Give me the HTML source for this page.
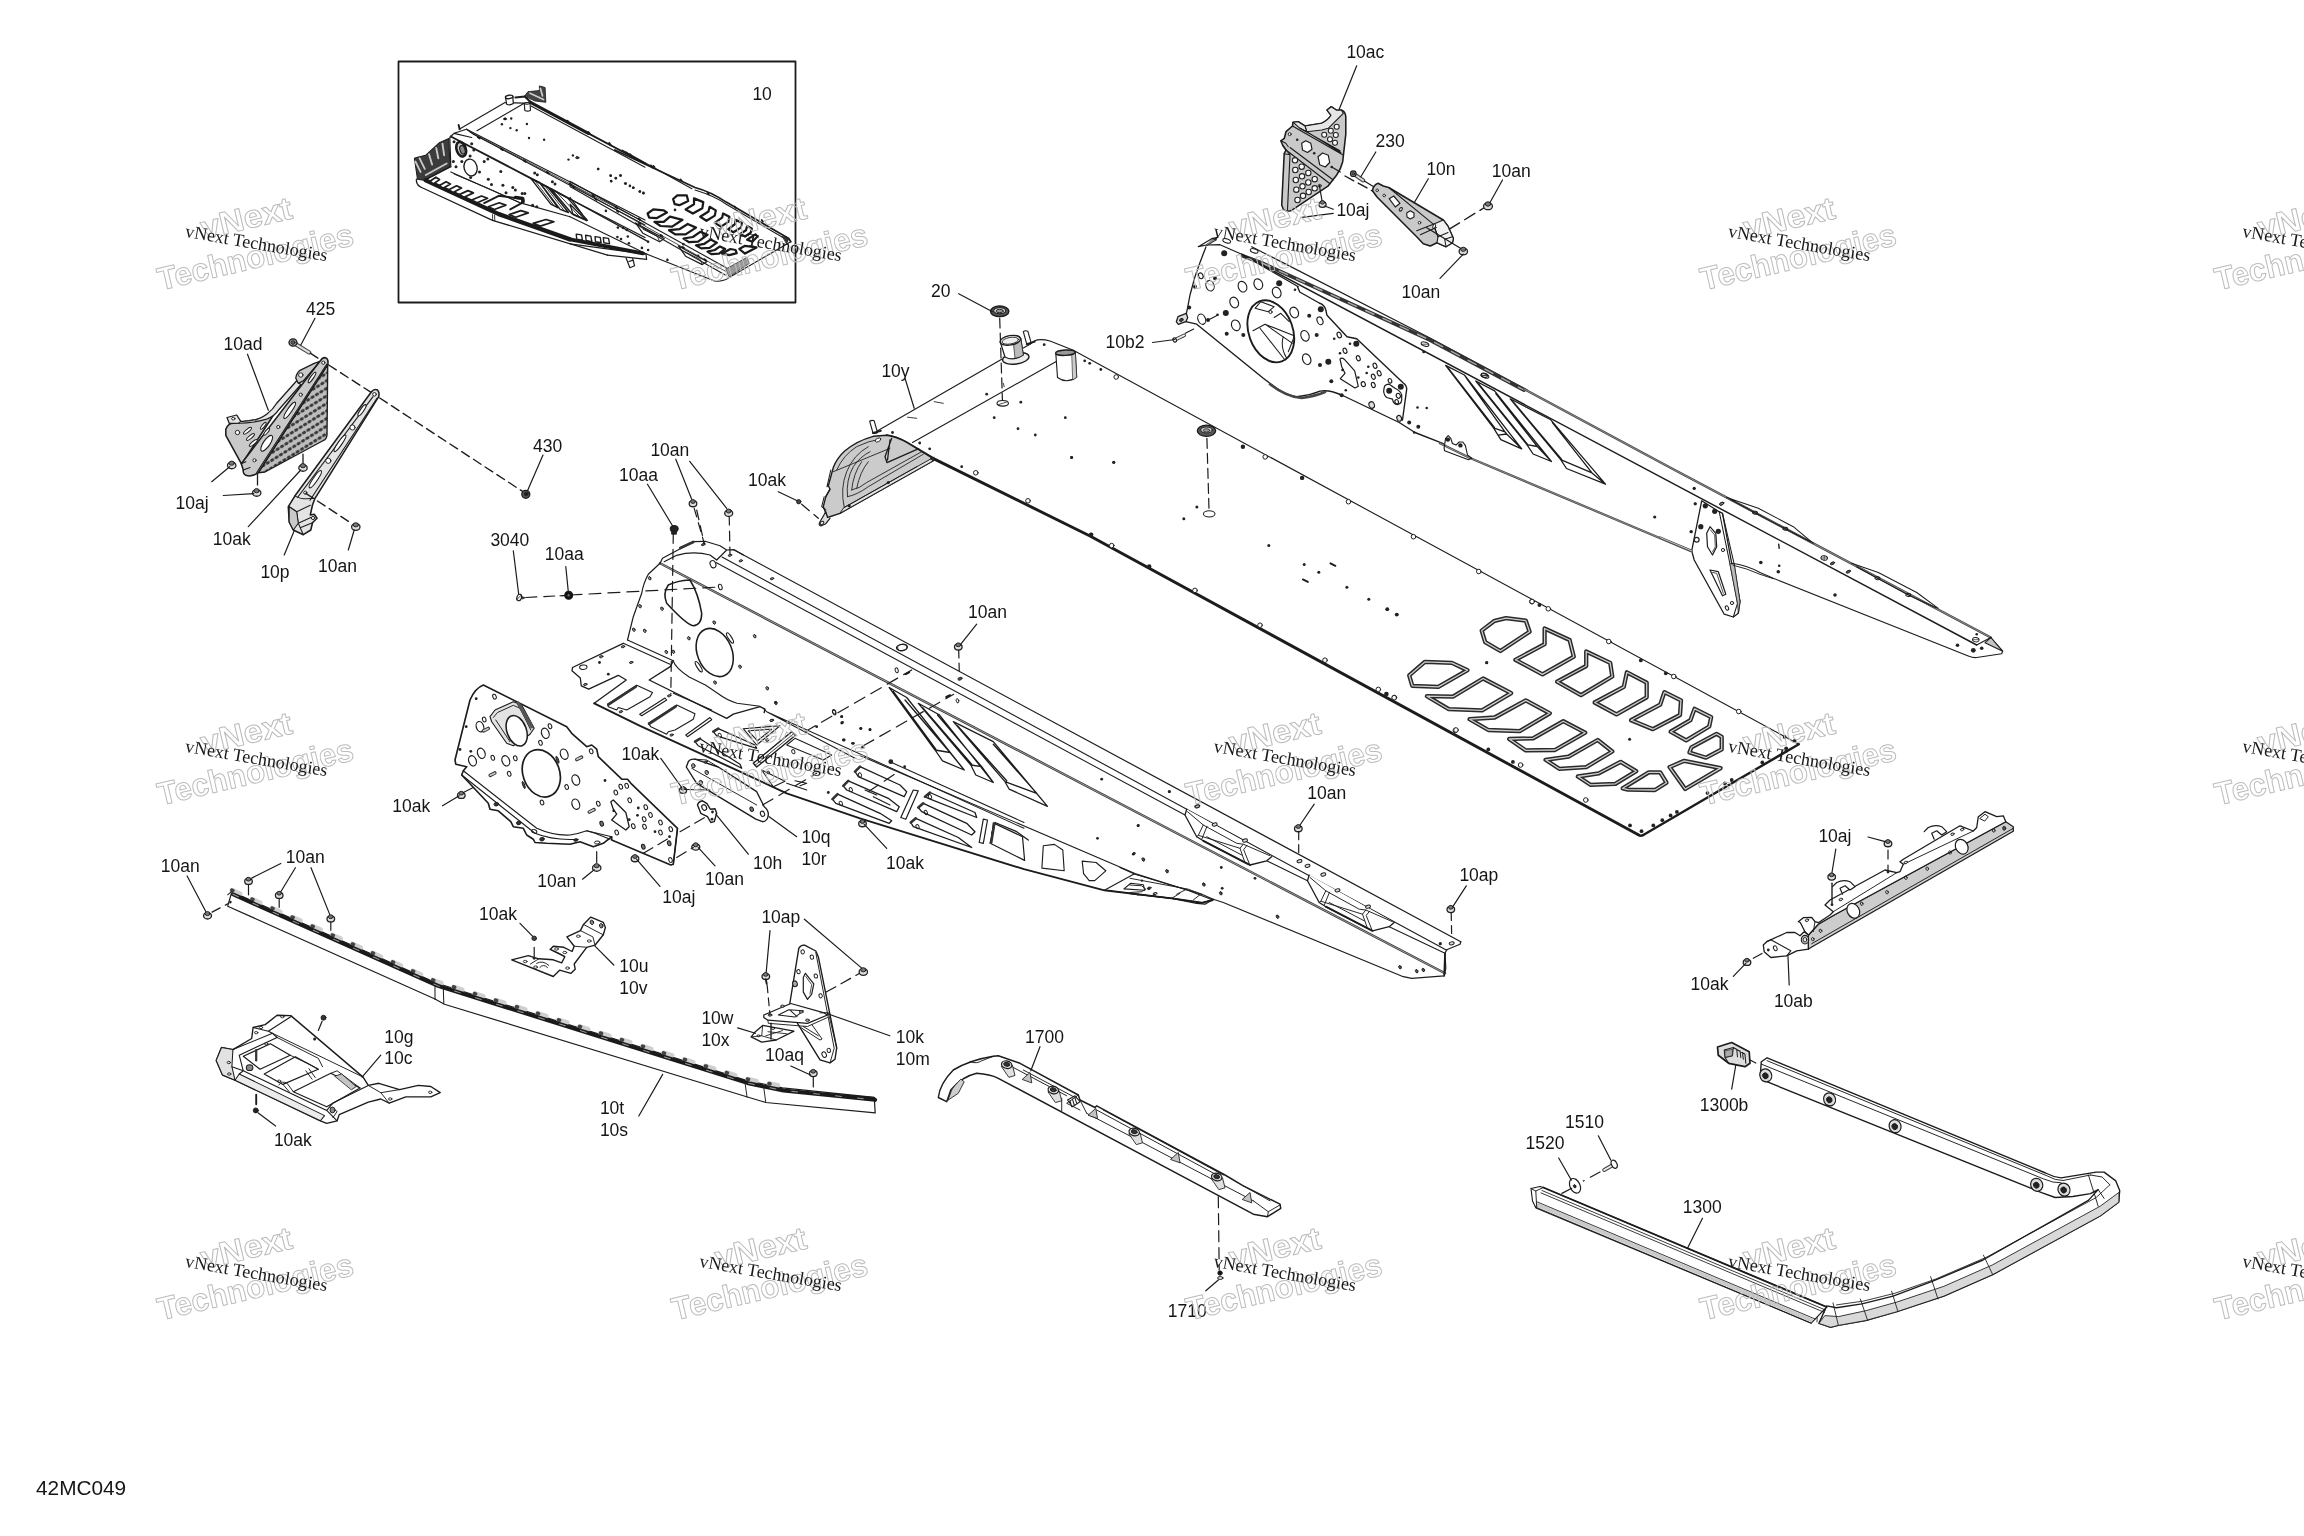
<!DOCTYPE html>
<html lang="en"><head><meta charset="utf-8"><title>42MC049</title>
<style>
html,body{margin:0;padding:0;background:#fff}
body{width:2304px;height:1536px;overflow:hidden}
svg{display:block;filter:blur(0.45px)}
svg text{font-family:"Liberation Sans",sans-serif;fill:#151515}
.wm1{font-family:"Liberation Sans",sans-serif;font-weight:bold;font-size:32px;fill:none;stroke:#bcbcbc;stroke-width:1px;text-anchor:middle}
.wm2{font-family:"Liberation Serif",serif;font-size:18px;fill:#1a1a1a}
</style></head><body>
<svg width="2304" height="1536" viewBox="0 0 2304 1536" stroke-linecap="round" stroke-linejoin="round">
<rect width="2304" height="1536" fill="#fff"/>
<g id="00_box">
<rect x="398.5" y="61.5" width="397" height="241" fill="none" stroke="#1c1c1c" stroke-width="1.8"/>
</g>
<g id="05_inset">
<path d="M 505.0 102.6 L 459.2 129.2 M 523.8 103.6 L 476.9 130.7 M 505.0 102.6 L 523.8 103.1" fill="none" stroke="#1c1c1c" stroke-width="1.12" />
<path d="M 530.0 102.1 L 588.3 133.3" fill="none" stroke="#1a1a1a" stroke-width="3.10" />
<path d="M 588.3 133.3 L 645.0 163.5" fill="none" stroke="#1a1a1a" stroke-width="1.89" />
<path d="M 531.0 106.0 L 645.0 167.2" fill="none" stroke="#1c1c1c" stroke-width="1.03" />
<path d="M 524.8 95.8 L 527.9 91.7 L 539.4 90.6 L 539.4 85.9 L 545.1 87.5 L 545.8 102.3 L 535.2 101.0 Z" fill="#444" stroke="#1c1c1c" stroke-width="0.86" />
<path d="M 530.0 93.2 L 543.5 99.5 M 540.4 88.5 L 542.5 95.8" fill="none" stroke="#ccc" stroke-width="1.72" />
<path d="M 515.4 97.4 L 524.8 96.4 L 530.0 101.6" fill="none" stroke="#1c1c1c" stroke-width="2.06" />
<path d="M 505.5 97.4 L 506.6 104.2 Q 510.2 105.7 513.3 103.6 L 512.8 96.4 Z" fill="#fff" stroke="#1c1c1c" stroke-width="1.20" />
<ellipse cx="509.2" cy="96.9" rx="3.8" ry="1.7" fill="#fff" stroke="#1c1c1c" stroke-width="1.38" transform="rotate(-8 509.2 96.9)"/>
<path d="M 524.3 103.6 L 524.8 110.4 Q 527.9 112.0 530.5 110.2 L 530.0 103.1 Z" fill="#fff" stroke="#1c1c1c" stroke-width="1.12" />
<ellipse cx="527.1" cy="103.3" rx="2.9" ry="0.9" fill="#ddd" stroke="#1c1c1c" stroke-width="1.03"/>
<path d="M 458.6 125.0 L 459.7 129.2" fill="none" stroke="#1c1c1c" stroke-width="1.89" />
<path d="M 466.5 129.2 L 645.0 220.0 M 473.8 134.4 L 645.0 225.0" fill="none" stroke="#1c1c1c" stroke-width="1.12" />
<path d="M 470.1 132.1 L 645.0 222.5" fill="none" stroke="#1c1c1c" stroke-width="0.77" />
<path d="M 450.8 136.5 L 454.0 133.3 L 466.5 129.2 L 473.8 134.4 M 454.0 133.3 L 471.7 137.5" fill="none" stroke="#1c1c1c" stroke-width="1.20" />
<path d="M 450.8 136.5 L 531.0 178.3 L 570.0 199.0" fill="none" stroke="#1c1c1c" stroke-width="1.89" />
<path d="M 570.0 199.0 L 645.0 237.5" fill="none" stroke="#1c1c1c" stroke-width="1.38" />
<path d="M 450.8 136.5 L 449.8 137.5 L 450.8 166.7" fill="none" stroke="#1c1c1c" stroke-width="1.20" />
<ellipse cx="461.2" cy="149.2" rx="4.6" ry="7.5" fill="#ccc" stroke="#1c1c1c" stroke-width="2.58" transform="rotate(-18 461.2 149.2)"/>
<ellipse cx="462.5" cy="149.8" rx="2.5" ry="4.4" fill="#888" stroke="#1c1c1c" stroke-width="1.20" transform="rotate(-18 462.5 149.8)"/>
<ellipse cx="470.6" cy="167.5" rx="6.5" ry="8.5" fill="none" stroke="#1c1c1c" stroke-width="1.38" transform="rotate(-15 470.6 167.5)"/>
<path d="M 531.0 178.6 L 539.4 182.3 L 558.1 207.8 L 550.8 204.2 Z M 540.4 183.3 L 547.7 187.0 L 568.5 212.5 L 560.2 209.4 Z M 550.8 188.5 L 567.5 197.9 L 587.3 220.3 L 571.7 213.5 Z" fill="none" stroke="#1c1c1c" stroke-width="1.38" />
<path d="M 535.2 181.2 L 554.0 205.7 M 544.6 185.6 L 564.4 210.9 M 557.1 192.7 L 580.0 217.2" fill="none" stroke="#1c1c1c" stroke-width="0.86" />
<path d="M 414.4 158.3 L 417.5 157.3 L 425.8 155.2 L 439.4 142.7 L 448.8 138.5 L 450.0 166.7 L 423.8 180.2 L 417.5 179.2 Z" fill="#3c3c3c" stroke="#1c1c1c" stroke-width="1.03" />
<path d="M 415.4 161.5 L 420.6 171.9 M 419.6 158.3 L 424.8 168.8 M 429.0 154.2 L 432.1 164.6 M 436.2 147.9 L 438.3 158.3 M 442.5 143.8 L 444.1 155.2 M 425.8 175.0 L 446.7 163.5" fill="none" stroke="#c8c8c8" stroke-width="1.89" />
<path d="M 416.5 179.2 Q 415.4 185.4 423.8 188.5 L 492.5 220.3 L 607.5 255.2 M 450.8 166.7 L 425.8 179.7" fill="none" stroke="#1c1c1c" stroke-width="1.29" />
<path d="M 425.8 180.4 L 498.8 214.1 L 570.0 239.4" fill="none" stroke="#1a1a1a" stroke-width="4.30" />
<path d="M 450.8 171.9 L 519.6 202.6 L 570.0 216.7" fill="none" stroke="#1c1c1c" stroke-width="1.12" />
<path d="M 454.0 174.0 L 488.3 188.5 L 519.6 202.6" fill="none" stroke="#1c1c1c" stroke-width="0.95" />
<path d="M 492.5 214.6 L 492.7 220.3 M 494.6 215.1 L 494.8 220.8" fill="none" stroke="#1c1c1c" stroke-width="0.86" />
<path d="M 430.0 181.2 L 435.8 177.3 L 439.5 179.6 L 433.2 184.0 Z" fill="#fff" stroke="#1c1c1c" stroke-width="1.72" />
<path d="M 439.4 185.6 L 446.1 181.7 L 450.4 184.0 L 443.1 188.3 Z" fill="#fff" stroke="#1c1c1c" stroke-width="1.72" />
<path d="M 448.8 189.8 L 456.6 185.8 L 461.5 188.1 L 453.1 192.5 Z" fill="#fff" stroke="#1c1c1c" stroke-width="1.72" />
<path d="M 459.2 194.6 L 467.9 190.6 L 473.4 192.9 L 464.1 197.3 Z" fill="#fff" stroke="#1c1c1c" stroke-width="1.72" />
<path d="M 471.7 200.0 L 481.5 196.0 L 487.6 198.3 L 477.2 202.7 Z" fill="#fff" stroke="#1c1c1c" stroke-width="1.72" />
<path d="M 488.3 206.8 L 499.2 202.8 L 505.9 205.1 L 494.4 209.5 Z" fill="#fff" stroke="#1c1c1c" stroke-width="1.72" />
<path d="M 509.2 214.6 L 520.9 210.6 L 528.3 212.9 L 515.7 217.3 Z" fill="#fff" stroke="#1c1c1c" stroke-width="1.72" />
<path d="M 533.1 223.4 L 545.9 219.5 L 554.0 221.8 L 540.3 226.1 Z" fill="#fff" stroke="#1c1c1c" stroke-width="1.72" />
<path d="M 484.2 203.1 L 498.8 195.8 L 522.7 199.0 L 521.7 203.1 L 510.2 209.4" fill="none" stroke="#1c1c1c" stroke-width="1.89" />
<path d="M 515.4 197.4 L 522.7 198.4 L 523.2 201.6" fill="none" stroke="#1a1a1a" stroke-width="3.44" />
<circle cx="505.0" cy="118.8" r="1.2" fill="#222"/>
<circle cx="501.9" cy="124.2" r="1.2" fill="#222"/>
<circle cx="511.2" cy="118.5" r="1.2" fill="#222"/>
<circle cx="526.9" cy="124.0" r="1.2" fill="#222"/>
<circle cx="510.4" cy="128.1" r="1.2" fill="#222"/>
<circle cx="516.7" cy="130.2" r="1.2" fill="#222"/>
<circle cx="529.0" cy="138.0" r="1.2" fill="#222"/>
<circle cx="544.1" cy="139.8" r="1.2" fill="#222"/>
<circle cx="576.9" cy="157.8" r="1.2" fill="#222"/>
<circle cx="568.5" cy="159.6" r="1.2" fill="#222"/>
<circle cx="572.9" cy="155.4" r="1.2" fill="#222"/>
<circle cx="598.2" cy="169.0" r="1.2" fill="#222"/>
<circle cx="610.7" cy="175.8" r="1.2" fill="#222"/>
<circle cx="620.6" cy="175.5" r="1.2" fill="#222"/>
<circle cx="615.9" cy="178.3" r="1.2" fill="#222"/>
<circle cx="611.2" cy="181.2" r="1.2" fill="#222"/>
<circle cx="625.8" cy="183.5" r="1.2" fill="#222"/>
<circle cx="633.1" cy="187.7" r="1.2" fill="#222"/>
<circle cx="639.9" cy="191.5" r="1.2" fill="#222"/>
<circle cx="643.5" cy="193.2" r="1.2" fill="#222"/>
<ellipse cx="505.0" cy="119.0" rx="1.7" ry="1.0" fill="#111" stroke="#1c1c1c" stroke-width="0.43"/>
<ellipse cx="577.4" cy="157.8" rx="1.5" ry="0.9" fill="#444" stroke="#1c1c1c" stroke-width="0.43"/>
<circle cx="454.0" cy="141.7" r="1.5" fill="#222"/>
<circle cx="471.7" cy="143.8" r="1.5" fill="#222"/>
<circle cx="473.8" cy="150.0" r="1.5" fill="#222"/>
<circle cx="470.1" cy="156.0" r="1.5" fill="#222"/>
<circle cx="453.4" cy="161.5" r="1.5" fill="#222"/>
<circle cx="461.8" cy="161.5" r="1.5" fill="#222"/>
<circle cx="456.0" cy="166.7" r="1.5" fill="#222"/>
<circle cx="479.5" cy="171.9" r="1.5" fill="#222"/>
<circle cx="470.6" cy="177.6" r="1.5" fill="#222"/>
<circle cx="484.2" cy="161.5" r="1.5" fill="#222"/>
<circle cx="487.8" cy="158.9" r="1.5" fill="#222"/>
<circle cx="488.3" cy="179.2" r="1.5" fill="#222"/>
<circle cx="491.5" cy="184.4" r="1.5" fill="#222"/>
<circle cx="500.8" cy="171.4" r="1.5" fill="#222"/>
<circle cx="502.9" cy="185.2" r="1.5" fill="#222"/>
<circle cx="506.0" cy="192.7" r="1.5" fill="#222"/>
<circle cx="512.8" cy="187.5" r="1.5" fill="#222"/>
<circle cx="515.4" cy="190.1" r="1.5" fill="#222"/>
<circle cx="522.2" cy="193.5" r="1.5" fill="#222"/>
<circle cx="524.8" cy="193.5" r="1.5" fill="#222"/>
<circle cx="534.7" cy="172.9" r="1.5" fill="#222"/>
<circle cx="537.3" cy="174.8" r="1.5" fill="#222"/>
<circle cx="552.4" cy="181.8" r="1.5" fill="#222"/>
<circle cx="555.0" cy="183.9" r="1.5" fill="#222"/>
<circle cx="532.6" cy="205.2" r="1.5" fill="#222"/>
<circle cx="536.8" cy="206.8" r="1.5" fill="#222"/>
<path d="M 477.9 137.1 L 479.8 138.3" fill="none" stroke="#1a1a1a" stroke-width="2.06" />
<path d="M 500.8 148.6 L 502.7 149.9" fill="none" stroke="#1a1a1a" stroke-width="2.06" />
<path d="M 523.8 160.3 L 525.6 161.6" fill="none" stroke="#1a1a1a" stroke-width="2.06" />
<path d="M 546.7 172.0 L 548.5 173.2" fill="none" stroke="#1a1a1a" stroke-width="2.06" />
<path d="M 569.6 183.6 L 571.5 184.9" fill="none" stroke="#1a1a1a" stroke-width="2.06" />
<path d="M 592.5 195.2 L 594.4 196.5" fill="none" stroke="#1a1a1a" stroke-width="2.06" />
<path d="M 615.4 206.9 L 617.3 208.1" fill="none" stroke="#1a1a1a" stroke-width="2.06" />
<path d="M 638.3 218.5 L 640.2 219.8" fill="none" stroke="#1a1a1a" stroke-width="2.06" />
<path d="M 567.5 120.9 L 569.0 122.8" fill="none" stroke="#1a1a1a" stroke-width="2.06" />
<path d="M 588.3 132.1 L 589.8 134.0" fill="none" stroke="#1a1a1a" stroke-width="2.06" />
<path d="M 609.2 143.2 L 610.6 145.1" fill="none" stroke="#1a1a1a" stroke-width="2.06" />
<path d="M 630.0 154.4 L 631.5 156.2" fill="none" stroke="#1a1a1a" stroke-width="2.06" />
<path d="M 650.8 165.5 L 652.3 167.4" fill="none" stroke="#1a1a1a" stroke-width="2.06" />
<path d="M 614.8 150.0 L 695.0 187.5 Q 710.6 191.7 726.2 202.1 L 788.8 238.5 L 790.8 241.7" fill="none" stroke="#1a1a1a" stroke-width="1.72" />
<path d="M 622.1 150.0 L 691.9 188.8 M 695.0 190.1 Q 713.8 195.8 726.2 204.2 L 784.6 238.5" fill="none" stroke="#1c1c1c" stroke-width="1.03" />
<path d="M 790.8 241.7 L 728.3 278.1 Q 725.2 280.7 715.8 281.5 L 647.1 254.2" fill="none" stroke="#1c1c1c" stroke-width="1.20" />
<path d="M 726.2 268.8 L 747.1 257.3 L 749.2 263.5 L 729.4 276.6 Z" fill="#999" stroke="#1c1c1c" stroke-width="0.69" />
<path d="M 782.5 236.5 L 788.8 238.5 L 786.7 243.8 Z" fill="#333" stroke="#1c1c1c" stroke-width="0.69" />
<path d="M 570.0 181.2 L 726.2 267.7 M 570.0 186.5 L 725.2 275.0" fill="none" stroke="#1c1c1c" stroke-width="1.12" />
<path d="M 570.0 183.9 L 725.7 271.4" fill="none" stroke="#1c1c1c" stroke-width="0.77" />
<path d="M 570.0 199.0 L 648.1 241.7" fill="none" stroke="#1c1c1c" stroke-width="1.38" />
<path d="M 570.0 216.7 L 647.1 254.2" fill="none" stroke="#1c1c1c" stroke-width="1.12" />
<path d="M 635.6 222.9 L 642.9 233.3 L 659.6 241.7 L 664.3 238.5 L 642.9 227.1 Z" fill="none" stroke="#1c1c1c" stroke-width="1.20" />
<path d="M 642.9 229.2 L 657.5 236.5 L 659.6 241.7" fill="none" stroke="#1c1c1c" stroke-width="0.86" />
<path d="M 678.3 245.8 L 685.6 256.2 L 702.3 264.6 L 707.0 261.5 L 685.6 250.0 Z" fill="none" stroke="#1c1c1c" stroke-width="1.20" />
<path d="M 685.6 252.1 L 700.2 259.4 L 702.3 264.6" fill="none" stroke="#1c1c1c" stroke-width="0.86" />
<path d="M 570.0 204.2 L 586.7 220.8 L 573.1 214.6 Z M 570.0 197.4 L 582.5 214.6" fill="none" stroke="#1c1c1c" stroke-width="1.20" />
<path d="M 673.1 199.0 L 677.3 195.3 L 686.7 195.3 L 688.2 201.0 L 679.4 205.2 L 674.7 204.2 Z" fill="none" stroke="#1a1a1a" stroke-width="2.24" />
<path d="M 694.0 198.4 L 703.3 202.1 L 702.3 208.3 L 692.9 213.5 L 685.6 209.4 L 694.0 204.2 Z" fill="none" stroke="#1a1a1a" stroke-width="2.24" />
<path d="M 709.6 206.8 L 715.8 210.4 L 714.8 215.6 L 706.5 220.8 L 700.2 216.7 L 708.5 211.5 Z" fill="none" stroke="#1a1a1a" stroke-width="2.24" />
<path d="M 723.1 213.5 L 729.4 216.7 L 728.3 221.9 L 721.0 226.6 L 714.8 222.9 L 722.1 217.7 Z" fill="none" stroke="#1a1a1a" stroke-width="2.24" />
<path d="M 735.6 219.8 L 741.9 222.9 L 740.8 227.6 L 733.5 232.3 L 728.3 229.2 L 735.1 224.0 Z" fill="none" stroke="#1a1a1a" stroke-width="2.24" />
<path d="M 747.1 226.0 L 751.8 228.6 L 750.7 232.8 L 745.0 236.5 L 740.3 233.9 L 746.0 230.2 Z" fill="none" stroke="#1a1a1a" stroke-width="2.24" />
<path d="M 755.4 234.4 L 757.5 236.5 L 752.3 241.7 L 747.1 239.6 Z" fill="none" stroke="#1a1a1a" stroke-width="2.24" />
<path d="M 647.6 213.5 L 653.3 209.4 L 663.8 210.4 L 666.9 212.5 L 656.5 218.2 L 649.2 217.7 Z" fill="none" stroke="#1a1a1a" stroke-width="2.24" />
<path d="M 654.4 221.9 L 663.8 221.9 L 670.0 216.7 L 682.5 219.8 L 672.1 226.6 L 660.6 226.0 Z" fill="none" stroke="#1a1a1a" stroke-width="2.24" />
<path d="M 669.0 230.2 L 679.4 229.2 L 687.7 224.0 L 696.0 227.6 L 685.6 234.4 L 675.2 234.4 Z" fill="none" stroke="#1a1a1a" stroke-width="2.24" />
<path d="M 683.5 238.5 L 692.9 237.0 L 700.2 231.8 L 707.5 234.9 L 698.1 241.7 L 688.8 242.2 Z" fill="none" stroke="#1a1a1a" stroke-width="2.24" />
<path d="M 696.0 245.3 L 704.4 243.8 L 710.6 239.6 L 716.9 242.7 L 709.6 247.9 L 701.2 248.4 Z" fill="none" stroke="#1a1a1a" stroke-width="2.24" />
<path d="M 707.5 251.6 L 714.8 250.0 L 720.0 246.4 L 725.2 249.0 L 719.0 253.6 L 711.7 254.2 Z" fill="none" stroke="#1a1a1a" stroke-width="2.24" />
<path d="M 722.1 253.6 L 730.4 249.0 L 735.6 250.0 L 736.7 253.1 L 729.4 255.2 Z" fill="none" stroke="#1a1a1a" stroke-width="2.24" />
<path d="M 739.3 249.0 L 745.0 245.8 L 756.5 247.4 L 745.0 253.6 Z" fill="none" stroke="#1a1a1a" stroke-width="2.24" />
<path d="M 570.0 243.8 L 646.0 254.2 L 646.6 259.4 L 607.5 255.2" fill="none" stroke="#1c1c1c" stroke-width="1.20" />
<path d="M 570.0 239.4 L 642.9 253.3" fill="none" stroke="#1a1a1a" stroke-width="3.87" />
<path d="M 576.2 234.1 L 581.5 234.9 L 582.5 240.3 L 576.8 239.3 Z" fill="#fff" stroke="#1c1c1c" stroke-width="1.38" />
<path d="M 585.6 235.3 L 590.8 236.1 L 591.9 241.6 L 586.1 240.5 Z" fill="#fff" stroke="#1c1c1c" stroke-width="1.38" />
<path d="M 595.0 236.6 L 600.2 237.4 L 601.2 242.8 L 595.5 241.8 Z" fill="#fff" stroke="#1c1c1c" stroke-width="1.38" />
<path d="M 603.3 237.6 L 608.5 238.4 L 609.6 243.9 L 603.9 242.8 Z" fill="#fff" stroke="#1c1c1c" stroke-width="1.38" />
<path d="M 626.2 258.3 L 629.9 267.7 L 634.6 265.8 L 632.7 258.5 M 628.9 261.5 L 632.5 260.4" fill="none" stroke="#1c1c1c" stroke-width="1.20" />
<circle cx="598.1" cy="169.0" r="1.3" fill="#222"/>
<circle cx="610.6" cy="175.5" r="1.3" fill="#222"/>
<circle cx="615.8" cy="178.1" r="1.3" fill="#222"/>
<circle cx="620.5" cy="175.5" r="1.3" fill="#222"/>
<circle cx="611.1" cy="181.0" r="1.3" fill="#222"/>
<circle cx="625.2" cy="183.5" r="1.3" fill="#222"/>
<circle cx="629.9" cy="185.9" r="1.3" fill="#222"/>
<circle cx="633.5" cy="187.7" r="1.3" fill="#222"/>
<circle cx="639.8" cy="191.5" r="1.3" fill="#222"/>
<circle cx="643.4" cy="192.9" r="1.3" fill="#222"/>
<circle cx="577.3" cy="157.5" r="1.3" fill="#222"/>
<circle cx="675.0" cy="209.9" r="1.3" fill="#222"/>
<circle cx="605.9" cy="210.9" r="1.3" fill="#222"/>
<circle cx="617.9" cy="227.6" r="1.3" fill="#222"/>
<circle cx="623.1" cy="227.9" r="1.3" fill="#222"/>
<circle cx="626.8" cy="230.0" r="1.3" fill="#222"/>
<circle cx="617.4" cy="237.0" r="1.3" fill="#222"/>
<circle cx="621.0" cy="239.1" r="1.3" fill="#222"/>
<circle cx="627.8" cy="236.5" r="1.3" fill="#222"/>
<circle cx="628.9" cy="243.2" r="1.3" fill="#222"/>
<circle cx="641.9" cy="247.9" r="1.3" fill="#222"/>
<circle cx="648.1" cy="241.7" r="1.3" fill="#222"/>
<circle cx="648.1" cy="250.0" r="1.3" fill="#222"/>
<circle cx="667.4" cy="259.9" r="1.3" fill="#222"/>
<circle cx="683.5" cy="244.3" r="1.3" fill="#222"/>
<circle cx="698.1" cy="255.7" r="1.3" fill="#222"/>
<ellipse cx="577.3" cy="157.7" rx="1.7" ry="1.0" fill="#444" stroke="#1c1c1c" stroke-width="0.43"/>
<path d="M 573.1 186.6 L 574.6 187.6" fill="none" stroke="#1a1a1a" stroke-width="1.89" />
<path d="M 595.0 198.6 L 596.5 199.7" fill="none" stroke="#1a1a1a" stroke-width="1.89" />
<path d="M 616.9 210.7 L 618.3 211.8" fill="none" stroke="#1a1a1a" stroke-width="1.89" />
<path d="M 638.8 222.8 L 640.2 223.9" fill="none" stroke="#1a1a1a" stroke-width="1.89" />
<path d="M 660.6 235.0 L 662.1 236.0" fill="none" stroke="#1a1a1a" stroke-width="1.89" />
<path d="M 682.5 247.1 L 684.0 248.1" fill="none" stroke="#1a1a1a" stroke-width="1.89" />
<path d="M 704.4 259.2 L 705.8 260.2" fill="none" stroke="#1a1a1a" stroke-width="1.89" />
<path d="M 626.2 152.3 L 627.5 153.8" fill="none" stroke="#1a1a1a" stroke-width="1.72" />
<path d="M 653.3 165.8 L 654.6 167.3" fill="none" stroke="#1a1a1a" stroke-width="1.72" />
<path d="M 680.4 179.4 L 681.7 180.8" fill="none" stroke="#1a1a1a" stroke-width="1.72" />
<path d="M 707.5 192.9 L 708.8 194.4" fill="none" stroke="#1a1a1a" stroke-width="1.72" />
<path d="M 734.6 206.5 L 735.8 207.9" fill="none" stroke="#1a1a1a" stroke-width="1.72" />
<path d="M 761.7 220.0 L 762.9 221.5" fill="none" stroke="#1a1a1a" stroke-width="1.72" />
</g>
<g id="10_topleft">
<defs><pattern id="perf" width="5.2" height="6.4" patternUnits="userSpaceOnUse" patternTransform="rotate(-32)"><rect width="5.2" height="6.4" fill="#bdbdbd"/><ellipse cx="2.6" cy="3.2" rx="2.3" ry="1.5" fill="#3a3a3a"/></pattern></defs>
<path d="M 327.7 364.7 L 327.0 434.7 Q 326.7 439.2 323.3 440.5 L 265.0 472.0 L 258.3 472.7 Z" fill="url(#perf)" stroke="#1c1c1c" stroke-width="1.38" />
<path d="M 225.8 429.2 Q 228.3 423.3 233.3 423.3 L 266.7 418.0 L 276.7 410.0 L 243.3 461.7 L 241.3 463.7 L 225.8 435.3 Z" fill="#c9c9c9" stroke="#1c1c1c" stroke-width="1.55" />
<path d="M 227.0 417.5 L 236.7 415.0 L 240.8 421.3 Q 256.7 421.7 266.7 414.2 Q 273.3 409.2 276.7 403.3 L 296.7 380.8 L 300.8 384.7 L 279.2 409.2 Q 274.2 416.7 266.7 419.2 Q 253.3 423.3 233.3 423.3 L 229.2 423.3 Z" fill="#e4e4e4" stroke="#1c1c1c" stroke-width="1.29" />
<path d="M 240.8 421.3 L 238.3 423.3" fill="none" stroke="#1c1c1c" stroke-width="1.03" />
<ellipse cx="233.3" cy="418.7" rx="1.7" ry="1.3" fill="#fff" stroke="#1c1c1c" stroke-width="0.95"/>
<path d="M 314.2 363.3 L 300.0 370.3 Q 296.3 373.3 295.8 378.3 L 298.3 383.3 L 303.3 380.8 L 320.0 361.3 Z" fill="#c9c9c9" stroke="#1c1c1c" stroke-width="1.29" />
<path d="M 320.3 360.7 Q 323.3 356.3 326.7 358.3 Q 328.7 360.8 327.7 364.7 L 258.3 472.7 Q 251.7 477.5 245.8 475.3 Q 242.5 473.3 243.3 470.0 L 241.3 463.7 Z" fill="#c9c9c9" stroke="#1c1c1c" stroke-width="1.55" />
<path d="M 326.7 364.2 L 256.7 472.5 M 241.3 463.7 L 245.8 461.7 M 243.3 470.0 L 250.0 467.5" fill="none" stroke="#1c1c1c" stroke-width="1.12" />
<ellipse cx="312.0" cy="377.5" rx="6.3" ry="1.5" fill="#fff" stroke="#1c1c1c" stroke-width="1.12" transform="rotate(-55.5 312.0 377.5)"/>
<ellipse cx="289.7" cy="410.3" rx="9.7" ry="2.2" fill="#fff" stroke="#1c1c1c" stroke-width="1.12" transform="rotate(-55.5 289.7 410.3)"/>
<ellipse cx="266.7" cy="443.3" rx="9.3" ry="3.3" fill="#fff" stroke="#1c1c1c" stroke-width="1.12" transform="rotate(-55.5 266.7 443.3)"/>
<circle cx="323.3" cy="362.7" r="1.6" fill="#fff" stroke="#222" stroke-width="1"/>
<circle cx="300.8" cy="394.7" r="1.6" fill="#fff" stroke="#222" stroke-width="1"/>
<circle cx="278.3" cy="427.0" r="1.6" fill="#fff" stroke="#222" stroke-width="1"/>
<circle cx="254.5" cy="460.3" r="1.6" fill="#fff" stroke="#222" stroke-width="1"/>
<circle cx="300.8" cy="375.0" r="2.2" fill="#fff" stroke="#222" stroke-width="1"/>
<circle cx="237.5" cy="432.5" r="2.2" fill="#fff" stroke="#222" stroke-width="1"/>
<ellipse cx="247.5" cy="430.8" rx="5.0" ry="1.5" fill="#fff" stroke="#1c1c1c" stroke-width="1.03" transform="rotate(-40 247.5 430.8)"/>
<ellipse cx="250.5" cy="437.0" rx="5.0" ry="1.5" fill="#fff" stroke="#1c1c1c" stroke-width="1.03" transform="rotate(-40 250.5 437.0)"/>
<ellipse cx="253.3" cy="443.0" rx="5.0" ry="1.5" fill="#fff" stroke="#1c1c1c" stroke-width="1.03" transform="rotate(-40 253.3 443.0)"/>
<ellipse cx="263.3" cy="425.8" rx="4.3" ry="1.3" fill="#fff" stroke="#1c1c1c" stroke-width="1.03" transform="rotate(-52 263.3 425.8)"/>
<ellipse cx="266.7" cy="431.7" rx="4.3" ry="1.3" fill="#fff" stroke="#1c1c1c" stroke-width="1.03" transform="rotate(-52 266.7 431.7)"/>
<path d="M 371.3 392.0 Q 374.2 388.3 377.5 390.0 Q 379.7 392.5 378.7 396.7 L 315.0 498.3 L 312.5 505.0 L 310.3 515.0 L 314.2 514.2 L 317.0 518.3 L 312.5 522.7 L 310.8 530.0 L 303.3 534.7 L 293.3 530.0 L 289.2 522.0 L 288.3 506.7 L 295.0 495.8 Z" fill="#e4e4e4" stroke="#1c1c1c" stroke-width="1.55" />
<path d="M 373.0 396.7 L 297.5 497.5 M 377.0 398.3 L 310.0 500.3" fill="none" stroke="#1c1c1c" stroke-width="1.12" />
<path d="M 295.0 495.8 Q 300.8 500.0 314.2 498.3 M 289.2 506.7 L 296.7 511.7 L 298.3 523.3 L 303.3 534.7 M 296.7 511.7 L 310.3 505.3 M 298.3 523.3 L 310.8 517.5 M 293.3 530.0 L 289.2 522.0 M 300.8 527.5 L 312.5 522.7" fill="none" stroke="#1c1c1c" stroke-width="1.03" />
<path d="M 289.2 506.7 L 296.7 511.7 L 298.3 523.3 L 293.3 530.0 L 289.2 522.0 Z" fill="#c9c9c9" stroke="#1c1c1c" stroke-width="1.03" />
<ellipse cx="362.0" cy="410.3" rx="6.7" ry="1.7" fill="#fff" stroke="#1c1c1c" stroke-width="1.12" transform="rotate(-55.5 362.0 410.3)"/>
<ellipse cx="340.0" cy="443.3" rx="10.0" ry="2.0" fill="#fff" stroke="#1c1c1c" stroke-width="1.12" transform="rotate(-55.5 340.0 443.3)"/>
<ellipse cx="315.3" cy="479.2" rx="10.3" ry="2.2" fill="#fff" stroke="#1c1c1c" stroke-width="1.12" transform="rotate(-55.5 315.3 479.2)"/>
<circle cx="374.5" cy="394.3" r="1.8" fill="#fff" stroke="#222" stroke-width="1"/>
<circle cx="352.5" cy="427.5" r="2.6" fill="#fff" stroke="#222" stroke-width="1"/>
<circle cx="328.3" cy="460.8" r="2.6" fill="#fff" stroke="#222" stroke-width="1"/>
<circle cx="305.3" cy="492.7" r="1.6" fill="#fff" stroke="#222" stroke-width="1"/>
<circle cx="313.0" cy="518.0" r="1.6" fill="#fff" stroke="#222" stroke-width="1"/>
<path d="M 294.7 343.7 L 309.2 352.5" fill="none" stroke="#444" stroke-width="4.30" />
<path d="M 294.7 343.7 L 309.2 352.5" fill="none" stroke="#ddd" stroke-width="2.06" />
<ellipse cx="293.0" cy="342.5" rx="4.0" ry="3.7" fill="#999" stroke="#1c1c1c" stroke-width="1.29"/>
<ellipse cx="293.0" cy="342.5" rx="2.0" ry="1.8" fill="#666" stroke="#1c1c1c" stroke-width="0.86"/>
<path d="M 310.3 353.2 L 320.3 359.7" fill="none" stroke="#1c1c1c" stroke-width="1.38" stroke-dasharray="9 5"/>
<path d="M 328.7 365.0 L 370.8 392.2" fill="none" stroke="#1c1c1c" stroke-width="1.38" stroke-dasharray="9 5"/>
<path d="M 379.7 398.0 L 523.0 491.7" fill="none" stroke="#1c1c1c" stroke-width="1.38" stroke-dasharray="9 5"/>
<path d="M 305.8 493.3 L 352.0 523.7" fill="none" stroke="#1c1c1c" stroke-width="1.38" stroke-dasharray="9 5"/>
<ellipse cx="525.8" cy="494.3" rx="4.0" ry="4.0" fill="#555" stroke="#1c1c1c" stroke-width="1.29"/>
<ellipse cx="526.2" cy="494.0" rx="1.8" ry="1.8" fill="#222" stroke="#1c1c1c" stroke-width="0.86"/>
<g><ellipse cx="231.7" cy="465.4" rx="4.2" ry="3.36" fill="#ddd" stroke="#222" stroke-width="1.3"/><ellipse cx="231.7" cy="463.2" rx="2.604" ry="2.1" fill="#777" stroke="#222" stroke-width="1"/></g>
<g><ellipse cx="256.7" cy="492.9" rx="4.2" ry="3.36" fill="#ddd" stroke="#222" stroke-width="1.3"/><ellipse cx="256.7" cy="490.7" rx="2.604" ry="2.1" fill="#777" stroke="#222" stroke-width="1"/></g>
<g><ellipse cx="303.0" cy="467.9" rx="4.2" ry="3.36" fill="#ddd" stroke="#222" stroke-width="1.3"/><ellipse cx="303.0" cy="465.7" rx="2.604" ry="2.1" fill="#777" stroke="#222" stroke-width="1"/></g>
<g><ellipse cx="355.8" cy="527.0" rx="4.2" ry="3.36" fill="#ddd" stroke="#222" stroke-width="1.3"/><ellipse cx="355.8" cy="524.8" rx="2.604" ry="2.1" fill="#777" stroke="#222" stroke-width="1"/></g>
<path d="M 257.5 474.2 L 257.5 485.0 M 303.0 454.2 L 303.0 463.3" fill="none" stroke="#1c1c1c" stroke-width="1.29" />
<path d="M 315.0 318.3 L 300.8 345.0 M 247.5 354.2 L 268.3 410.3 M 211.7 481.7 L 229.7 466.7 M 223.3 495.5 L 253.7 493.7 M 248.3 526.7 L 300.8 470.0 M 294.2 530.8 L 284.2 555.0 M 354.2 530.0 L 348.3 550.0" fill="none" stroke="#1c1c1c" stroke-width="1.20" />
</g>
<g id="11_topright">
<path d="M 1327.0 110.0 L 1331.3 106.7 L 1336.7 110.3 L 1341.3 110.0 Q 1345.3 111.3 1345.8 116.7 L 1345.8 134.2 L 1342.7 161.7 Q 1340.8 169.2 1336.7 175.0 L 1328.3 185.8 L 1290.8 210.8 Q 1285.8 211.7 1283.3 209.2 L 1281.7 205.0 L 1284.2 153.7 L 1286.0 150.0 L 1282.7 145.3 L 1280.8 140.8 L 1284.3 138.3 L 1286.0 131.7 L 1292.5 126.0 L 1293.0 122.2 L 1298.3 121.7 L 1305.0 126.0 L 1321.7 123.3 Q 1328.3 120.0 1331.0 115.3 Z" fill="#c9c9c9" stroke="#1c1c1c" stroke-width="1.55" />
<path d="M 1327.0 110.0 L 1331.3 106.7 L 1336.7 110.3 L 1341.3 110.0 L 1343.3 113.3 L 1328.3 128.3 L 1321.7 130.0 L 1306.7 131.7 L 1305.0 126.0 L 1321.7 123.3 Q 1328.3 120.0 1331.0 115.3 Z" fill="#e6e6e6" stroke="#1c1c1c" stroke-width="1.12" />
<path d="M 1293.0 122.2 L 1298.3 121.7 L 1305.0 126.0 L 1306.7 131.7 L 1300.0 128.3 Z" fill="#e6e6e6" stroke="#1c1c1c" stroke-width="1.12" />
<path d="M 1292.5 126.0 L 1342.7 154.7 M 1300.0 128.3 L 1340.0 150.8 M 1286.0 150.0 L 1330.0 183.7 M 1290.0 147.5 L 1333.3 180.0 M 1306.7 131.7 L 1340.8 152.5" fill="none" stroke="#1c1c1c" stroke-width="1.12" />
<path d="M 1284.2 153.7 L 1290.0 154.7 L 1287.5 209.7 M 1286.0 150.0 L 1290.0 154.7" fill="none" stroke="#1c1c1c" stroke-width="1.12" />
<path d="M 1280.8 140.8 L 1285.8 143.3 L 1288.3 146.7 M 1282.7 145.3 L 1286.0 150.0" fill="none" stroke="#1c1c1c" stroke-width="1.03" />
<path d="M 1301.7 143.3 L 1305.8 140.8 L 1310.8 143.3 L 1312.0 149.2 L 1307.5 152.5 L 1302.5 150.0 Z" fill="#fff" stroke="#1c1c1c" stroke-width="1.20" />
<path d="M 1318.0 156.7 L 1322.5 153.0 L 1328.3 155.3 L 1329.7 162.5 L 1325.3 167.0 L 1319.7 164.7 Z" fill="#fff" stroke="#1c1c1c" stroke-width="1.20" />
<circle cx="1336.7" cy="126.7" r="2.5" fill="#fff" stroke="#222" stroke-width="1.1"/>
<circle cx="1330.8" cy="130.8" r="2.5" fill="#fff" stroke="#222" stroke-width="1.1"/>
<circle cx="1324.2" cy="134.7" r="2.5" fill="#fff" stroke="#222" stroke-width="1.1"/>
<circle cx="1335.8" cy="135.0" r="2.5" fill="#fff" stroke="#222" stroke-width="1.1"/>
<circle cx="1330.0" cy="139.2" r="2.5" fill="#fff" stroke="#222" stroke-width="1.1"/>
<circle cx="1335.0" cy="142.7" r="2.5" fill="#fff" stroke="#222" stroke-width="1.1"/>
<circle cx="1295.0" cy="160.3" r="2.7" fill="#fff" stroke="#222" stroke-width="1.1"/>
<circle cx="1301.7" cy="166.7" r="2.7" fill="#fff" stroke="#222" stroke-width="1.1"/>
<circle cx="1308.3" cy="173.0" r="2.7" fill="#fff" stroke="#222" stroke-width="1.1"/>
<circle cx="1314.7" cy="179.2" r="2.7" fill="#fff" stroke="#222" stroke-width="1.1"/>
<circle cx="1295.3" cy="170.0" r="2.7" fill="#fff" stroke="#222" stroke-width="1.1"/>
<circle cx="1302.0" cy="176.3" r="2.7" fill="#fff" stroke="#222" stroke-width="1.1"/>
<circle cx="1308.3" cy="182.5" r="2.7" fill="#fff" stroke="#222" stroke-width="1.1"/>
<circle cx="1314.7" cy="188.3" r="2.7" fill="#fff" stroke="#222" stroke-width="1.1"/>
<circle cx="1295.8" cy="180.0" r="2.7" fill="#fff" stroke="#222" stroke-width="1.1"/>
<circle cx="1302.5" cy="186.3" r="2.7" fill="#fff" stroke="#222" stroke-width="1.1"/>
<circle cx="1308.7" cy="192.0" r="2.7" fill="#fff" stroke="#222" stroke-width="1.1"/>
<circle cx="1296.3" cy="189.7" r="2.7" fill="#fff" stroke="#222" stroke-width="1.1"/>
<circle cx="1303.0" cy="195.8" r="2.7" fill="#fff" stroke="#222" stroke-width="1.1"/>
<circle cx="1297.5" cy="200.0" r="2.7" fill="#fff" stroke="#222" stroke-width="1.1"/>
<circle cx="1289.7" cy="134.2" r="1.5" fill="#fff" stroke="#222" stroke-width="1"/>
<circle cx="1319.7" cy="185.8" r="1.5" fill="#fff" stroke="#222" stroke-width="1"/>
<circle cx="1297.2" cy="139.7" r="1.3" fill="#222"/>
<circle cx="1314.2" cy="153.3" r="1.3" fill="#222"/>
<circle cx="1331.7" cy="167.0" r="1.3" fill="#222"/>
<path d="M 1372.5 190.8 Q 1373.3 185.0 1378.0 183.3 L 1383.3 186.0 L 1388.7 187.5 L 1443.3 220.0 L 1448.0 226.3 L 1453.3 238.3 L 1452.5 242.7 L 1446.0 246.7 L 1437.0 242.7 L 1430.3 246.0 L 1423.3 243.7 L 1416.7 236.7 L 1377.0 197.0 Z" fill="#c9c9c9" stroke="#1c1c1c" stroke-width="1.55" />
<path d="M 1433.3 224.2 L 1443.3 220.0 L 1448.0 226.3 L 1453.3 238.3 L 1452.5 242.7 L 1446.0 246.7 L 1437.0 242.7 L 1438.0 236.7 Z" fill="#f2f2f2" stroke="#1c1c1c" stroke-width="1.12" />
<path d="M 1416.7 230.8 L 1433.3 224.2 M 1420.3 234.7 L 1436.3 227.5 M 1438.0 236.7 L 1448.0 232.5 M 1433.3 224.2 L 1438.0 236.7 M 1446.0 246.7 L 1444.7 239.2 L 1452.5 236.7 M 1388.7 187.5 L 1433.3 224.2" fill="none" stroke="#1c1c1c" stroke-width="1.03" />
<path d="M 1389.2 198.7 L 1393.7 196.0 L 1400.0 203.3 L 1395.3 207.0 Z" fill="#fff" stroke="#1c1c1c" stroke-width="1.20" />
<path d="M 1406.7 213.0 L 1410.3 210.8 L 1414.0 213.0 L 1414.0 217.0 L 1410.3 219.0 L 1407.0 217.0 Z" fill="#fff" stroke="#1c1c1c" stroke-width="1.12" />
<circle cx="1377.2" cy="190.3" r="1.3" fill="#fff" stroke="#222" stroke-width="1"/>
<circle cx="1384.2" cy="195.5" r="1.3" fill="#fff" stroke="#222" stroke-width="1"/>
<circle cx="1419.5" cy="222.7" r="1.3" fill="#fff" stroke="#222" stroke-width="1"/>
<ellipse cx="1400.8" cy="209.3" rx="2.0" ry="1.3" fill="#ddd" stroke="#1c1c1c" stroke-width="1.03" transform="rotate(-50 1400.8 209.3)"/>
<ellipse cx="1434.2" cy="226.3" rx="1.3" ry="2.3" fill="#fff" stroke="#1c1c1c" stroke-width="1.03" transform="rotate(20 1434.2 226.3)"/>
<path d="M 1355.3 175.0 L 1363.3 180.5" fill="none" stroke="#444" stroke-width="3.96" />
<path d="M 1355.3 175.0 L 1363.3 180.5" fill="none" stroke="#ddd" stroke-width="1.89" />
<ellipse cx="1353.3" cy="173.7" rx="2.8" ry="2.8" fill="#999" stroke="#1c1c1c" stroke-width="1.20"/>
<ellipse cx="1353.3" cy="173.7" rx="1.3" ry="1.3" fill="#666" stroke="#1c1c1c" stroke-width="0.86"/>
<path d="M 1331.7 167.0 L 1340.3 172.0 M 1364.3 181.0 L 1373.7 186.7 M 1426.7 227.7 L 1461.3 248.7" fill="none" stroke="#1c1c1c" stroke-width="1.29" />
<path d="M 1345.0 176.0 L 1372.5 191.0" fill="none" stroke="#1c1c1c" stroke-width="1.38" stroke-dasharray="10 5"/>
<path d="M 1449.3 229.2 L 1483.7 208.0" fill="none" stroke="#1c1c1c" stroke-width="1.38" stroke-dasharray="12 6"/>
<g><ellipse cx="1488.0" cy="206.2" rx="4.4" ry="3.52" fill="#ddd" stroke="#222" stroke-width="1.3"/><ellipse cx="1488.0" cy="204.0" rx="2.728" ry="2.2" fill="#777" stroke="#222" stroke-width="1"/></g>
<g><ellipse cx="1463.3" cy="251.5" rx="4.2" ry="3.36" fill="#ddd" stroke="#222" stroke-width="1.3"/><ellipse cx="1463.3" cy="249.3" rx="2.604" ry="2.1" fill="#777" stroke="#222" stroke-width="1"/></g>
<g><ellipse cx="1322.5" cy="204.5" rx="3.6" ry="2.88" fill="#ddd" stroke="#222" stroke-width="1.3"/><ellipse cx="1322.5" cy="202.3" rx="2.232" ry="1.8" fill="#777" stroke="#222" stroke-width="1"/></g>
<path d="M 1319.3 185.0 L 1322.0 200.7" fill="none" stroke="#1c1c1c" stroke-width="1.20" />
<path d="M 1356.7 65.8 L 1339.2 109.3 M 1375.8 152.0 L 1360.8 176.7 M 1428.3 178.7 L 1414.2 202.7 M 1502.5 180.0 L 1490.0 202.5 M 1333.3 209.2 L 1324.7 206.0 M 1333.3 213.3 L 1302.0 217.3 M 1463.3 254.2 L 1440.0 278.3" fill="none" stroke="#1c1c1c" stroke-width="1.20" />
</g>
<g id="20_rightpanel">
<path d="M 1251.7 246.7 L 1430.0 338.0 L 1526.9 389.9" fill="none" stroke="#1c1c1c" stroke-width="1.20" />
<path d="M 1243.0 256.0 L 1262.0 263.0 L 1430.0 340.0 L 1524.0 390.0" fill="none" stroke="#333" stroke-width="3.78" />
<path d="M 1262.0 263.0 L 1430.0 340.0 L 1524.0 390.0" fill="none" stroke="#aaa" stroke-width="1.38" stroke-dasharray="9 10"/>
<path d="M 1524.0 389.0 L 1670.0 467.5 L 1990.8 637.5" fill="none" stroke="#454545" stroke-width="2.41" />
<path d="M 1524.0 389.0 L 1670.0 467.5 L 1990.8 637.5" fill="none" stroke="#ccc" stroke-width="0.52" />
<path d="M 1241.7 254.2 L 1976.7 645.0" fill="none" stroke="#1c1c1c" stroke-width="1.46" />
<path d="M 1185.8 321.7 L 1196.7 324.2 L 1263.3 378.3 L 1276.7 388.3 Q 1286.7 395.0 1296.7 396.7 Q 1310.0 395.3 1320.0 391.2 Q 1328.3 389.2 1341.7 395.0 L 1399.2 422.5 L 1415.0 432.5 L 1443.3 443.7" fill="none" stroke="#1c1c1c" stroke-width="1.38" />
<path d="M 1270.0 384.2 Q 1286.7 397.0 1301.7 398.0 Q 1315.0 396.3 1325.0 392.0" fill="none" stroke="#454545" stroke-width="2.58" />
<path d="M 1440.0 443.3 L 1470.0 458.0 L 1690.5 551.0" fill="none" stroke="#454545" stroke-width="2.24" />
<path d="M 1440.0 443.3 L 1470.0 458.0 L 1690.5 551.0" fill="none" stroke="#ccc" stroke-width="0.52" />
<path d="M 1205.8 247.5 Q 1200.0 261.7 1195.0 276.7 L 1190.0 295.0 L 1187.5 308.3 L 1185.8 315.8" fill="none" stroke="#1c1c1c" stroke-width="1.29" />
<path d="M 1198.3 246.7 L 1211.7 238.7 L 1218.0 237.3 L 1206.3 245.0 L 1220.0 244.7 L 1241.7 254.2 M 1206.3 245.0 L 1198.3 246.7" fill="none" stroke="#1c1c1c" stroke-width="1.20" />
<path d="M 1211.7 238.7 L 1216.7 239.7 L 1205.8 246.3" fill="#888" stroke="#1c1c1c" stroke-width="0.86" />
<path d="M 1186.3 313.3 L 1178.0 316.7 L 1176.3 321.7 L 1178.3 324.3 L 1185.8 321.7 L 1187.7 317.7 Z" fill="#ddd" stroke="#1c1c1c" stroke-width="1.29" />
<ellipse cx="1181.3" cy="320.0" rx="2.0" ry="1.5" fill="#444" stroke="#1c1c1c" stroke-width="0.86" transform="rotate(-30 1181.3 320.0)"/>
<path d="M 1241.7 254.2 L 1298.3 286.7" fill="none" stroke="#1c1c1c" stroke-width="1.20" />
<path d="M 1297.5 286.7 L 1299.7 292.0 L 1319.2 303.0 Q 1324.7 305.0 1325.8 310.0 L 1327.0 315.3 L 1347.0 336.7 L 1356.7 338.7 L 1403.3 383.0 Q 1406.7 385.3 1406.7 389.2 L 1402.5 420.0" fill="none" stroke="#1c1c1c" stroke-width="1.38" />
<ellipse cx="1270.8" cy="331.3" rx="22.0" ry="32.0" fill="none" stroke="#1c1c1c" stroke-width="1.89" transform="rotate(-20 1270.8 331.3)"/>
<path d="M 1255.0 308.3 L 1260.8 301.7 L 1274.2 306.7 L 1268.3 311.7 Z M 1274.2 317.5 L 1280.8 313.3 L 1289.2 321.7 M 1253.0 330.8 L 1265.0 324.2 L 1294.2 335.8 M 1260.0 328.3 L 1285.0 360.0 M 1265.0 324.2 L 1292.5 343.3 M 1283.3 336.7 Q 1280.0 346.7 1286.7 358.3 M 1294.2 336.7 L 1288.3 351.7" fill="none" stroke="#1c1c1c" stroke-width="1.03" />
<circle cx="1270.5" cy="312.0" r="1.6" fill="#fff" stroke="#222" stroke-width="1"/>
<ellipse cx="1210.0" cy="285.8" rx="4.0" ry="5.3" fill="none" stroke="#1c1c1c" stroke-width="1.12" transform="rotate(-22 1210.0 285.8)"/>
<ellipse cx="1200.8" cy="275.8" rx="2.2" ry="3.0" fill="none" stroke="#1c1c1c" stroke-width="1.12" transform="rotate(-22 1200.8 275.8)"/>
<ellipse cx="1242.5" cy="286.7" rx="4.2" ry="5.5" fill="none" stroke="#1c1c1c" stroke-width="1.12" transform="rotate(-22 1242.5 286.7)"/>
<ellipse cx="1258.3" cy="284.2" rx="4.2" ry="5.5" fill="none" stroke="#1c1c1c" stroke-width="1.12" transform="rotate(-22 1258.3 284.2)"/>
<ellipse cx="1276.7" cy="292.5" rx="4.2" ry="5.5" fill="none" stroke="#1c1c1c" stroke-width="1.12" transform="rotate(-22 1276.7 292.5)"/>
<ellipse cx="1234.2" cy="302.5" rx="4.2" ry="5.5" fill="none" stroke="#1c1c1c" stroke-width="1.12" transform="rotate(-22 1234.2 302.5)"/>
<ellipse cx="1294.2" cy="312.5" rx="4.2" ry="5.5" fill="none" stroke="#1c1c1c" stroke-width="1.12" transform="rotate(-22 1294.2 312.5)"/>
<ellipse cx="1201.7" cy="319.2" rx="3.7" ry="5.3" fill="none" stroke="#1c1c1c" stroke-width="1.12" transform="rotate(-22 1201.7 319.2)"/>
<ellipse cx="1235.8" cy="325.3" rx="4.2" ry="5.5" fill="none" stroke="#1c1c1c" stroke-width="1.12" transform="rotate(-22 1235.8 325.3)"/>
<ellipse cx="1305.0" cy="335.8" rx="4.0" ry="5.5" fill="none" stroke="#1c1c1c" stroke-width="1.12" transform="rotate(-22 1305.0 335.8)"/>
<ellipse cx="1306.7" cy="359.2" rx="4.0" ry="5.5" fill="none" stroke="#1c1c1c" stroke-width="1.12" transform="rotate(-22 1306.7 359.2)"/>
<ellipse cx="1320.0" cy="320.8" rx="2.8" ry="4.0" fill="none" stroke="#1c1c1c" stroke-width="1.12" transform="rotate(-22 1320.0 320.8)"/>
<ellipse cx="1339.2" cy="335.0" rx="2.0" ry="3.0" fill="none" stroke="#1c1c1c" stroke-width="1.12" transform="rotate(-22 1339.2 335.0)"/>
<ellipse cx="1345.0" cy="350.8" rx="1.8" ry="2.7" fill="none" stroke="#1c1c1c" stroke-width="1.12" transform="rotate(-22 1345.0 350.8)"/>
<ellipse cx="1358.3" cy="358.3" rx="1.8" ry="2.7" fill="none" stroke="#1c1c1c" stroke-width="1.12" transform="rotate(-22 1358.3 358.3)"/>
<ellipse cx="1375.0" cy="365.8" rx="1.8" ry="2.7" fill="none" stroke="#1c1c1c" stroke-width="1.12" transform="rotate(-22 1375.0 365.8)"/>
<ellipse cx="1379.2" cy="373.3" rx="1.8" ry="2.7" fill="none" stroke="#1c1c1c" stroke-width="1.12" transform="rotate(-22 1379.2 373.3)"/>
<ellipse cx="1373.3" cy="376.7" rx="1.8" ry="2.7" fill="none" stroke="#1c1c1c" stroke-width="1.12" transform="rotate(-22 1373.3 376.7)"/>
<ellipse cx="1373.3" cy="385.0" rx="1.8" ry="2.7" fill="none" stroke="#1c1c1c" stroke-width="1.12" transform="rotate(-22 1373.3 385.0)"/>
<ellipse cx="1363.3" cy="384.2" rx="2.0" ry="2.5" fill="none" stroke="#1c1c1c" stroke-width="1.12" transform="rotate(-22 1363.3 384.2)"/>
<ellipse cx="1390.0" cy="380.8" rx="1.7" ry="2.3" fill="none" stroke="#1c1c1c" stroke-width="1.12" transform="rotate(-22 1390.0 380.8)"/>
<ellipse cx="1398.3" cy="395.8" rx="2.0" ry="2.5" fill="none" stroke="#1c1c1c" stroke-width="1.12" transform="rotate(-22 1398.3 395.8)"/>
<ellipse cx="1396.7" cy="401.7" rx="1.7" ry="2.2" fill="none" stroke="#1c1c1c" stroke-width="1.12" transform="rotate(-22 1396.7 401.7)"/>
<ellipse cx="1371.7" cy="405.0" rx="2.7" ry="3.3" fill="#ddd" stroke="#1c1c1c" stroke-width="1.12" transform="rotate(-20 1371.7 405.0)"/>
<ellipse cx="1399.2" cy="418.3" rx="2.3" ry="3.0" fill="#ddd" stroke="#1c1c1c" stroke-width="1.12" transform="rotate(-20 1399.2 418.3)"/>
<circle cx="1224.2" cy="253.3" r="3" fill="#222"/>
<circle cx="1279.2" cy="283.3" r="3" fill="#222"/>
<circle cx="1225.8" cy="313.0" r="3" fill="#222"/>
<circle cx="1320.8" cy="309.2" r="3" fill="#222"/>
<circle cx="1356.3" cy="343.7" r="3" fill="#222"/>
<circle cx="1328.3" cy="361.7" r="3" fill="#222"/>
<circle cx="1400.8" cy="386.7" r="3" fill="#222"/>
<circle cx="1389.2" cy="390.8" r="3" fill="#222"/>
<circle cx="1215.0" cy="278.3" r="2" fill="#222"/>
<circle cx="1195.0" cy="286.7" r="2" fill="#222"/>
<circle cx="1309.2" cy="315.8" r="2" fill="#222"/>
<circle cx="1226.7" cy="333.7" r="2" fill="#222"/>
<circle cx="1243.3" cy="335.0" r="2" fill="#222"/>
<circle cx="1316.7" cy="335.0" r="2" fill="#222"/>
<circle cx="1320.0" cy="365.0" r="2" fill="#222"/>
<circle cx="1331.3" cy="381.3" r="2" fill="#222"/>
<circle cx="1341.7" cy="395.3" r="2" fill="#222"/>
<circle cx="1409.2" cy="422.5" r="2" fill="#222"/>
<circle cx="1418.3" cy="426.7" r="2" fill="#222"/>
<circle cx="1189.2" cy="307.5" r="2" fill="#222"/>
<circle cx="1208.0" cy="320.0" r="2" fill="#222"/>
<circle cx="1417.5" cy="407.5" r="1.3" fill="#222"/>
<circle cx="1426.7" cy="408.0" r="1.3" fill="#222"/>
<circle cx="1334.2" cy="338.7" r="1.3" fill="#222"/>
<circle cx="1350.0" cy="343.7" r="1.3" fill="#222"/>
<circle cx="1340.0" cy="353.3" r="1.3" fill="#222"/>
<circle cx="1368.3" cy="366.7" r="1.3" fill="#222"/>
<circle cx="1366.7" cy="373.0" r="1.3" fill="#222"/>
<circle cx="1358.3" cy="377.5" r="1.3" fill="#222"/>
<circle cx="1345.8" cy="390.3" r="1.3" fill="#222"/>
<circle cx="1342.5" cy="370.0" r="1.3" fill="#222"/>
<circle cx="1217.5" cy="314.7" r="1.3" fill="#222"/>
<circle cx="1295.0" cy="289.7" r="1.3" fill="#222"/>
<circle cx="1414.2" cy="432.5" r="1.3" fill="#222"/>
<path d="M 1208.3 320.0 L 1218.0 315.0" fill="none" stroke="#1c1c1c" stroke-width="1.12" />
<path d="M 1340.0 359.2 Q 1341.7 357.0 1344.2 359.2 L 1354.7 370.8 L 1358.3 386.3 L 1355.0 388.0 L 1340.3 378.7 L 1345.0 373.3 L 1341.7 366.7 Z" fill="none" stroke="#1c1c1c" stroke-width="1.20" />
<path d="M 1384.2 387.5 Q 1385.0 384.2 1389.2 384.2 L 1395.0 388.3 Q 1402.5 391.7 1401.7 397.5 Q 1402.5 403.3 1397.5 404.7 Q 1393.3 404.2 1392.5 399.2 L 1386.7 397.5 Q 1382.5 394.2 1384.2 387.5 Z" fill="none" stroke="#1c1c1c" stroke-width="1.20" />
<ellipse cx="1226.7" cy="240.8" rx="4.0" ry="2.0" fill="none" stroke="#1c1c1c" stroke-width="1.03" transform="rotate(18 1226.7 240.8)"/>
<ellipse cx="1254.2" cy="250.8" rx="4.0" ry="2.0" fill="none" stroke="#1c1c1c" stroke-width="1.03" transform="rotate(18 1254.2 250.8)"/>
<ellipse cx="1425.0" cy="344.2" rx="4.0" ry="2.0" fill="none" stroke="#1c1c1c" stroke-width="1.03" transform="rotate(18 1425.0 344.2)"/>
<ellipse cx="1485.0" cy="375.8" rx="4.0" ry="2.0" fill="none" stroke="#1c1c1c" stroke-width="1.03" transform="rotate(18 1485.0 375.8)"/>
<path d="M 1421.7 344.2 L 1428.3 344.2 M 1481.7 375.8 L 1488.3 375.8" fill="none" stroke="#1c1c1c" stroke-width="0.77" />
<circle cx="1423.7" cy="351.7" r="1.5" fill="#222"/>
<path d="M 1176.3 339.2 L 1184.2 335.3" fill="none" stroke="#444" stroke-width="3.61" />
<path d="M 1176.7 339.0 L 1184.2 335.3" fill="none" stroke="#eee" stroke-width="1.72" />
<ellipse cx="1174.7" cy="340.0" rx="1.7" ry="2.2" fill="#fff" stroke="#1c1c1c" stroke-width="1.12" transform="rotate(-25 1174.7 340.0)"/>
<path d="M 1185.3 333.3 L 1193.7 329.0" fill="none" stroke="#1c1c1c" stroke-width="1.12" />
<path d="M 1445.6 365.4 L 1464.4 375.0 L 1521.7 448.8 L 1500.8 439.6 L 1493.5 427.9 Z M 1448.5 368.3 L 1494.4 427.4 M 1493.5 427.9 L 1505.0 431.9 L 1465.9 377.4 M 1505.0 431.9 L 1506.6 434.0 L 1521.7 448.8 M 1498.2 435.2 L 1506.6 434.0" fill="none" stroke="#1c1c1c" stroke-width="1.29" />
<path d="M 1475.8 381.0 L 1494.6 390.9 L 1551.4 461.5 L 1533.1 454.0 L 1526.9 444.6 Z M 1478.8 384.0 L 1527.4 444.1 M 1526.9 444.6 L 1537.3 446.5 L 1495.8 393.5 M 1537.3 446.5 L 1551.4 461.5" fill="none" stroke="#1c1c1c" stroke-width="1.29" />
<path d="M 1510.2 398.8 L 1550.8 419.8 L 1605.5 484.2 L 1566.5 468.5 L 1560.7 459.7 Z M 1513.3 401.9 L 1561.5 459.2 M 1560.7 459.7 L 1592.0 472.9 L 1552.4 422.7 M 1592.0 472.9 L 1605.5 484.2" fill="none" stroke="#1c1c1c" stroke-width="1.29" />
<path d="M 1444.1 448.2 L 1445.6 438.3 L 1448.2 435.7 L 1450.8 438.3 L 1452.4 443.5 L 1456.0 445.1 L 1459.2 442.0 L 1462.8 442.0 L 1465.4 445.6 L 1467.5 455.0 L 1471.7 458.1 M 1444.1 448.2 L 1444.6 450.8 L 1468.5 459.7 L 1471.7 458.1" fill="none" stroke="#1c1c1c" stroke-width="1.12" />
<circle cx="1447.9" cy="439.6" r="2.2" fill="#222"/>
<circle cx="1460.4" cy="445.4" r="2.2" fill="#222"/>
<ellipse cx="1484.2" cy="375.3" rx="3.3" ry="2.0" fill="none" stroke="#1c1c1c" stroke-width="1.03" transform="rotate(15 1484.2 375.3)"/>
<path d="M 1481.2 375.3 L 1487.2 375.3" fill="none" stroke="#1c1c1c" stroke-width="0.77" />
<circle cx="1694.2" cy="488.3" r="1.6" fill="#222"/>
<circle cx="1695.3" cy="503.8" r="1.6" fill="#222"/>
<circle cx="1654.7" cy="517.0" r="1.6" fill="#222"/>
<circle cx="1691.3" cy="531.7" r="1.6" fill="#222"/>
<ellipse cx="1721.7" cy="503.7" rx="2.3" ry="1.2" fill="#888" stroke="#1c1c1c" stroke-width="0.86" transform="rotate(-25 1721.7 503.7)"/>
<path d="M 1701.7 500.8 L 1691.7 550.8 L 1694.2 560.0 L 1724.2 614.2 L 1733.3 617.0 L 1738.3 613.3 L 1740.0 601.7 L 1731.7 563.3 L 1722.5 513.3 L 1719.2 511.7 Z" fill="#fff" stroke="#1c1c1c" stroke-width="1.29" />
<path d="M 1719.2 511.7 L 1730.0 564.2 L 1737.5 603.3 L 1733.3 617.0 M 1722.5 513.3 L 1734.2 564.2 L 1740.0 601.7" fill="none" stroke="#1c1c1c" stroke-width="1.03" />
<path d="M 1730.0 564.2 L 1737.5 603.3 L 1738.3 613.3 L 1740.0 601.7 L 1734.2 564.2 Z" fill="#bbb" stroke="#1c1c1c" stroke-width="0.69" />
<path d="M 1710.0 526.7 L 1715.8 533.3 L 1716.7 546.7 L 1712.5 555.0 L 1707.5 546.7 L 1706.7 533.3 Z" fill="none" stroke="#1c1c1c" stroke-width="1.20" />
<path d="M 1710.5 530.0 L 1714.7 535.0 L 1715.3 546.7 L 1712.5 552.0" fill="none" stroke="#1c1c1c" stroke-width="0.77" />
<path d="M 1710.0 570.0 L 1718.3 571.7 L 1725.8 594.2 L 1722.5 595.8 Z" fill="none" stroke="#1c1c1c" stroke-width="1.20" />
<path d="M 1712.5 572.5 L 1716.7 573.3 L 1723.3 593.3" fill="none" stroke="#1c1c1c" stroke-width="0.77" />
<circle cx="1705.3" cy="505.8" r="2.6" fill="#222"/>
<circle cx="1714.7" cy="511.3" r="2.6" fill="#222"/>
<circle cx="1700.8" cy="526.7" r="2.6" fill="#222"/>
<circle cx="1718.3" cy="531.3" r="2.6" fill="#222"/>
<circle cx="1696.7" cy="539.7" r="2.4" fill="#fff" stroke="#222" stroke-width="1.2"/>
<circle cx="1723.0" cy="550.0" r="1.6" fill="#fff" stroke="#222" stroke-width="1"/>
<circle cx="1732.0" cy="603.0" r="1.6" fill="#fff" stroke="#222" stroke-width="1"/>
<ellipse cx="1727.0" cy="608.0" rx="1.5" ry="2.3" fill="none" stroke="#1c1c1c" stroke-width="1.03" transform="rotate(-25 1727.0 608.0)"/>
<circle cx="1694.2" cy="488.7" r="1.3" fill="#222"/>
<circle cx="1695.0" cy="503.7" r="1.3" fill="#222"/>
<circle cx="1690.8" cy="531.7" r="1.3" fill="#222"/>
<circle cx="1779.2" cy="565.8" r="1.3" fill="#222"/>
<circle cx="1760.8" cy="562.5" r="1.8" fill="#222"/>
<circle cx="1778.3" cy="571.7" r="1.8" fill="#222"/>
<circle cx="1835.0" cy="595.0" r="1.8" fill="#222"/>
<circle cx="1957.5" cy="645.3" r="1.8" fill="#222"/>
<circle cx="1981.7" cy="648.3" r="1.8" fill="#222"/>
<circle cx="1973.3" cy="650.3" r="2.4" fill="#222"/>
<path d="M 1778.7 544.2 L 1779.2 548.3" fill="none" stroke="#1c1c1c" stroke-width="1.38" />
<path d="M 1660.0 537.5 L 1691.7 550.8" fill="none" stroke="#454545" stroke-width="2.24" />
<path d="M 1660.0 537.5 L 1691.7 550.8" fill="none" stroke="#fff" stroke-width="0.69" />
<path d="M 1731.7 563.3 Q 1746.7 565.3 1760.0 572.5 L 1773.3 578.3 L 1968.3 656.0 Q 1973.3 658.0 1976.7 657.5 L 2001.7 653.7 L 2002.7 651.0 L 1990.8 637.5" fill="none" stroke="#1c1c1c" stroke-width="1.12" />
<path d="M 1733.3 565.3 Q 1746.7 568.3 1760.0 574.3 L 1773.3 578.7" fill="none" stroke="#1c1c1c" stroke-width="0.95" />
<path d="M 1985.0 642.7 L 1990.8 637.5 L 2002.7 651.3 Z" fill="#c4c4c4" stroke="#1c1c1c" stroke-width="1.03" />
<path d="M 1976.7 645.0 L 1990.8 637.5" fill="none" stroke="#1c1c1c" stroke-width="1.20" />
<path d="M 1726.7 497.5 L 1758.3 508.3 L 1793.3 526.7 L 1813.3 543.3 M 1730.0 499.3 L 1755.0 512.7 L 1785.3 528.7 L 1810.8 542.0" fill="none" stroke="#1c1c1c" stroke-width="1.03" />
<path d="M 1851.7 563.3 L 1878.3 572.5 L 1916.7 592.5 L 1938.3 608.3 M 1856.7 566.7 L 1877.5 578.3 L 1908.3 595.0 L 1935.8 607.7" fill="none" stroke="#1c1c1c" stroke-width="1.03" />
<ellipse cx="1755.0" cy="512.7" rx="2.5" ry="1.5" fill="none" stroke="#1c1c1c" stroke-width="0.95" transform="rotate(10 1755.0 512.7)"/>
<ellipse cx="1785.3" cy="528.7" rx="2.5" ry="1.5" fill="none" stroke="#1c1c1c" stroke-width="0.95" transform="rotate(10 1785.3 528.7)"/>
<ellipse cx="1877.5" cy="578.3" rx="2.5" ry="1.5" fill="none" stroke="#1c1c1c" stroke-width="0.95" transform="rotate(10 1877.5 578.3)"/>
<ellipse cx="1908.3" cy="595.0" rx="2.5" ry="1.5" fill="none" stroke="#1c1c1c" stroke-width="0.95" transform="rotate(10 1908.3 595.0)"/>
<ellipse cx="1824.2" cy="558.0" rx="3.3" ry="2.2" fill="none" stroke="#1c1c1c" stroke-width="0.95" transform="rotate(10 1824.2 558.0)"/>
<path d="M 1821.3 558.0 L 1827.0 558.0 M 1824.2 556.2 L 1824.2 559.8" fill="none" stroke="#1c1c1c" stroke-width="0.69" />
<ellipse cx="1975.8" cy="639.7" rx="3.3" ry="2.2" fill="none" stroke="#1c1c1c" stroke-width="0.95" transform="rotate(10 1975.8 639.7)"/>
<path d="M 1973.0 639.7 L 1978.7 639.7" fill="none" stroke="#1c1c1c" stroke-width="0.69" />
<ellipse cx="1832.5" cy="563.3" rx="2.3" ry="1.2" fill="#555" stroke="#1c1c1c" stroke-width="0.86" transform="rotate(-25 1832.5 563.3)"/>
<ellipse cx="1848.3" cy="571.7" rx="2.3" ry="1.2" fill="#555" stroke="#1c1c1c" stroke-width="0.86" transform="rotate(-25 1848.3 571.7)"/>
<ellipse cx="1721.7" cy="503.7" rx="2.3" ry="1.2" fill="#888" stroke="#1c1c1c" stroke-width="0.86" transform="rotate(-25 1721.7 503.7)"/>
<circle cx="1976.7" cy="634.2" r="1.3" fill="#222"/>
</g>
<g id="30_tunneltop">
<path d="M 873.3 433.3 L 1001.7 359.3 M 1023.3 348.0 L 1030.0 344.3 L 1034.2 341.0 Q 1040.0 338.3 1050.0 341.0 L 1073.3 350.3" fill="none" stroke="#1c1c1c" stroke-width="1.12" />
<path d="M 1073.3 350.3 L 1798.8 744.2" fill="none" stroke="#1c1c1c" stroke-width="1.12" />
<path d="M 912.5 442.5 L 1055.8 361.7" fill="none" stroke="#1c1c1c" stroke-width="1.12" />
<path d="M 886.7 435.3 Q 896.7 436.7 906.7 442.5 L 935.0 459.3" fill="none" stroke="#1c1c1c" stroke-width="2.24" />
<path d="M 935.0 459.4 L 1090.0 536.0 L 1638.3 834.8" fill="none" stroke="#1c1c1c" stroke-width="2.92" />
<path d="M 1638.3 834.8 Q 1641.0 837.0 1645.0 834.0 L 1798.8 744.2" fill="none" stroke="#1c1c1c" stroke-width="2.41" />
<path d="M 827.5 517.5 L 823.3 506.7 L 825.8 496.7 L 830.0 489.2 L 828.3 485.8 L 833.3 467.5 Q 836.7 458.3 845.0 450.8 Q 856.7 440.8 873.3 436.3 L 886.7 435.3 Q 896.7 436.7 906.7 442.5 L 935.0 459.7 L 931.7 461.7 L 840.0 513.3 Z" fill="#cbcbcb" stroke="#1c1c1c" stroke-width="1.38" />
<path d="M 840.0 513.3 L 931.7 461.7 L 934.2 457.0 L 844.2 507.5 Z" fill="#e2e2e2" stroke="#1c1c1c" stroke-width="0.95" />
<path d="M 891.7 438.3 L 885.0 456.7 L 887.0 462.7 L 918.7 448.7 M 890.0 440.0 L 887.5 460.0" fill="none" stroke="#1c1c1c" stroke-width="1.29" />
<path d="M 836.7 470.0 Q 843.3 455.0 856.7 446.7 Q 868.3 440.8 880.0 439.2 M 833.3 471.7 L 890.0 448.3 M 844.2 507.5 Q 840.0 488.3 846.7 471.7 Q 853.3 455.0 868.3 446.7 M 847.5 496.7 Q 845.8 480.0 853.3 466.7 Q 860.0 456.7 870.0 451.7 M 851.7 490.0 Q 853.3 473.3 861.7 461.7 M 856.7 488.3 Q 860.0 471.7 868.3 461.7 M 847.5 496.7 Q 856.7 495.0 868.3 486.7 L 923.3 454.2 M 851.7 490.0 Q 860.0 488.3 866.7 482.5 L 921.7 451.7 M 844.2 507.5 L 916.7 466.7" fill="none" stroke="#1c1c1c" stroke-width="0.86" />
<path d="M 830.0 489.2 L 825.8 496.7 M 824.2 496.7 L 821.7 506.7 L 825.8 510.0 M 828.3 485.8 L 827.0 486.7 L 830.8 470.0" fill="none" stroke="#1c1c1c" stroke-width="1.03" />
<ellipse cx="878.0" cy="440.0" rx="3.0" ry="1.7" fill="#fff" stroke="#1c1c1c" stroke-width="0.86" transform="rotate(-25 878.0 440.0)"/>
<circle cx="888.3" cy="482.5" r="1.6" fill="#222"/>
<circle cx="849.2" cy="505.8" r="1.6" fill="#222"/>
<circle cx="931.7" cy="458.3" r="1.6" fill="#222"/>
<path d="M 827.5 517.5 L 825.8 511.7 L 820.0 521.7 Q 818.0 525.0 820.8 526.0 L 825.8 523.7 L 830.0 518.3" fill="#ddd" stroke="#1c1c1c" stroke-width="1.20" />
<ellipse cx="822.0" cy="523.0" rx="2.0" ry="1.3" fill="#fff" stroke="#1c1c1c" stroke-width="0.95" transform="rotate(-35 822.0 523.0)"/>
<path d="M 869.7 421.3 Q 871.7 419.7 874.2 420.8 L 877.5 432.5 Q 875.3 434.2 873.0 433.0 Z" fill="#fff" stroke="#1c1c1c" stroke-width="1.12" />
<path d="M 873.0 433.0 L 880.8 430.8" fill="none" stroke="#1c1c1c" stroke-width="1.89" />
<path d="M 1023.3 331.7 Q 1025.3 330.0 1027.8 331.2 L 1031.3 343.3 Q 1029.2 345.0 1026.7 343.8 Z" fill="#fff" stroke="#1c1c1c" stroke-width="1.12" />
<path d="M 1026.7 344.2 L 1034.7 341.7" fill="none" stroke="#1c1c1c" stroke-width="1.89" />
<ellipse cx="1015.8" cy="358.3" rx="13.3" ry="5.7" fill="#eee" stroke="#1c1c1c" stroke-width="1.38" transform="rotate(-8 1015.8 358.3)"/>
<path d="M 1000.3 342.0 L 1005.0 357.0 Q 1013.3 361.7 1023.3 355.0 L 1020.8 338.3 Z" fill="#fff" stroke="#1c1c1c" stroke-width="1.20" />
<path d="M 1013.3 342.0 L 1015.0 358.3 Q 1020.0 357.5 1023.3 355.0 L 1020.8 338.7 Z" fill="#bbb" stroke="#1c1c1c" stroke-width="0.69" />
<ellipse cx="1010.3" cy="340.3" rx="10.3" ry="4.7" fill="#fff" stroke="#1c1c1c" stroke-width="1.38" transform="rotate(-10 1010.3 340.3)"/>
<ellipse cx="1010.3" cy="340.7" rx="8.3" ry="3.3" fill="#eee" stroke="#1c1c1c" stroke-width="0.86" transform="rotate(-10 1010.3 340.7)"/>
<path d="M 1055.8 353.3 L 1057.5 377.5 Q 1066.7 384.2 1076.7 377.0 L 1075.3 352.0 Z" fill="#fff" stroke="#1c1c1c" stroke-width="1.12" />
<path d="M 1071.7 354.2 L 1072.7 380.0 Q 1075.3 378.7 1076.7 377.0 L 1075.3 352.3 Z" fill="#ccc" stroke="#1c1c1c" stroke-width="0.60" />
<ellipse cx="1065.3" cy="352.7" rx="9.7" ry="2.7" fill="#999" stroke="#1c1c1c" stroke-width="1.38" transform="rotate(-3 1065.3 352.7)"/>
<ellipse cx="999.7" cy="311.3" rx="9.2" ry="5.3" fill="#555" stroke="#1c1c1c" stroke-width="1.38"/>
<ellipse cx="999.7" cy="310.7" rx="6.0" ry="3.0" fill="#ddd" stroke="#1c1c1c" stroke-width="1.03"/>
<ellipse cx="999.7" cy="311.0" rx="3.7" ry="1.7" fill="#999" stroke="#1c1c1c" stroke-width="0.86"/>
<path d="M 999.7 318.0 L 1002.5 402.5" fill="none" stroke="#1c1c1c" stroke-width="1.20" stroke-dasharray="10 5"/>
<ellipse cx="1002.7" cy="403.3" rx="5.7" ry="2.8" fill="#fff" stroke="#1c1c1c" stroke-width="1.12"/>
<path d="M 998.3 404.7 L 1006.7 402.0" fill="none" stroke="#1c1c1c" stroke-width="0.77" />
<ellipse cx="1206.5" cy="430.8" rx="9.2" ry="5.6" fill="#555" stroke="#1c1c1c" stroke-width="1.29"/>
<ellipse cx="1206.5" cy="430.0" rx="5.8" ry="2.9" fill="#ddd" stroke="#1c1c1c" stroke-width="0.95"/>
<ellipse cx="1206.5" cy="430.4" rx="3.3" ry="1.7" fill="#999" stroke="#1c1c1c" stroke-width="0.77"/>
<path d="M 1206.9 438.3 L 1209.0 509.6" fill="none" stroke="#1c1c1c" stroke-width="1.20" stroke-dasharray="10 5"/>
<ellipse cx="1209.2" cy="513.8" rx="5.8" ry="3.1" fill="#fff" stroke="#1c1c1c" stroke-width="1.03"/>
<path d="M 958.7 293.7 L 992.5 311.7 M 905.0 378.3 L 914.2 408.3 M 1152.5 342.5 L 1175.0 339.5" fill="none" stroke="#1c1c1c" stroke-width="1.20" />
<circle cx="1044.2" cy="344.7" r="1.4" fill="#222"/>
<circle cx="1084.7" cy="360.8" r="1.4" fill="#222"/>
<circle cx="1089.7" cy="363.3" r="1.4" fill="#222"/>
<circle cx="1100.8" cy="369.5" r="1.4" fill="#222"/>
<circle cx="986.7" cy="394.2" r="1.4" fill="#222"/>
<circle cx="1020.8" cy="402.2" r="1.4" fill="#222"/>
<circle cx="994.2" cy="417.7" r="1.4" fill="#222"/>
<circle cx="1065.3" cy="417.7" r="1.4" fill="#222"/>
<circle cx="1018.0" cy="428.7" r="1.4" fill="#222"/>
<circle cx="1035.3" cy="435.0" r="1.4" fill="#222"/>
<circle cx="919.7" cy="443.0" r="1.4" fill="#222"/>
<circle cx="929.7" cy="448.8" r="1.4" fill="#222"/>
<circle cx="892.5" cy="432.5" r="1.4" fill="#222"/>
<circle cx="961.7" cy="466.7" r="1.4" fill="#222"/>
<circle cx="1071.7" cy="457.5" r="1.4" fill="#222"/>
<circle cx="1113.7" cy="462.5" r="1.4" fill="#222"/>
<circle cx="1090.8" cy="534.2" r="1.4" fill="#222"/>
<circle cx="1116.2" cy="377.0" r="2.3" fill="#fff" stroke="#222" stroke-width="1"/>
<circle cx="975.8" cy="472.8" r="2.3" fill="#fff" stroke="#222" stroke-width="1"/>
<circle cx="1028.0" cy="500.8" r="2.3" fill="#fff" stroke="#222" stroke-width="1"/>
<path d="M 934.2 401.7 L 943.3 403.3 M 907.5 417.2 L 916.7 418.3 M 1003.3 383.3 L 1004.2 386.7" fill="none" stroke="#1c1c1c" stroke-width="0.86" />
<circle cx="1265.2" cy="456.9" r="2.3" fill="#fff" stroke="#222" stroke-width="1"/>
<circle cx="1348.5" cy="501.7" r="2.3" fill="#fff" stroke="#222" stroke-width="1"/>
<circle cx="1413.5" cy="536.7" r="2.3" fill="#fff" stroke="#222" stroke-width="1"/>
<circle cx="1478.8" cy="571.5" r="2.3" fill="#fff" stroke="#222" stroke-width="1"/>
<circle cx="1531.9" cy="601.7" r="2.3" fill="#fff" stroke="#222" stroke-width="1"/>
<circle cx="1111.7" cy="545.6" r="2.3" fill="#fff" stroke="#222" stroke-width="1"/>
<circle cx="1195.0" cy="590.4" r="2.3" fill="#fff" stroke="#222" stroke-width="1"/>
<circle cx="1260.0" cy="625.2" r="2.3" fill="#fff" stroke="#222" stroke-width="1"/>
<circle cx="1325.0" cy="660.2" r="2.3" fill="#fff" stroke="#222" stroke-width="1"/>
<circle cx="1378.3" cy="689.4" r="2.3" fill="#fff" stroke="#222" stroke-width="1"/>
<circle cx="1394.4" cy="697.5" r="2.3" fill="#fff" stroke="#222" stroke-width="1"/>
<circle cx="1455.4" cy="730.4" r="2.3" fill="#fff" stroke="#222" stroke-width="1"/>
<circle cx="1242.9" cy="446.7" r="2.2" fill="#222"/>
<circle cx="1302.1" cy="477.9" r="2.2" fill="#222"/>
<circle cx="1091.2" cy="534.6" r="2.2" fill="#222"/>
<circle cx="1149.2" cy="566.5" r="2.2" fill="#222"/>
<circle cx="1386.5" cy="694.0" r="2.2" fill="#222"/>
<circle cx="1071.5" cy="457.5" r="1.5" fill="#222"/>
<circle cx="1113.8" cy="462.3" r="1.5" fill="#222"/>
<circle cx="1196.9" cy="506.9" r="1.5" fill="#222"/>
<circle cx="1183.8" cy="518.8" r="1.5" fill="#222"/>
<circle cx="1268.8" cy="545.4" r="1.5" fill="#222"/>
<circle cx="1304.2" cy="564.4" r="1.5" fill="#222"/>
<circle cx="1318.8" cy="572.3" r="1.5" fill="#222"/>
<circle cx="1346.9" cy="587.3" r="1.5" fill="#222"/>
<circle cx="1368.8" cy="599.2" r="1.5" fill="#222"/>
<circle cx="1387.1" cy="609.2" r="1.5" fill="#222"/>
<circle cx="1397.1" cy="614.4" r="1.5" fill="#222"/>
<circle cx="1486.7" cy="662.7" r="1.5" fill="#222"/>
<path d="M 1330.4 563.3 L 1335.4 565.8 M 1302.9 579.4 L 1307.9 581.9" fill="none" stroke="#1c1c1c" stroke-width="1.89" />
<path d="M 1481.7 630.6 L 1494.6 620.8 L 1506.0 618.1 L 1525.8 620.6 L 1529.6 631.7 L 1500.4 651.0 L 1485.2 642.1 Z" fill="none" stroke="#2a2a2a" stroke-width="4.30" />
<path d="M 1481.7 630.6 L 1494.6 620.8 L 1506.0 618.1 L 1525.8 620.6 L 1529.6 631.7 L 1500.4 651.0 L 1485.2 642.1 Z" fill="none" stroke="#cfcfcf" stroke-width="1.29" />
<path d="M 1544.6 628.5 L 1569.6 640.0 L 1573.8 656.7 L 1542.5 674.4 L 1515.4 659.8 L 1544.6 644.2 Z" fill="none" stroke="#2a2a2a" stroke-width="4.30" />
<path d="M 1544.6 628.5 L 1569.6 640.0 L 1573.8 656.7 L 1542.5 674.4 L 1515.4 659.8 L 1544.6 644.2 Z" fill="none" stroke="#cfcfcf" stroke-width="1.29" />
<path d="M 1586.2 651.5 L 1610.2 662.9 L 1612.3 676.5 L 1581.0 695.2 L 1557.1 681.7 L 1586.2 666.0 Z" fill="none" stroke="#2a2a2a" stroke-width="4.30" />
<path d="M 1586.2 651.5 L 1610.2 662.9 L 1612.3 676.5 L 1581.0 695.2 L 1557.1 681.7 L 1586.2 666.0 Z" fill="none" stroke="#cfcfcf" stroke-width="1.29" />
<path d="M 1626.9 672.3 L 1646.7 682.7 L 1646.7 697.3 L 1616.5 714.4 L 1594.6 702.5 L 1623.8 686.9 Z" fill="none" stroke="#2a2a2a" stroke-width="4.30" />
<path d="M 1626.9 672.3 L 1646.7 682.7 L 1646.7 697.3 L 1616.5 714.4 L 1594.6 702.5 L 1623.8 686.9 Z" fill="none" stroke="#cfcfcf" stroke-width="1.29" />
<path d="M 1664.4 692.1 L 1681.0 700.4 L 1680.0 715.0 L 1652.9 729.2 L 1631.0 720.2 L 1660.2 704.6 Z" fill="none" stroke="#2a2a2a" stroke-width="4.30" />
<path d="M 1664.4 692.1 L 1681.0 700.4 L 1680.0 715.0 L 1652.9 729.2 L 1631.0 720.2 L 1660.2 704.6 Z" fill="none" stroke="#cfcfcf" stroke-width="1.29" />
<path d="M 1694.6 708.8 L 1711.2 717.1 L 1709.2 726.5 L 1686.2 740.4 L 1670.6 731.7 L 1690.4 720.2 Z" fill="none" stroke="#2a2a2a" stroke-width="4.30" />
<path d="M 1694.6 708.8 L 1711.2 717.1 L 1709.2 726.5 L 1686.2 740.4 L 1670.6 731.7 L 1690.4 720.2 Z" fill="none" stroke="#cfcfcf" stroke-width="1.29" />
<path d="M 1716.5 733.8 L 1721.7 736.9 L 1721.7 749.4 L 1706.0 757.7 L 1689.4 752.5 L 1691.5 747.3 Z" fill="none" stroke="#2a2a2a" stroke-width="4.30" />
<path d="M 1716.5 733.8 L 1721.7 736.9 L 1721.7 749.4 L 1706.0 757.7 L 1689.4 752.5 L 1691.5 747.3 Z" fill="none" stroke="#cfcfcf" stroke-width="1.29" />
<path d="M 1409.2 675.4 L 1424.8 661.9 L 1451.9 662.9 L 1467.5 670.2 L 1438.3 686.9 L 1412.3 685.8 Z" fill="none" stroke="#2a2a2a" stroke-width="4.30" />
<path d="M 1409.2 675.4 L 1424.8 661.9 L 1451.9 662.9 L 1467.5 670.2 L 1438.3 686.9 L 1412.3 685.8 Z" fill="none" stroke="#cfcfcf" stroke-width="1.29" />
<path d="M 1426.9 696.2 L 1452.9 696.7 L 1483.1 678.5 L 1511.2 693.1 L 1482.1 710.4 L 1448.8 709.2 Z" fill="none" stroke="#2a2a2a" stroke-width="4.30" />
<path d="M 1426.9 696.2 L 1452.9 696.7 L 1483.1 678.5 L 1511.2 693.1 L 1482.1 710.4 L 1448.8 709.2 Z" fill="none" stroke="#cfcfcf" stroke-width="1.29" />
<path d="M 1469.6 719.2 L 1494.6 717.5 L 1525.8 700.4 L 1549.8 713.3 L 1519.6 731.2 L 1488.3 730.0 Z" fill="none" stroke="#2a2a2a" stroke-width="4.30" />
<path d="M 1469.6 719.2 L 1494.6 717.5 L 1525.8 700.4 L 1549.8 713.3 L 1519.6 731.2 L 1488.3 730.0 Z" fill="none" stroke="#cfcfcf" stroke-width="1.29" />
<path d="M 1509.2 739.0 L 1533.1 738.3 L 1563.3 721.2 L 1585.2 732.7 L 1555.0 750.0 L 1525.8 750.4 Z" fill="none" stroke="#2a2a2a" stroke-width="4.30" />
<path d="M 1509.2 739.0 L 1533.1 738.3 L 1563.3 721.2 L 1585.2 732.7 L 1555.0 750.0 L 1525.8 750.4 Z" fill="none" stroke="#cfcfcf" stroke-width="1.29" />
<path d="M 1545.6 759.8 L 1568.5 756.7 L 1597.7 740.0 L 1612.3 751.5 L 1586.2 767.1 L 1559.2 768.8 Z" fill="none" stroke="#2a2a2a" stroke-width="4.30" />
<path d="M 1545.6 759.8 L 1568.5 756.7 L 1597.7 740.0 L 1612.3 751.5 L 1586.2 767.1 L 1559.2 768.8 Z" fill="none" stroke="#cfcfcf" stroke-width="1.29" />
<path d="M 1577.9 776.5 L 1598.8 773.3 L 1620.6 761.9 L 1636.2 771.2 L 1615.4 783.8 L 1590.4 784.8 Z" fill="none" stroke="#2a2a2a" stroke-width="4.30" />
<path d="M 1577.9 776.5 L 1598.8 773.3 L 1620.6 761.9 L 1636.2 771.2 L 1615.4 783.8 L 1590.4 784.8 Z" fill="none" stroke="#cfcfcf" stroke-width="1.29" />
<path d="M 1622.7 788.3 L 1648.8 772.3 L 1660.2 772.3 L 1666.5 782.7 L 1655.0 790.0 L 1627.9 789.6 Z" fill="none" stroke="#2a2a2a" stroke-width="4.30" />
<path d="M 1622.7 788.3 L 1648.8 772.3 L 1660.2 772.3 L 1666.5 782.7 L 1655.0 790.0 L 1627.9 789.6 Z" fill="none" stroke="#cfcfcf" stroke-width="1.29" />
<path d="M 1669.6 767.1 L 1684.2 760.8 L 1720.6 768.1 L 1685.2 789.0 Z" fill="none" stroke="#2a2a2a" stroke-width="4.30" />
<path d="M 1669.6 767.1 L 1684.2 760.8 L 1720.6 768.1 L 1685.2 789.0 Z" fill="none" stroke="#cfcfcf" stroke-width="1.29" />
<circle cx="1608.8" cy="641.5" r="2.3" fill="#fff" stroke="#222" stroke-width="1"/>
<circle cx="1673.8" cy="676.5" r="2.3" fill="#fff" stroke="#222" stroke-width="1"/>
<circle cx="1738.8" cy="711.5" r="2.3" fill="#fff" stroke="#222" stroke-width="1"/>
<circle cx="1456.0" cy="730.0" r="2.3" fill="#fff" stroke="#222" stroke-width="1"/>
<circle cx="1520.6" cy="765.0" r="2.3" fill="#fff" stroke="#222" stroke-width="1"/>
<circle cx="1585.8" cy="800.0" r="2.3" fill="#fff" stroke="#222" stroke-width="1"/>
<circle cx="1394.2" cy="697.7" r="2.3" fill="#fff" stroke="#222" stroke-width="1"/>
<circle cx="1548.3" cy="608.8" r="2.3" fill="#fff" stroke="#222" stroke-width="1"/>
<circle cx="1532.1" cy="601.5" r="2.3" fill="#fff" stroke="#222" stroke-width="1"/>
<circle cx="1539.4" cy="605.0" r="1.9" fill="#222"/>
<circle cx="1640.8" cy="660.4" r="1.9" fill="#222"/>
<circle cx="1665.8" cy="673.3" r="1.9" fill="#222"/>
<circle cx="1488.3" cy="749.4" r="1.9" fill="#222"/>
<circle cx="1512.9" cy="761.9" r="1.9" fill="#222"/>
<circle cx="1630.0" cy="825.4" r="1.9" fill="#222"/>
<circle cx="1641.5" cy="831.2" r="1.9" fill="#222"/>
<circle cx="1653.3" cy="825.4" r="1.9" fill="#222"/>
<circle cx="1662.3" cy="820.2" r="1.9" fill="#222"/>
<circle cx="1670.6" cy="815.4" r="1.9" fill="#222"/>
<circle cx="1676.9" cy="811.9" r="1.9" fill="#222"/>
<circle cx="1707.5" cy="793.1" r="1.9" fill="#222"/>
<circle cx="1724.8" cy="783.3" r="1.9" fill="#222"/>
<circle cx="1731.7" cy="780.0" r="1.9" fill="#222"/>
<circle cx="1762.3" cy="762.5" r="1.9" fill="#222"/>
<circle cx="1786.2" cy="748.3" r="1.9" fill="#222"/>
<circle cx="1794.6" cy="741.0" r="1.9" fill="#222"/>
<circle cx="1784.6" cy="736.9" r="1.9" fill="#222"/>
<circle cx="1386.2" cy="693.8" r="1.9" fill="#222"/>
<circle cx="1387.3" cy="609.2" r="1.9" fill="#222"/>
<circle cx="1396.7" cy="614.6" r="1.9" fill="#222"/>
<circle cx="1486.7" cy="662.5" r="1.5" fill="#222"/>
<circle cx="1629.6" cy="739.2" r="1.5" fill="#222"/>
</g>
<g id="40_leftpanel">
<path d="M 734.2 550.0 L 1460.8 941.7" fill="none" stroke="#1c1c1c" stroke-width="1.20" />
<path d="M 722.0 557.0 L 1446.7 950.3" fill="none" stroke="#1c1c1c" stroke-width="1.12" />
<path d="M 716.0 562.5 L 1185.0 815.0 M 1266.7 860.8 L 1307.5 880.8 M 1389.2 926.7 L 1445.0 953.3" fill="none" stroke="#1c1c1c" stroke-width="1.03" />
<path d="M 660.0 563.3 L 1445.0 973.3" fill="none" stroke="#383838" stroke-width="2.41" />
<path d="M 660.0 563.3 L 1445.0 973.3" fill="none" stroke="#ddd" stroke-width="0.60" />
<path d="M 1460.8 941.7 L 1460.0 944.2 L 1446.7 949.7 L 1445.0 953.3 L 1445.8 968.3 L 1444.2 975.8 L 1411.7 978.3 L 1403.3 976.7 L 1223.3 902.5 L 1213.3 899.2" fill="none" stroke="#1c1c1c" stroke-width="1.20" />
<path d="M 1445.0 953.3 L 1444.2 975.8" fill="none" stroke="#1c1c1c" stroke-width="1.72" />
<path d="M 1120.0 867.5 L 1135.0 874.2 L 1201.7 894.2 L 1213.3 899.2 L 1205.0 904.2 L 1196.7 903.3 L 1171.7 898.3 L 1130.0 893.7" fill="none" stroke="#1c1c1c" stroke-width="1.20" />
<path d="M 1130.0 878.3 L 1188.3 889.2 L 1201.7 894.2 M 1176.7 894.2 L 1186.7 889.2 M 1193.3 900.0 L 1200.0 894.7 M 1171.7 898.3 L 1180.0 893.3 M 1130.0 885.0 L 1141.7 885.8 L 1145.8 889.2 L 1141.7 891.7 L 1130.0 892.5" fill="none" stroke="#1c1c1c" stroke-width="0.95" />
<ellipse cx="1149.2" cy="888.3" rx="2.0" ry="1.2" fill="none" stroke="#1c1c1c" stroke-width="0.86" transform="rotate(-20 1149.2 888.3)"/>
<ellipse cx="1155.0" cy="893.7" rx="2.0" ry="1.2" fill="none" stroke="#1c1c1c" stroke-width="0.86" transform="rotate(-20 1155.0 893.7)"/>
<path d="M 1186.7 809.2 L 1185.0 815.0 L 1196.7 836.7 L 1203.3 840.8 L 1246.7 863.3 L 1250.0 865.0 L 1266.7 860.8 L 1271.7 856.7" fill="#fff" stroke="#1c1c1c" stroke-width="1.29" />
<path d="M 1187.5 811.7 L 1203.3 825.0 L 1236.7 843.3 L 1243.3 844.2 L 1270.0 855.8 M 1203.3 825.0 L 1198.3 835.3 M 1207.0 826.3 L 1202.0 838.7 M 1243.3 844.2 L 1240.0 848.3 L 1245.0 862.7 M 1247.0 845.3 L 1243.7 849.7 L 1249.3 863.7 M 1206.7 836.7 L 1241.7 855.0 M 1196.7 836.7 L 1198.3 835.3 L 1240.0 848.3" fill="none" stroke="#1c1c1c" stroke-width="0.95" />
<path d="M 1203.3 840.8 L 1246.7 863.3 L 1250.0 865.0" fill="none" stroke="#1c1c1c" stroke-width="1.89" />
<path d="M 1309.2 875.0 L 1307.5 880.8 L 1319.2 902.5 L 1325.8 906.7 L 1369.2 929.2 L 1372.5 930.8 L 1389.2 926.7 L 1394.2 922.5" fill="#fff" stroke="#1c1c1c" stroke-width="1.29" />
<path d="M 1310.0 877.5 L 1325.8 890.8 L 1359.2 909.2 L 1365.8 910.0 L 1392.5 921.7 M 1325.8 890.8 L 1320.8 901.2 M 1329.5 892.2 L 1324.5 904.5 M 1365.8 910.0 L 1362.5 914.2 L 1367.5 928.5 M 1369.5 911.2 L 1366.2 915.5 L 1371.8 929.5 M 1329.2 902.5 L 1364.2 920.8 M 1319.2 902.5 L 1320.8 901.2 L 1362.5 914.2" fill="none" stroke="#1c1c1c" stroke-width="0.95" />
<path d="M 1325.8 906.7 L 1369.2 929.2 L 1372.5 930.8" fill="none" stroke="#1c1c1c" stroke-width="1.89" />
<ellipse cx="1197.2" cy="806.3" rx="2.5" ry="1.5" fill="#ddd" stroke="#1c1c1c" stroke-width="0.95" transform="rotate(-15 1197.2 806.3)"/>
<ellipse cx="1214.7" cy="824.5" rx="2.5" ry="1.5" fill="#ddd" stroke="#1c1c1c" stroke-width="0.95" transform="rotate(-15 1214.7 824.5)"/>
<ellipse cx="1245.0" cy="840.5" rx="2.5" ry="1.5" fill="#ddd" stroke="#1c1c1c" stroke-width="0.95" transform="rotate(-15 1245.0 840.5)"/>
<ellipse cx="1337.5" cy="890.3" rx="2.5" ry="1.5" fill="#ddd" stroke="#1c1c1c" stroke-width="0.95" transform="rotate(-15 1337.5 890.3)"/>
<ellipse cx="1368.0" cy="906.7" rx="2.5" ry="1.5" fill="#ddd" stroke="#1c1c1c" stroke-width="0.95" transform="rotate(-15 1368.0 906.7)"/>
<ellipse cx="1299.5" cy="861.2" rx="2.5" ry="1.5" fill="#ddd" stroke="#1c1c1c" stroke-width="0.95" transform="rotate(-15 1299.5 861.2)"/>
<ellipse cx="1307.5" cy="865.8" rx="2.5" ry="1.5" fill="#ddd" stroke="#1c1c1c" stroke-width="0.95" transform="rotate(-15 1307.5 865.8)"/>
<ellipse cx="1323.3" cy="874.5" rx="2.5" ry="1.5" fill="#ddd" stroke="#1c1c1c" stroke-width="0.95" transform="rotate(-15 1323.3 874.5)"/>
<ellipse cx="1451.7" cy="943.3" rx="2.5" ry="1.5" fill="#ddd" stroke="#1c1c1c" stroke-width="0.95" transform="rotate(-15 1451.7 943.3)"/>
<circle cx="1440.3" cy="943.7" r="1.6" fill="#222"/>
<circle cx="1169.5" cy="791.7" r="1.4" fill="#222"/>
<circle cx="1138.3" cy="825.5" r="1.4" fill="#222"/>
<circle cx="1134.2" cy="853.3" r="1.4" fill="#222"/>
<circle cx="1255.0" cy="878.3" r="1.4" fill="#222"/>
<circle cx="1221.3" cy="867.5" r="1.4" fill="#222"/>
<circle cx="1222.2" cy="888.3" r="1.4" fill="#222"/>
<ellipse cx="1143.3" cy="859.5" rx="1.2" ry="1.8" fill="#555" stroke="#1c1c1c" stroke-width="0.86" transform="rotate(-25 1143.3 859.5)"/>
<ellipse cx="1167.0" cy="871.2" rx="1.2" ry="1.8" fill="#555" stroke="#1c1c1c" stroke-width="0.86" transform="rotate(-25 1167.0 871.2)"/>
<ellipse cx="1203.8" cy="884.5" rx="1.2" ry="1.8" fill="#555" stroke="#1c1c1c" stroke-width="0.86" transform="rotate(-25 1203.8 884.5)"/>
<ellipse cx="1220.8" cy="893.3" rx="1.2" ry="1.8" fill="#555" stroke="#1c1c1c" stroke-width="0.86" transform="rotate(-25 1220.8 893.3)"/>
<ellipse cx="1277.5" cy="916.7" rx="1.2" ry="1.8" fill="#555" stroke="#1c1c1c" stroke-width="0.86" transform="rotate(-25 1277.5 916.7)"/>
<ellipse cx="1400.0" cy="967.2" rx="1.2" ry="1.8" fill="#555" stroke="#1c1c1c" stroke-width="0.86" transform="rotate(-25 1400.0 967.2)"/>
<ellipse cx="1416.7" cy="971.2" rx="1.2" ry="1.8" fill="#555" stroke="#1c1c1c" stroke-width="0.86" transform="rotate(-25 1416.7 971.2)"/>
<ellipse cx="1423.3" cy="970.0" rx="1.2" ry="1.8" fill="#555" stroke="#1c1c1c" stroke-width="0.86" transform="rotate(-25 1423.3 970.0)"/>
<g><ellipse cx="1298.3" cy="828.7" rx="3.8" ry="3.04" fill="#ddd" stroke="#222" stroke-width="1.3"/><ellipse cx="1298.3" cy="826.5" rx="2.356" ry="1.9" fill="#777" stroke="#222" stroke-width="1"/></g>
<path d="M 1298.7 831.7 L 1298.7 853.3" fill="none" stroke="#1c1c1c" stroke-width="1.20" stroke-dasharray="8 5"/>
<g><ellipse cx="1450.8" cy="909.5" rx="3.8" ry="3.04" fill="#ddd" stroke="#222" stroke-width="1.3"/><ellipse cx="1450.8" cy="907.3" rx="2.356" ry="1.9" fill="#777" stroke="#222" stroke-width="1"/></g>
<path d="M 1451.2 912.5 L 1451.7 936.7" fill="none" stroke="#1c1c1c" stroke-width="1.20" stroke-dasharray="8 5"/>
<path d="M 1314.2 804.2 L 1300.0 825.0 M 1466.3 885.8 L 1453.3 905.8" fill="none" stroke="#1c1c1c" stroke-width="1.20" />
<path d="M 889.2 687.5 L 906.7 697.5 L 964.2 770.0 L 942.5 760.8 L 935.0 750.0 Z M 893.3 691.3 L 935.8 749.2 M 935.0 750.0 L 950.0 752.5 L 905.0 700.0 M 950.0 752.5 L 964.2 770.0" fill="none" stroke="#1c1c1c" stroke-width="1.29" />
<path d="M 918.3 703.3 L 939.2 714.7 L 993.3 782.5 L 975.8 775.0 L 970.8 765.0 Z M 922.5 707.5 L 971.7 764.2 M 970.8 765.0 L 981.7 766.7 L 937.5 715.0 M 981.7 766.7 L 993.3 782.5" fill="none" stroke="#1c1c1c" stroke-width="1.29" />
<path d="M 953.3 721.7 L 993.3 741.7 L 1047.5 806.3 L 1009.2 789.2 L 1005.0 781.7 Z M 957.5 725.8 L 1006.7 780.8 M 1005.0 781.7 L 1036.7 793.3 L 993.3 744.2 M 1036.7 793.3 L 1047.5 806.3" fill="none" stroke="#1c1c1c" stroke-width="1.29" />
<g><ellipse cx="958.3" cy="647.0" rx="3.8" ry="3.04" fill="#ddd" stroke="#222" stroke-width="1.3"/><ellipse cx="958.3" cy="644.8" rx="2.356" ry="1.9" fill="#777" stroke="#222" stroke-width="1"/></g>
<path d="M 958.7 650.0 L 959.3 673.3" fill="none" stroke="#1c1c1c" stroke-width="1.20" stroke-dasharray="8 5"/>
<path d="M 976.7 624.2 L 960.8 644.2" fill="none" stroke="#1c1c1c" stroke-width="1.20" />
<ellipse cx="960.0" cy="678.7" rx="2.2" ry="1.3" fill="#555" stroke="#1c1c1c" stroke-width="0.86" transform="rotate(-20 960.0 678.7)"/>
<ellipse cx="1197.5" cy="806.3" rx="2.3" ry="1.3" fill="#bbb" stroke="#1c1c1c" stroke-width="0.86" transform="rotate(-15 1197.5 806.3)"/>
<ellipse cx="957.5" cy="700.8" rx="1.3" ry="2.2" fill="none" stroke="#1c1c1c" stroke-width="0.86" transform="rotate(-15 957.5 700.8)"/>
<ellipse cx="902.5" cy="647.5" rx="5.0" ry="3.3" fill="none" stroke="#1c1c1c" stroke-width="1.03" transform="rotate(-10 902.5 647.5)"/>
<circle cx="1101.7" cy="779.2" r="1.4" fill="#222"/>
<circle cx="1169.2" cy="791.7" r="1.4" fill="#222"/>
<circle cx="1138.0" cy="825.8" r="1.4" fill="#222"/>
<circle cx="1097.5" cy="838.3" r="1.4" fill="#222"/>
<circle cx="1133.3" cy="854.2" r="1.4" fill="#222"/>
<circle cx="904.7" cy="766.7" r="1.4" fill="#222"/>
<path d="M 660.0 563.3 L 662.5 558.3 L 693.3 541.7 L 705.0 541.3 L 720.0 545.8 L 726.7 550.0 L 716.7 560.0 M 664.2 561.7 L 676.7 555.3 Q 693.3 550.8 710.0 555.0 L 716.7 560.0 M 726.7 550.0 L 734.2 549.7 L 743.3 555.0" fill="none" stroke="#1c1c1c" stroke-width="1.20" />
<path d="M 680.3 548.0 L 693.3 542.0" fill="none" stroke="#333" stroke-width="2.75" />
<ellipse cx="703.3" cy="544.5" rx="2.0" ry="1.0" fill="#555" stroke="#1c1c1c" stroke-width="0.77" transform="rotate(-20 703.3 544.5)"/>
<path d="M 660.0 563.3 L 648.3 574.2 Q 643.3 583.3 641.7 593.3 L 633.3 616.7 L 627.5 640.0" fill="none" stroke="#1c1c1c" stroke-width="1.20" />
<path d="M 627.5 640.0 L 673.3 660.8 M 623.3 643.3 L 670.0 664.2" fill="none" stroke="#1c1c1c" stroke-width="1.12" />
<path d="M 623.3 643.3 L 572.5 667.5 L 572.0 670.8 L 580.3 678.0 L 581.3 685.8 L 588.7 689.2 L 618.3 675.3 L 626.3 680.0 L 594.2 703.3" fill="none" stroke="#1c1c1c" stroke-width="1.29" />
<path d="M 594.2 703.3 L 640.0 725.8 L 740.0 771.7 L 786.7 793.3 L 860.0 818.3 L 1024.0 869.2 L 1104.4 890.3 L 1173.9 898.6 L 1201.7 902.8 L 1212.8 900.0" fill="none" stroke="#1c1c1c" stroke-width="1.89" />
<path d="M 673.3 660.8 L 670.3 666.7 L 649.2 680.0 L 726.7 718.3 L 733.3 714.2 L 760.0 706.7 L 765.0 709.2 L 764.2 712.5" fill="none" stroke="#1c1c1c" stroke-width="1.38" />
<path d="M 673.3 660.8 Q 675.0 667.5 689.2 677.0 L 705.8 685.3 L 718.3 693.7 Q 726.7 700.0 737.0 703.2 L 760.0 706.2" fill="none" stroke="#1c1c1c" stroke-width="1.12" />
<path d="M 668.3 585.0 Q 676.7 580.8 690.0 580.0 Q 698.3 593.3 701.7 613.3 Q 701.7 625.0 693.3 625.8 Q 686.7 625.0 666.7 603.3 Q 662.5 593.3 668.3 585.0 Z" fill="none" stroke="#1c1c1c" stroke-width="1.55" />
<ellipse cx="714.7" cy="652.5" rx="17.3" ry="25.0" fill="none" stroke="#1c1c1c" stroke-width="1.55" transform="rotate(-22 714.7 652.5)"/>
<ellipse cx="730.0" cy="638.0" rx="1.7" ry="6.0" fill="none" stroke="#1c1c1c" stroke-width="1.12" transform="rotate(-32 730.0 638.0)"/>
<ellipse cx="698.7" cy="666.7" rx="1.7" ry="6.0" fill="none" stroke="#1c1c1c" stroke-width="1.12" transform="rotate(-32 698.7 666.7)"/>
<ellipse cx="713.0" cy="564.2" rx="2.8" ry="3.7" fill="none" stroke="#1c1c1c" stroke-width="1.12" transform="rotate(-20 713.0 564.2)"/>
<ellipse cx="720.3" cy="587.0" rx="1.8" ry="2.8" fill="none" stroke="#1c1c1c" stroke-width="1.03" transform="rotate(-15 720.3 587.0)"/>
<ellipse cx="901.7" cy="647.5" rx="5.3" ry="3.0" fill="none" stroke="#1c1c1c" stroke-width="1.12" transform="rotate(-5 901.7 647.5)"/>
<ellipse cx="896.7" cy="670.3" rx="1.5" ry="2.5" fill="none" stroke="#1c1c1c" stroke-width="0.95" transform="rotate(-15 896.7 670.3)"/>
<ellipse cx="834.2" cy="712.5" rx="1.5" ry="2.5" fill="none" stroke="#1c1c1c" stroke-width="0.95" transform="rotate(-25 834.2 712.5)"/>
<ellipse cx="583.3" cy="667.2" rx="3.7" ry="2.2" fill="none" stroke="#1c1c1c" stroke-width="1.03" transform="rotate(-5 583.3 667.2)"/>
<ellipse cx="649.7" cy="578.3" rx="1.2" ry="1.8" fill="#999" stroke="#1c1c1c" stroke-width="0.86" transform="rotate(-25 649.7 578.3)"/>
<ellipse cx="640.0" cy="606.2" rx="1.2" ry="1.8" fill="#999" stroke="#1c1c1c" stroke-width="0.86" transform="rotate(-25 640.0 606.2)"/>
<ellipse cx="662.0" cy="608.7" rx="1.2" ry="1.8" fill="#999" stroke="#1c1c1c" stroke-width="0.86" transform="rotate(-25 662.0 608.7)"/>
<ellipse cx="633.8" cy="629.7" rx="1.2" ry="1.8" fill="#999" stroke="#1c1c1c" stroke-width="0.86" transform="rotate(-25 633.8 629.7)"/>
<ellipse cx="644.7" cy="630.8" rx="1.2" ry="1.8" fill="#999" stroke="#1c1c1c" stroke-width="0.86" transform="rotate(-25 644.7 630.8)"/>
<ellipse cx="688.8" cy="638.3" rx="1.2" ry="1.8" fill="#999" stroke="#1c1c1c" stroke-width="0.86" transform="rotate(-25 688.8 638.3)"/>
<ellipse cx="714.2" cy="622.5" rx="1.2" ry="1.8" fill="#999" stroke="#1c1c1c" stroke-width="0.86" transform="rotate(-25 714.2 622.5)"/>
<ellipse cx="754.7" cy="636.2" rx="1.2" ry="1.8" fill="#999" stroke="#1c1c1c" stroke-width="0.86" transform="rotate(-25 754.7 636.2)"/>
<ellipse cx="740.0" cy="666.7" rx="1.2" ry="1.8" fill="#999" stroke="#1c1c1c" stroke-width="0.86" transform="rotate(-25 740.0 666.7)"/>
<ellipse cx="715.0" cy="682.5" rx="1.2" ry="1.8" fill="#999" stroke="#1c1c1c" stroke-width="0.86" transform="rotate(-25 715.0 682.5)"/>
<ellipse cx="767.2" cy="688.3" rx="1.2" ry="1.8" fill="#999" stroke="#1c1c1c" stroke-width="0.86" transform="rotate(-25 767.2 688.3)"/>
<ellipse cx="775.8" cy="703.0" rx="1.2" ry="1.8" fill="#999" stroke="#1c1c1c" stroke-width="0.86" transform="rotate(-25 775.8 703.0)"/>
<ellipse cx="666.3" cy="652.0" rx="1.2" ry="1.8" fill="#999" stroke="#1c1c1c" stroke-width="0.86" transform="rotate(-25 666.3 652.0)"/>
<ellipse cx="673.3" cy="651.7" rx="1.2" ry="1.8" fill="#999" stroke="#1c1c1c" stroke-width="0.86" transform="rotate(-25 673.3 651.7)"/>
<ellipse cx="772.0" cy="578.7" rx="1.8" ry="1.0" fill="#888" stroke="#1c1c1c" stroke-width="0.86" transform="rotate(-15 772.0 578.7)"/>
<ellipse cx="740.8" cy="560.8" rx="1.8" ry="1.0" fill="#888" stroke="#1c1c1c" stroke-width="0.86" transform="rotate(-15 740.8 560.8)"/>
<ellipse cx="730.0" cy="555.3" rx="1.8" ry="1.0" fill="#888" stroke="#1c1c1c" stroke-width="0.86" transform="rotate(-15 730.0 555.3)"/>
<ellipse cx="623.0" cy="646.7" rx="1.8" ry="1.0" fill="#888" stroke="#1c1c1c" stroke-width="0.86" transform="rotate(-15 623.0 646.7)"/>
<ellipse cx="601.2" cy="656.7" rx="1.8" ry="1.0" fill="#888" stroke="#1c1c1c" stroke-width="0.86" transform="rotate(-15 601.2 656.7)"/>
<ellipse cx="631.2" cy="662.5" rx="1.8" ry="1.0" fill="#888" stroke="#1c1c1c" stroke-width="0.86" transform="rotate(-15 631.2 662.5)"/>
<ellipse cx="585.3" cy="684.5" rx="1.8" ry="1.0" fill="#888" stroke="#1c1c1c" stroke-width="0.86" transform="rotate(-15 585.3 684.5)"/>
<ellipse cx="620.8" cy="711.7" rx="1.8" ry="1.0" fill="#888" stroke="#1c1c1c" stroke-width="0.86" transform="rotate(-15 620.8 711.7)"/>
<ellipse cx="669.2" cy="695.8" rx="1.8" ry="1.0" fill="#888" stroke="#1c1c1c" stroke-width="0.86" transform="rotate(-15 669.2 695.8)"/>
<ellipse cx="671.7" cy="735.0" rx="1.8" ry="1.0" fill="#888" stroke="#1c1c1c" stroke-width="0.86" transform="rotate(-15 671.7 735.0)"/>
<ellipse cx="771.7" cy="720.3" rx="1.8" ry="1.0" fill="#888" stroke="#1c1c1c" stroke-width="0.86" transform="rotate(-15 771.7 720.3)"/>
<circle cx="599.5" cy="662.5" r="1.4" fill="#222"/>
<circle cx="608.3" cy="674.2" r="1.4" fill="#222"/>
<circle cx="841.7" cy="716.7" r="1.4" fill="#222"/>
<circle cx="841.7" cy="723.0" r="1.4" fill="#222"/>
<circle cx="860.8" cy="728.3" r="1.4" fill="#222"/>
<circle cx="870.0" cy="729.7" r="1.4" fill="#222"/>
<circle cx="843.3" cy="740.0" r="1.4" fill="#222"/>
<circle cx="853.3" cy="743.3" r="1.4" fill="#222"/>
<circle cx="816.7" cy="726.7" r="1.4" fill="#222"/>
<path d="M 607.5 704.2 L 636.7 685.3 L 652.5 692.5 L 650.0 696.7 L 626.7 710.0 L 618.3 707.5 L 616.7 710.0 L 608.3 706.7 Z" fill="none" stroke="#1c1c1c" stroke-width="1.12" />
<path d="M 608.3 704.7 L 635.8 686.7" fill="none" stroke="#333" stroke-width="2.58" />
<path d="M 639.7 714.2 L 665.0 698.0 L 666.7 700.0 L 641.7 715.8 Z" fill="none" stroke="#1c1c1c" stroke-width="1.12" />
<path d="M 648.3 723.3 L 676.7 705.0 L 695.0 713.7 L 693.3 719.2 L 675.0 730.0 L 668.3 731.7 L 666.7 734.2 L 650.8 726.7 Z" fill="none" stroke="#1c1c1c" stroke-width="1.12" />
<path d="M 649.2 723.8 L 675.8 706.3" fill="none" stroke="#333" stroke-width="2.58" />
<path d="M 685.8 735.0 L 710.0 717.5 L 711.7 719.7 L 687.5 736.7 Z" fill="none" stroke="#1c1c1c" stroke-width="1.12" />
<path d="M 673.3 533.3 L 670.8 694.2" fill="none" stroke="#1c1c1c" stroke-width="1.20" stroke-dasharray="10 6"/>
<path d="M 570.0 595.0 L 719.2 587.0" fill="none" stroke="#1c1c1c" stroke-width="1.20" stroke-dasharray="12 7"/>
<path d="M 729.2 515.0 L 730.0 554.2" fill="none" stroke="#1c1c1c" stroke-width="1.20" stroke-dasharray="10 6"/>
<path d="M 696.7 510.0 L 704.2 543.3" fill="none" stroke="#1c1c1c" stroke-width="1.20" stroke-dasharray="10 6"/>
<path d="M 805.0 731.7 L 911.7 670.0" fill="none" stroke="#1c1c1c" stroke-width="1.20" stroke-dasharray="12 7"/>
<path d="M 863.3 745.8 L 953.7 694.3" fill="none" stroke="#1c1c1c" stroke-width="1.20" stroke-dasharray="12 7"/>
<path d="M 946.3 697.0 L 950.0 695.3" fill="none" stroke="#1c1c1c" stroke-width="2.06" />
<path d="M 905.8 674.2 L 909.2 672.5" fill="none" stroke="#1c1c1c" stroke-width="1.89" />
<ellipse cx="674.2" cy="528.7" rx="4.0" ry="3.3" fill="#222" stroke="#1c1c1c" stroke-width="1.03"/>
<path d="M 671.7 531.3 L 676.7 531.3 L 676.3 534.2 L 672.0 534.2 Z" fill="#222" stroke="#1c1c1c" stroke-width="0.86" />
<ellipse cx="568.7" cy="595.3" rx="4.0" ry="4.0" fill="#111" stroke="#1c1c1c" stroke-width="1.03"/>
<ellipse cx="568.7" cy="595.3" rx="1.5" ry="1.5" fill="#777" stroke="#1c1c1c" stroke-width="0.69"/>
<path d="M 560.0 595.8 L 564.7 595.7" fill="none" stroke="#1c1c1c" stroke-width="1.12" />
<g><ellipse cx="728.7" cy="513.2" rx="4" ry="3.2" fill="#ddd" stroke="#222" stroke-width="1.3"/><ellipse cx="728.7" cy="511.0" rx="2.48" ry="2" fill="#777" stroke="#222" stroke-width="1"/></g>
<path d="M 855.0 771.7 L 860.0 766.7 L 900.0 785.0 L 906.7 791.7 L 904.2 796.7 L 858.3 776.7 Z" fill="none" stroke="#1c1c1c" stroke-width="1.29" />
<path d="M 843.3 785.8 L 848.3 780.8 L 888.3 798.3 L 899.2 806.7 L 896.7 811.7 L 846.7 790.0 Z" fill="none" stroke="#1c1c1c" stroke-width="1.29" />
<path d="M 832.5 799.2 L 837.5 794.2 L 880.0 813.3 L 891.7 820.8 L 889.2 823.3 L 835.8 803.3 Z" fill="none" stroke="#1c1c1c" stroke-width="1.29" />
<path d="M 925.0 796.7 L 930.0 792.5 L 975.0 812.5 L 976.7 817.5 L 928.3 798.3 Z" fill="none" stroke="#1c1c1c" stroke-width="1.29" />
<path d="M 918.3 807.5 L 923.3 803.3 L 966.7 823.3 L 975.0 831.7 L 971.7 835.0 L 921.7 811.7 Z" fill="none" stroke="#1c1c1c" stroke-width="1.29" />
<path d="M 910.8 822.5 L 915.8 818.3 L 958.3 837.5 L 971.7 847.5 L 913.3 826.7 Z" fill="none" stroke="#1c1c1c" stroke-width="1.29" />
<path d="M 713.3 731.7 L 718.3 728.7 L 755.0 745.0 L 756.7 748.3 L 716.7 735.8 Z" fill="none" stroke="#1c1c1c" stroke-width="1.29" />
<path d="M 695.0 741.7 L 700.0 738.7 L 740.0 764.2 L 741.7 768.3 L 698.3 745.8 Z" fill="none" stroke="#1c1c1c" stroke-width="1.29" />
<path d="M 900.8 817.5 L 913.3 790.0 L 918.3 790.8 L 905.8 819.2 Z" fill="none" stroke="#1c1c1c" stroke-width="1.20" />
<path d="M 979.2 842.5 L 983.3 819.2 L 987.5 820.0 L 983.3 843.3 Z" fill="none" stroke="#1c1c1c" stroke-width="1.20" />
<path d="M 990.0 843.3 L 995.0 822.5 L 1016.7 831.7 L 1028.3 840.0 M 995.0 823.3 L 991.7 833.3" fill="none" stroke="#1c1c1c" stroke-width="1.29" />
<path d="M 855.0 771.7 L 860.0 766.7 M 843.3 785.8 L 848.3 780.8 M 832.5 799.2 L 837.5 794.2 M 925.0 796.7 L 930.0 792.5 M 918.3 807.5 L 923.3 803.3 M 910.8 822.5 L 915.8 818.3 M 713.3 731.7 L 718.3 728.7 M 695.0 741.7 L 700.0 738.7" fill="none" stroke="#333" stroke-width="2.58" />
<ellipse cx="860.0" cy="775.0" rx="1.5" ry="2.2" fill="none" stroke="#1c1c1c" stroke-width="0.95" transform="rotate(-25 860.0 775.0)"/>
<ellipse cx="850.8" cy="789.7" rx="1.5" ry="2.2" fill="none" stroke="#1c1c1c" stroke-width="0.95" transform="rotate(-25 850.8 789.7)"/>
<ellipse cx="840.8" cy="803.3" rx="1.5" ry="2.2" fill="none" stroke="#1c1c1c" stroke-width="0.95" transform="rotate(-25 840.8 803.3)"/>
<ellipse cx="930.0" cy="796.7" rx="1.5" ry="2.2" fill="none" stroke="#1c1c1c" stroke-width="0.95" transform="rotate(-25 930.0 796.7)"/>
<ellipse cx="925.8" cy="812.5" rx="1.5" ry="2.2" fill="none" stroke="#1c1c1c" stroke-width="0.95" transform="rotate(-25 925.8 812.5)"/>
<ellipse cx="917.5" cy="826.7" rx="1.5" ry="2.2" fill="none" stroke="#1c1c1c" stroke-width="0.95" transform="rotate(-25 917.5 826.7)"/>
<ellipse cx="719.7" cy="735.3" rx="1.5" ry="2.2" fill="none" stroke="#1c1c1c" stroke-width="0.95" transform="rotate(-25 719.7 735.3)"/>
<ellipse cx="793.3" cy="751.7" rx="1.5" ry="2.2" fill="none" stroke="#1c1c1c" stroke-width="0.95" transform="rotate(-25 793.3 751.7)"/>
<path d="M 763.3 708.3 L 766.7 711.7 L 855.0 758.3 M 673.3 693.3 L 711.7 710.0 M 766.7 711.7 L 1024.0 828.3 M 890.0 761.7 L 1024.0 822.5 M 795.0 738.3 L 831.7 755.0 L 823.3 760.0 L 786.7 745.0 Z" fill="none" stroke="#1c1c1c" stroke-width="1.03" />
<path d="M 993.3 822.9 L 1022.5 836.7 L 1024.6 860.4 L 991.2 843.8 Z" fill="none" stroke="#1c1c1c" stroke-width="1.20" />
<path d="M 994.2 824.2 L 991.2 842.5" fill="none" stroke="#333" stroke-width="2.58" />
<path d="M 1041.9 868.1 L 1043.3 845.8 L 1054.4 844.4 L 1062.8 850.0 L 1064.2 870.8 Z M 1083.6 873.6 L 1082.2 861.1 L 1096.1 862.5 L 1105.8 870.8 L 1094.7 880.6 L 1089.2 880.6 Z M 1123.9 888.9 L 1130.8 883.3 L 1143.3 884.7 L 1144.7 890.3 Z" fill="none" stroke="#1c1c1c" stroke-width="1.12" />
<path d="M 860.0 755.6 L 1135.0 873.6 L 1104.4 890.3 M 1135.0 873.6 L 1187.8 890.3 L 1212.8 900.0 M 1104.4 890.3 L 1173.9 898.6 L 1201.7 902.8 L 1212.8 900.0" fill="none" stroke="#1c1c1c" stroke-width="1.12" />
<circle cx="1148.9" cy="888.3" r="1.2" fill="#222"/>
<circle cx="1154.4" cy="894.4" r="1.2" fill="#222"/>
<circle cx="1137.8" cy="894.4" r="1.2" fill="#222"/>
<circle cx="1141.9" cy="880.6" r="1.2" fill="#222"/>
</g>
<g id="41_frontplate">
<path d="M 483.3 685.0 L 566.7 726.7 L 571.7 733.3 L 586.7 746.7 L 591.7 745.0 L 596.7 749.2 L 598.3 756.7 L 621.7 779.2 L 627.5 779.2 L 631.7 784.2 L 677.5 828.3 L 673.3 864.2 L 670.8 865.0 L 611.7 840.0 L 611.7 836.7 L 603.3 843.3 L 593.3 846.7 L 580.0 841.7 L 570.0 844.2 L 546.7 843.3 L 535.0 842.5 L 533.3 839.2 L 526.7 835.0 L 523.3 828.3 L 513.3 826.7 L 510.8 821.7 L 498.3 810.8 L 490.0 809.2 L 488.3 803.3 L 461.7 775.0 L 463.3 770.8 L 466.7 766.7 L 455.8 764.2 L 455.0 760.0 L 458.3 746.7 L 470.0 700.0 Q 475.0 688.3 483.3 685.0 Z" fill="#fff" stroke="#1c1c1c" stroke-width="1.63" />
<path d="M 463.3 770.8 L 536.7 828.3 Q 553.3 835.8 570.0 835.0 Q 580.0 833.3 586.7 830.8 L 595.0 833.3 L 610.0 839.2 M 461.7 775.0 L 535.0 833.3 Q 553.3 840.8 578.3 839.2" fill="none" stroke="#1c1c1c" stroke-width="1.12" />
<path d="M 673.3 864.2 L 677.5 828.3 M 611.7 836.7 L 586.7 830.8" fill="none" stroke="#1c1c1c" stroke-width="1.12" />
<ellipse cx="541.3" cy="773.3" rx="18.3" ry="24.3" fill="none" stroke="#1c1c1c" stroke-width="1.72" transform="rotate(-20 541.3 773.3)"/>
<path d="M 490.0 716.7 L 495.0 710.0 L 513.3 701.7 L 521.7 705.0 L 534.2 728.3 L 530.0 734.2 L 513.3 745.8 L 506.7 743.3 L 491.7 721.7 Z" fill="#e3e3e3" stroke="#1c1c1c" stroke-width="1.12" />
<path d="M 493.3 717.5 L 497.5 712.5 L 513.3 705.3 L 520.0 708.3 M 495.8 720.0 L 510.0 741.7 M 520.0 708.3 L 530.8 730.0" fill="none" stroke="#1c1c1c" stroke-width="0.95" />
<ellipse cx="516.7" cy="730.8" rx="9.7" ry="15.8" fill="#fff" stroke="#1c1c1c" stroke-width="1.55" transform="rotate(-20 516.7 730.8)"/>
<path d="M 518.3 703.3 L 531.7 726.7" fill="none" stroke="#555" stroke-width="3.44" />
<ellipse cx="480.0" cy="726.7" rx="3.7" ry="5.3" fill="none" stroke="#1c1c1c" stroke-width="1.20" transform="rotate(-20 480.0 726.7)"/>
<ellipse cx="545.3" cy="733.3" rx="3.7" ry="5.3" fill="none" stroke="#1c1c1c" stroke-width="1.20" transform="rotate(-20 545.3 733.3)"/>
<ellipse cx="481.3" cy="753.3" rx="3.7" ry="5.3" fill="none" stroke="#1c1c1c" stroke-width="1.20" transform="rotate(-20 481.3 753.3)"/>
<ellipse cx="472.5" cy="760.8" rx="3.7" ry="5.3" fill="none" stroke="#1c1c1c" stroke-width="1.20" transform="rotate(-20 472.5 760.8)"/>
<ellipse cx="505.8" cy="760.8" rx="3.7" ry="5.3" fill="none" stroke="#1c1c1c" stroke-width="1.20" transform="rotate(-20 505.8 760.8)"/>
<ellipse cx="564.2" cy="754.2" rx="3.7" ry="5.3" fill="none" stroke="#1c1c1c" stroke-width="1.20" transform="rotate(-20 564.2 754.2)"/>
<ellipse cx="575.8" cy="780.0" rx="3.7" ry="5.3" fill="none" stroke="#1c1c1c" stroke-width="1.20" transform="rotate(-20 575.8 780.0)"/>
<ellipse cx="575.8" cy="804.2" rx="3.7" ry="5.3" fill="none" stroke="#1c1c1c" stroke-width="1.20" transform="rotate(-20 575.8 804.2)"/>
<ellipse cx="494.5" cy="696.7" rx="1.7" ry="2.5" fill="none" stroke="#1c1c1c" stroke-width="1.03" transform="rotate(-20 494.5 696.7)"/>
<ellipse cx="484.2" cy="719.5" rx="1.7" ry="2.5" fill="none" stroke="#1c1c1c" stroke-width="1.03" transform="rotate(-20 484.2 719.5)"/>
<ellipse cx="550.0" cy="726.2" rx="1.7" ry="2.5" fill="none" stroke="#1c1c1c" stroke-width="1.03" transform="rotate(-20 550.0 726.2)"/>
<ellipse cx="492.8" cy="757.8" rx="1.7" ry="2.5" fill="none" stroke="#1c1c1c" stroke-width="1.03" transform="rotate(-20 492.8 757.8)"/>
<ellipse cx="515.3" cy="758.3" rx="1.7" ry="2.5" fill="none" stroke="#1c1c1c" stroke-width="1.03" transform="rotate(-20 515.3 758.3)"/>
<ellipse cx="540.5" cy="742.8" rx="1.7" ry="2.5" fill="none" stroke="#1c1c1c" stroke-width="1.03" transform="rotate(-20 540.5 742.8)"/>
<ellipse cx="591.2" cy="751.3" rx="1.7" ry="2.5" fill="none" stroke="#1c1c1c" stroke-width="1.03" transform="rotate(-20 591.2 751.3)"/>
<ellipse cx="509.2" cy="773.8" rx="1.7" ry="2.5" fill="none" stroke="#1c1c1c" stroke-width="1.03" transform="rotate(-20 509.2 773.8)"/>
<ellipse cx="566.7" cy="787.0" rx="1.7" ry="2.5" fill="none" stroke="#1c1c1c" stroke-width="1.03" transform="rotate(-20 566.7 787.0)"/>
<ellipse cx="542.0" cy="802.5" rx="1.7" ry="2.5" fill="none" stroke="#1c1c1c" stroke-width="1.03" transform="rotate(-20 542.0 802.5)"/>
<ellipse cx="598.3" cy="803.7" rx="1.7" ry="2.5" fill="none" stroke="#1c1c1c" stroke-width="1.03" transform="rotate(-20 598.3 803.7)"/>
<ellipse cx="633.3" cy="826.2" rx="1.7" ry="2.5" fill="none" stroke="#1c1c1c" stroke-width="1.03" transform="rotate(-20 633.3 826.2)"/>
<ellipse cx="616.7" cy="832.5" rx="1.7" ry="2.5" fill="none" stroke="#1c1c1c" stroke-width="1.03" transform="rotate(-20 616.7 832.5)"/>
<ellipse cx="620.8" cy="786.7" rx="1.7" ry="2.5" fill="none" stroke="#1c1c1c" stroke-width="1.03" transform="rotate(-20 620.8 786.7)"/>
<ellipse cx="626.7" cy="785.8" rx="1.7" ry="2.5" fill="none" stroke="#1c1c1c" stroke-width="1.03" transform="rotate(-20 626.7 785.8)"/>
<ellipse cx="615.8" cy="792.5" rx="1.7" ry="2.5" fill="none" stroke="#1c1c1c" stroke-width="1.03" transform="rotate(-20 615.8 792.5)"/>
<ellipse cx="629.7" cy="800.3" rx="1.7" ry="2.5" fill="none" stroke="#1c1c1c" stroke-width="1.03" transform="rotate(-20 629.7 800.3)"/>
<ellipse cx="645.8" cy="807.2" rx="1.7" ry="2.5" fill="none" stroke="#1c1c1c" stroke-width="1.03" transform="rotate(-20 645.8 807.2)"/>
<ellipse cx="650.5" cy="815.0" rx="1.7" ry="2.5" fill="none" stroke="#1c1c1c" stroke-width="1.03" transform="rotate(-20 650.5 815.0)"/>
<ellipse cx="644.2" cy="819.2" rx="1.7" ry="2.5" fill="none" stroke="#1c1c1c" stroke-width="1.03" transform="rotate(-20 644.2 819.2)"/>
<ellipse cx="660.5" cy="822.5" rx="1.7" ry="2.5" fill="none" stroke="#1c1c1c" stroke-width="1.03" transform="rotate(-20 660.5 822.5)"/>
<ellipse cx="644.5" cy="826.7" rx="1.7" ry="2.5" fill="none" stroke="#1c1c1c" stroke-width="1.03" transform="rotate(-20 644.5 826.7)"/>
<ellipse cx="660.5" cy="832.5" rx="1.7" ry="2.5" fill="none" stroke="#1c1c1c" stroke-width="1.03" transform="rotate(-20 660.5 832.5)"/>
<ellipse cx="670.8" cy="829.2" rx="1.7" ry="2.5" fill="none" stroke="#1c1c1c" stroke-width="1.03" transform="rotate(-20 670.8 829.2)"/>
<ellipse cx="670.5" cy="860.0" rx="1.7" ry="2.5" fill="none" stroke="#1c1c1c" stroke-width="1.03" transform="rotate(-20 670.5 860.0)"/>
<ellipse cx="601.7" cy="823.7" rx="1.7" ry="2.5" fill="#777" stroke="#1c1c1c" stroke-width="1.03" transform="rotate(-20 601.7 823.7)"/>
<ellipse cx="643.3" cy="846.7" rx="1.7" ry="2.5" fill="#777" stroke="#1c1c1c" stroke-width="1.03" transform="rotate(-20 643.3 846.7)"/>
<ellipse cx="669.2" cy="843.3" rx="1.7" ry="2.5" fill="#777" stroke="#1c1c1c" stroke-width="1.03" transform="rotate(-20 669.2 843.3)"/>
<circle cx="476.2" cy="698.7" r="1.4" fill="#222"/>
<circle cx="466.2" cy="726.7" r="1.4" fill="#222"/>
<circle cx="460.0" cy="749.5" r="1.4" fill="#222"/>
<circle cx="470.8" cy="751.3" r="1.4" fill="#222"/>
<circle cx="605.0" cy="780.5" r="1.4" fill="#222"/>
<circle cx="638.3" cy="808.0" r="1.4" fill="#222"/>
<circle cx="637.5" cy="815.3" r="1.4" fill="#222"/>
<circle cx="629.2" cy="819.7" r="1.4" fill="#222"/>
<circle cx="613.7" cy="810.8" r="1.4" fill="#222"/>
<circle cx="655.0" cy="831.7" r="1.4" fill="#222"/>
<circle cx="669.5" cy="836.7" r="1.4" fill="#222"/>
<path d="M 483.5 730.8 L 488.2 728.5" fill="none" stroke="#333" stroke-width="3.61" />
<path d="M 483.7 730.7 L 488.0 728.7" fill="none" stroke="#ccc" stroke-width="1.72" />
<path d="M 490.2 775.3 L 494.8 773.0" fill="none" stroke="#333" stroke-width="3.61" />
<path d="M 490.3 775.2 L 494.7 773.2" fill="none" stroke="#ccc" stroke-width="1.72" />
<path d="M 576.8 759.5 L 581.5 757.2" fill="none" stroke="#333" stroke-width="3.61" />
<path d="M 577.0 759.3 L 581.3 757.3" fill="none" stroke="#ccc" stroke-width="1.72" />
<path d="M 589.3 812.0 L 594.0 809.7" fill="none" stroke="#333" stroke-width="3.61" />
<path d="M 589.5 811.8 L 593.8 809.8" fill="none" stroke="#ccc" stroke-width="1.72" />
<ellipse cx="557.5" cy="759.7" rx="1.0" ry="3.7" fill="#555" stroke="#1c1c1c" stroke-width="0.86" transform="rotate(-20 557.5 759.7)"/>
<ellipse cx="523.7" cy="785.0" rx="1.0" ry="3.7" fill="#555" stroke="#1c1c1c" stroke-width="0.86" transform="rotate(-20 523.7 785.0)"/>
<path d="M 610.8 801.7 L 613.3 800.0 L 625.8 812.5 L 629.2 826.7 L 625.8 830.0 L 611.7 820.0 L 616.7 814.2 L 613.3 809.2 Z" fill="none" stroke="#1c1c1c" stroke-width="1.29" />
<ellipse cx="496.3" cy="804.2" rx="2.3" ry="1.8" fill="#333" stroke="#1c1c1c" stroke-width="0.86" transform="rotate(-10 496.3 804.2)"/>
<ellipse cx="518.7" cy="823.0" rx="2.3" ry="1.8" fill="#333" stroke="#1c1c1c" stroke-width="0.86" transform="rotate(-10 518.7 823.0)"/>
<ellipse cx="542.0" cy="839.2" rx="2.3" ry="1.8" fill="#333" stroke="#1c1c1c" stroke-width="0.86" transform="rotate(-10 542.0 839.2)"/>
<ellipse cx="575.8" cy="840.0" rx="2.0" ry="1.3" fill="#333" stroke="#1c1c1c" stroke-width="0.86" transform="rotate(-10 575.8 840.0)"/>
<ellipse cx="534.2" cy="831.3" rx="2.7" ry="1.7" fill="none" stroke="#1c1c1c" stroke-width="0.95" transform="rotate(20 534.2 831.3)"/>
<ellipse cx="597.2" cy="842.5" rx="2.7" ry="1.5" fill="none" stroke="#1c1c1c" stroke-width="0.95" transform="rotate(-5 597.2 842.5)"/>
<g><ellipse cx="461.3" cy="795.4" rx="3.8" ry="3.04" fill="#ddd" stroke="#222" stroke-width="1.3"/><ellipse cx="461.3" cy="793.2" rx="2.356" ry="1.9" fill="#777" stroke="#222" stroke-width="1"/></g>
<path d="M 442.5 805.8 L 459.2 795.8 M 463.3 792.5 L 473.3 787.5" fill="none" stroke="#1c1c1c" stroke-width="1.20" />
<g><ellipse cx="596.7" cy="867.9" rx="4.2" ry="3.36" fill="#ddd" stroke="#222" stroke-width="1.3"/><ellipse cx="596.7" cy="865.7" rx="2.604" ry="2.1" fill="#777" stroke="#222" stroke-width="1"/></g>
<path d="M 596.7 851.7 L 596.7 862.5 M 582.5 879.2 L 594.2 869.7" fill="none" stroke="#1c1c1c" stroke-width="1.20" />
<g><ellipse cx="635.0" cy="858.7" rx="3.8" ry="3.04" fill="#ddd" stroke="#222" stroke-width="1.3"/><ellipse cx="635.0" cy="856.5" rx="2.356" ry="1.9" fill="#777" stroke="#222" stroke-width="1"/></g>
<path d="M 660.0 886.3 L 636.7 859.3" fill="none" stroke="#1c1c1c" stroke-width="1.20" />
<g><ellipse cx="695.8" cy="847.0" rx="4" ry="3.2" fill="#ddd" stroke="#222" stroke-width="1.3"/><ellipse cx="695.8" cy="844.8" rx="2.48" ry="2" fill="#777" stroke="#222" stroke-width="1"/></g>
<path d="M 715.0 865.8 L 698.3 847.7" fill="none" stroke="#1c1c1c" stroke-width="1.20" />
<path d="M 643.3 853.3 L 670.0 837.5" fill="none" stroke="#1c1c1c" stroke-width="1.20" stroke-dasharray="11 6"/>
<path d="M 676.7 857.5 L 693.3 847.5" fill="none" stroke="#1c1c1c" stroke-width="1.20" stroke-dasharray="11 6"/>
<path d="M 680.0 831.7 L 713.3 812.5" fill="none" stroke="#1c1c1c" stroke-width="1.20" stroke-dasharray="11 6"/>
<path d="M 697.5 805.0 Q 698.7 801.3 702.5 800.8 L 707.0 803.7 L 710.3 809.2 L 715.0 808.7 L 716.7 813.3 L 714.2 821.7 L 710.8 822.5 L 707.5 816.7 L 700.8 813.3 Z" fill="#fff" stroke="#1c1c1c" stroke-width="1.38" />
<ellipse cx="704.2" cy="807.5" rx="2.2" ry="3.0" fill="none" stroke="#1c1c1c" stroke-width="1.12" transform="rotate(-30 704.2 807.5)"/>
<circle cx="712.5" cy="812.0" r="1.4" fill="#222"/>
<circle cx="712.0" cy="819.2" r="1.4" fill="#222"/>
<path d="M 748.3 854.2 L 715.8 814.2" fill="none" stroke="#1c1c1c" stroke-width="1.20" />
<path d="M 688.3 761.7 Q 690.0 758.7 695.0 759.2 L 718.3 767.0 L 756.7 791.7 L 764.2 806.7 Q 768.7 810.0 768.3 815.0 Q 767.5 821.7 762.5 821.7 L 755.8 819.2 L 696.7 783.3 L 686.3 767.0 Z" fill="#fff" stroke="#1c1c1c" stroke-width="1.38" />
<path d="M 691.7 768.3 L 756.7 805.0 M 695.0 759.2 L 706.7 760.0 L 718.3 767.0" fill="none" stroke="#1c1c1c" stroke-width="0.95" />
<ellipse cx="693.3" cy="765.8" rx="1.7" ry="2.2" fill="#999" stroke="#1c1c1c" stroke-width="0.86" transform="rotate(-20 693.3 765.8)"/>
<ellipse cx="706.7" cy="772.5" rx="1.7" ry="2.2" fill="#999" stroke="#1c1c1c" stroke-width="0.86" transform="rotate(-20 706.7 772.5)"/>
<ellipse cx="700.8" cy="782.5" rx="1.7" ry="2.2" fill="#999" stroke="#1c1c1c" stroke-width="0.86" transform="rotate(-20 700.8 782.5)"/>
<ellipse cx="751.7" cy="809.2" rx="1.7" ry="2.3" fill="#777" stroke="#1c1c1c" stroke-width="0.95" transform="rotate(-20 751.7 809.2)"/>
<ellipse cx="762.5" cy="813.8" rx="2.0" ry="2.7" fill="none" stroke="#1c1c1c" stroke-width="1.12" transform="rotate(-20 762.5 813.8)"/>
<ellipse cx="705.8" cy="762.0" rx="1.7" ry="1.0" fill="#555" stroke="#1c1c1c" stroke-width="0.77" transform="rotate(-20 705.8 762.0)"/>
<path d="M 753.3 763.3 L 791.7 731.7 L 795.8 735.0 L 756.7 767.0 Z" fill="#fff" stroke="#1c1c1c" stroke-width="1.38" />
<path d="M 755.0 765.3 L 793.7 733.7" fill="none" stroke="#1c1c1c" stroke-width="0.86" />
<path d="M 743.3 728.7 L 780.0 725.8 L 756.7 745.0 Z M 748.3 730.8 L 771.7 729.2 L 757.5 740.8 Z" fill="none" stroke="#1c1c1c" stroke-width="1.12" />
<path d="M 761.7 770.0 L 785.0 781.3 L 773.3 786.7 Z" fill="none" stroke="#1c1c1c" stroke-width="1.12" />
<path d="M 786.7 783.3 L 806.7 790.0 M 795.0 780.8 L 806.7 783.3 L 800.0 785.8" fill="none" stroke="#1c1c1c" stroke-width="1.12" />
<ellipse cx="767.2" cy="740.0" rx="1.5" ry="1.5" fill="#888" stroke="#1c1c1c" stroke-width="0.86"/>
<ellipse cx="768.3" cy="772.5" rx="1.3" ry="1.3" fill="#888" stroke="#1c1c1c" stroke-width="0.86"/>
<g><ellipse cx="683.0" cy="790.4" rx="3.6" ry="2.88" fill="#ddd" stroke="#222" stroke-width="1.3"/><ellipse cx="683.0" cy="788.2" rx="2.232" ry="1.8" fill="#777" stroke="#222" stroke-width="1"/></g>
<path d="M 660.8 758.3 L 681.7 787.5 M 685.3 789.5 L 710.0 790.0" fill="none" stroke="#1c1c1c" stroke-width="1.20" />
<path d="M 762.5 805.0 L 816.7 773.3" fill="none" stroke="#1c1c1c" stroke-width="1.20" stroke-dasharray="12 7"/>
<path d="M 868.3 791.7 L 898.3 771.7" fill="none" stroke="#1c1c1c" stroke-width="1.20" stroke-dasharray="12 7"/>
<path d="M 873.3 796.7 L 890.0 805.0 M 865.0 790.0 L 876.7 795.0" fill="none" stroke="#1c1c1c" stroke-width="1.12" />
<g><ellipse cx="862.5" cy="823.7" rx="3.8" ry="3.04" fill="#ddd" stroke="#222" stroke-width="1.3"/><ellipse cx="862.5" cy="821.5" rx="2.356" ry="1.9" fill="#777" stroke="#222" stroke-width="1"/></g>
<path d="M 886.7 848.3 L 864.3 824.3" fill="none" stroke="#1c1c1c" stroke-width="1.20" />
<path d="M 796.7 836.7 L 769.2 816.7" fill="none" stroke="#1c1c1c" stroke-width="1.20" />
<circle cx="890.8" cy="761.7" r="2.4" fill="#222"/>
<circle cx="775.8" cy="702.5" r="1.4" fill="#222"/>
<circle cx="841.7" cy="716.7" r="1.4" fill="#222"/>
<circle cx="842.5" cy="722.5" r="1.4" fill="#222"/>
<circle cx="860.8" cy="728.7" r="1.4" fill="#222"/>
<circle cx="870.0" cy="729.7" r="1.4" fill="#222"/>
<circle cx="844.2" cy="740.0" r="1.4" fill="#222"/>
<circle cx="852.5" cy="743.3" r="1.4" fill="#222"/>
<circle cx="862.5" cy="747.5" r="1.4" fill="#222"/>
<circle cx="828.3" cy="792.5" r="1.4" fill="#222"/>
<ellipse cx="834.2" cy="711.7" rx="1.5" ry="2.3" fill="none" stroke="#1c1c1c" stroke-width="0.95" transform="rotate(-25 834.2 711.7)"/>
<ellipse cx="771.7" cy="720.5" rx="1.7" ry="1.0" fill="#888" stroke="#1c1c1c" stroke-width="0.86" transform="rotate(-15 771.7 720.5)"/>
</g>
<g id="42_topmid">
<path d="M 543.0 455.0 L 527.5 490.8" fill="none" stroke="#1c1c1c" stroke-width="1.20" />
<path d="M 647.5 484.2 L 672.5 525.8" fill="none" stroke="#1c1c1c" stroke-width="1.20" />
<g><ellipse cx="693.0" cy="503.7" rx="3.8" ry="3.04" fill="#ddd" stroke="#222" stroke-width="1.3"/><ellipse cx="693.0" cy="501.5" rx="2.356" ry="1.9" fill="#777" stroke="#222" stroke-width="1"/></g>
<path d="M 675.8 459.2 L 691.7 499.2 M 689.7 461.3 L 726.7 508.3" fill="none" stroke="#1c1c1c" stroke-width="1.20" />
<path d="M 694.2 508.3 L 704.2 543.3" fill="none" stroke="#1c1c1c" stroke-width="1.20" stroke-dasharray="9 6"/>
<ellipse cx="798.7" cy="501.7" rx="2.2" ry="2.2" fill="#444" stroke="#1c1c1c" stroke-width="0.86"/>
<path d="M 778.3 491.7 L 796.7 500.5" fill="none" stroke="#1c1c1c" stroke-width="1.20" />
<path d="M 801.7 504.2 L 818.3 518.3" fill="none" stroke="#1c1c1c" stroke-width="1.20" stroke-dasharray="10 6"/>
<ellipse cx="519.2" cy="597.5" rx="2.3" ry="3.3" fill="#fff" stroke="#1c1c1c" stroke-width="1.12" transform="rotate(20 519.2 597.5)"/>
<path d="M 517.0 599.2 L 521.3 595.3" fill="none" stroke="#1c1c1c" stroke-width="0.77" />
<path d="M 522.0 596.7 L 525.3 597.7 L 522.3 599.0 Z" fill="#222" stroke="#1c1c1c" stroke-width="0.69" />
<path d="M 513.3 550.8 L 518.7 594.2 M 565.8 566.7 L 568.3 591.7" fill="none" stroke="#1c1c1c" stroke-width="1.20" />
<path d="M 525.8 597.5 L 564.2 595.5" fill="none" stroke="#1c1c1c" stroke-width="1.20" stroke-dasharray="11 7"/>
</g>
<g id="50_lowerleft">
<path d="M 231.9 891.7 L 437.1 983.3 L 747.1 1080.6 L 782.5 1087.9 L 874.2 1097.3 L 875.2 1112.9 L 765.8 1102.5 L 745.0 1096.2 L 444.4 1004.2 L 435.0 999.0 L 227.7 906.2 Z" fill="#fff" stroke="#1c1c1c" stroke-width="1.20" />
<path d="M 231.9 890.2 L 437.1 981.8 L 747.1 1079.1 L 782.5 1086.4" fill="none" stroke="#cfcfcf" stroke-width="4.73" stroke-dasharray="9 13" stroke-linecap="round"/>
<path d="M 231.9 890.2 L 437.1 981.8 L 747.1 1079.1 L 782.5 1086.4" fill="none" stroke="#444" stroke-width="3.61" stroke-dasharray="1 21" stroke-linecap="round"/>
<path d="M 232.9 894.3 L 438.1 985.9 L 748.1 1083.2 L 783.5 1090.5 L 875.2 1099.9" fill="none" stroke="#1a1a1a" stroke-width="3.96" />
<path d="M 782.5 1090.5 L 874.2 1098.3" fill="none" stroke="#1a1a1a" stroke-width="2.75" />
<path d="M 232.9 894.3 L 438.1 985.9 L 748.1 1083.2 L 783.5 1090.5 L 875.2 1099.9" fill="none" stroke="#9a9a9a" stroke-width="1.03" stroke-dasharray="6 16"/>
<path d="M 227.7 894.8 L 231.9 891.2 M 435.0 985.4 L 435.0 999.6 M 443.3 988.5 L 443.8 1003.8" fill="none" stroke="#1c1c1c" stroke-width="1.03" />
<path d="M 745.0 1082.7 L 747.1 1097.3 M 763.8 1087.9 L 765.8 1102.5" fill="none" stroke="#1c1c1c" stroke-width="0.95" />
<circle cx="230.4" cy="902.1" r="1.3" fill="#222"/>
<g><ellipse cx="207.5" cy="915.8" rx="4" ry="3.2" fill="#ddd" stroke="#222" stroke-width="1.3"/><ellipse cx="207.5" cy="913.6" rx="2.48" ry="2" fill="#777" stroke="#222" stroke-width="1"/></g>
<path d="M 212.1 912.1 L 228.8 903.3" fill="none" stroke="#1c1c1c" stroke-width="1.20" stroke-dasharray="9 6"/>
<g><ellipse cx="248.5" cy="881.4" rx="3.8" ry="3.04" fill="#ddd" stroke="#222" stroke-width="1.3"/><ellipse cx="248.5" cy="879.2" rx="2.356" ry="1.9" fill="#777" stroke="#222" stroke-width="1"/></g>
<path d="M 248.5 884.8 L 248.5 894.8" fill="none" stroke="#1c1c1c" stroke-width="1.20" />
<g><ellipse cx="279.2" cy="895.4" rx="3.8" ry="3.04" fill="#ddd" stroke="#222" stroke-width="1.3"/><ellipse cx="279.2" cy="893.2" rx="2.356" ry="1.9" fill="#777" stroke="#222" stroke-width="1"/></g>
<path d="M 279.2 898.8 L 279.2 907.3" fill="none" stroke="#1c1c1c" stroke-width="1.20" />
<g><ellipse cx="330.8" cy="918.9" rx="3.8" ry="3.04" fill="#ddd" stroke="#222" stroke-width="1.3"/><ellipse cx="330.8" cy="916.7" rx="2.356" ry="1.9" fill="#777" stroke="#222" stroke-width="1"/></g>
<path d="M 330.8 922.3 L 330.8 930.2" fill="none" stroke="#1c1c1c" stroke-width="1.20" />
<path d="M 280.8 863.5 L 251.7 878.1 M 295.4 867.7 L 280.8 891.7 M 311.0 867.7 L 329.8 914.6 M 187.1 876.0 L 205.8 911.5" fill="none" stroke="#1c1c1c" stroke-width="1.20" />
<path d="M 216.2 1060.4 L 221.5 1047.5 L 232.9 1049.6 L 251.7 1038.5 L 253.1 1027.5 L 265.2 1024.6 L 277.1 1015.2 L 290.8 1015.6 L 363.1 1077.1 L 368.3 1085.4 L 378.8 1083.3 L 399.6 1089.6 L 418.3 1085.4 L 430.8 1086.5 L 440.2 1092.7 L 430.8 1096.9 L 405.8 1096.9 L 389.2 1103.1 L 380.8 1099.0 L 368.3 1102.1 L 339.2 1114.6 L 337.1 1120.8 L 326.7 1123.3 L 320.4 1120.8 L 235.0 1080.2 L 222.5 1075.0 Z" fill="#fff" stroke="#1c1c1c" stroke-width="1.38" />
<path d="M 216.2 1060.4 L 221.5 1047.5 L 232.9 1049.6 L 231.9 1066.7 L 235.0 1080.2 L 222.5 1075.0 Z" fill="#e2e2e2" stroke="#1c1c1c" stroke-width="1.03" />
<path d="M 235.0 1080.2 L 239.2 1074.0 L 324.6 1115.6 L 320.4 1120.8 Z" fill="#ececec" stroke="#1c1c1c" stroke-width="1.03" />
<path d="M 232.9 1049.6 L 272.5 1033.3 L 277.1 1037.5 L 239.2 1055.2 M 253.1 1027.5 L 268.3 1031.2 L 290.8 1016.7 M 268.3 1031.2 L 272.5 1033.3 M 239.2 1055.2 L 243.3 1070.8 L 231.9 1066.7 M 243.3 1070.8 L 326.7 1110.4 L 337.1 1120.8 M 326.7 1110.4 L 332.9 1103.1 L 368.3 1085.4 M 239.2 1074.0 L 243.3 1070.8" fill="none" stroke="#1c1c1c" stroke-width="1.12" />
<path d="M 243.3 1056.2 L 270.4 1043.8 L 290.2 1055.2 L 260.0 1069.2 Z M 264.2 1074.0 L 295.4 1056.7 L 318.3 1069.2 L 282.9 1084.4 Z M 293.3 1091.7 L 330.8 1073.3 L 360.0 1087.9 L 326.7 1106.7 Z" fill="none" stroke="#1c1c1c" stroke-width="1.20" />
<path d="M 272.5 1033.3 L 363.1 1077.1 M 277.1 1037.5 L 318.3 1058.3 L 322.5 1066.7 M 290.2 1055.2 L 310.0 1064.6 L 318.3 1069.2 M 278.8 1085.0 Q 281.9 1080.2 287.1 1083.3 L 293.3 1091.7 M 282.9 1084.4 L 289.2 1091.7 M 330.8 1073.3 L 337.1 1070.8 L 360.0 1087.9 M 305.8 1070.8 L 312.1 1079.2 M 309.0 1068.8 L 315.2 1077.5" fill="none" stroke="#1c1c1c" stroke-width="0.95" />
<path d="M 335.0 1076.0 L 341.7 1074.0 L 356.2 1086.5 L 351.7 1089.6 Z" fill="#c4c4c4" stroke="#1c1c1c" stroke-width="0.86" />
<path d="M 368.3 1085.4 L 380.8 1092.7 L 399.6 1089.6 M 380.8 1092.7 L 389.2 1103.1 M 330.8 1107.3 L 337.1 1111.5 L 332.9 1117.7" fill="none" stroke="#1c1c1c" stroke-width="0.95" />
<ellipse cx="261.0" cy="1027.5" rx="1.7" ry="1.2" fill="none" stroke="#1c1c1c" stroke-width="0.86"/>
<ellipse cx="282.3" cy="1016.7" rx="1.7" ry="1.2" fill="none" stroke="#1c1c1c" stroke-width="0.86"/>
<ellipse cx="256.2" cy="1032.7" rx="1.7" ry="1.2" fill="none" stroke="#1c1c1c" stroke-width="0.86"/>
<ellipse cx="228.8" cy="1062.5" rx="1.7" ry="1.2" fill="none" stroke="#1c1c1c" stroke-width="0.86"/>
<ellipse cx="229.2" cy="1074.0" rx="1.7" ry="1.2" fill="none" stroke="#1c1c1c" stroke-width="0.86"/>
<ellipse cx="390.2" cy="1099.0" rx="1.7" ry="1.2" fill="none" stroke="#1c1c1c" stroke-width="0.86"/>
<ellipse cx="430.2" cy="1092.3" rx="1.7" ry="1.2" fill="none" stroke="#1c1c1c" stroke-width="0.86"/>
<ellipse cx="279.2" cy="1081.2" rx="1.7" ry="1.2" fill="none" stroke="#1c1c1c" stroke-width="0.86"/>
<ellipse cx="266.2" cy="1043.8" rx="1.7" ry="1.2" fill="none" stroke="#1c1c1c" stroke-width="0.86"/>
<ellipse cx="249.6" cy="1067.7" rx="3.3" ry="2.9" fill="#888" stroke="#1c1c1c" stroke-width="1.03"/>
<ellipse cx="332.5" cy="1110.0" rx="2.5" ry="2.9" fill="#888" stroke="#1c1c1c" stroke-width="0.95"/>
<path d="M 256.2 1050.0 L 256.2 1060.4" fill="none" stroke="#333" stroke-width="2.24" />
<path d="M 256.2 1094.8 L 256.2 1104.2" fill="none" stroke="#1c1c1c" stroke-width="1.89" />
<ellipse cx="255.8" cy="1110.4" rx="2.5" ry="2.5" fill="#222" stroke="#1c1c1c" stroke-width="0.86"/>
<ellipse cx="323.5" cy="1017.7" rx="2.5" ry="2.5" fill="#333" stroke="#1c1c1c" stroke-width="0.86"/>
<path d="M 322.1 1021.2 L 318.3 1030.4" fill="none" stroke="#1c1c1c" stroke-width="1.20" />
<circle cx="314.6" cy="1039.0" r="1.5" fill="#222"/>
<path d="M 275.6 1126.0 L 258.3 1112.9 M 380.8 1055.2 L 362.1 1077.1" fill="none" stroke="#1c1c1c" stroke-width="1.20" />
<path d="M 511.7 959.8 L 528.3 955.6 L 538.8 958.8 L 553.3 959.8 L 561.7 962.9 L 564.8 956.7 L 550.2 949.4 L 553.3 946.2 L 563.8 947.3 L 572.1 951.5 L 574.2 946.2 L 566.9 936.9 L 580.4 930.6 L 583.5 924.4 L 590.8 917.1 L 603.3 922.3 L 605.4 927.5 L 603.3 934.8 L 595.0 945.2 L 586.7 947.3 L 574.2 964.0 L 575.2 969.2 L 571.0 973.3 L 559.6 970.2 L 553.3 976.5 Z" fill="#fff" stroke="#1c1c1c" stroke-width="1.38" />
<path d="M 530.4 964.0 L 538.8 958.8 M 583.5 924.4 L 595.0 930.6 L 603.3 934.8 M 580.4 930.6 L 592.9 936.9 L 595.0 945.2 M 574.2 946.2 L 586.7 947.3 M 536.7 963.3 Q 542.9 959.8 548.8 965.4 M 539.8 967.5 Q 543.3 963.3 547.5 967.5 M 550.2 949.4 L 559.6 953.5 L 564.8 956.7" fill="none" stroke="#1c1c1c" stroke-width="0.95" />
<ellipse cx="525.2" cy="961.5" rx="1.9" ry="1.2" fill="none" stroke="#1c1c1c" stroke-width="0.86"/>
<ellipse cx="535.6" cy="967.1" rx="1.9" ry="1.2" fill="none" stroke="#1c1c1c" stroke-width="0.86"/>
<ellipse cx="567.5" cy="968.1" rx="1.9" ry="1.2" fill="none" stroke="#1c1c1c" stroke-width="0.86"/>
<ellipse cx="564.8" cy="952.5" rx="1.9" ry="1.2" fill="none" stroke="#1c1c1c" stroke-width="0.86"/>
<ellipse cx="556.5" cy="949.0" rx="1.9" ry="1.2" fill="none" stroke="#1c1c1c" stroke-width="0.86"/>
<ellipse cx="578.3" cy="936.2" rx="1.9" ry="1.2" fill="none" stroke="#1c1c1c" stroke-width="0.86"/>
<ellipse cx="589.2" cy="941.0" rx="1.9" ry="1.2" fill="none" stroke="#1c1c1c" stroke-width="0.86"/>
<ellipse cx="591.9" cy="922.3" rx="1.7" ry="2.3" fill="#888" stroke="#1c1c1c" stroke-width="0.86" transform="rotate(-20 591.9 922.3)"/>
<ellipse cx="601.2" cy="925.8" rx="1.7" ry="2.3" fill="#888" stroke="#1c1c1c" stroke-width="0.86" transform="rotate(-20 601.2 925.8)"/>
<ellipse cx="534.2" cy="938.3" rx="2.3" ry="2.3" fill="#444" stroke="#1c1c1c" stroke-width="0.86"/>
<path d="M 534.2 947.3 L 534.2 956.7 M 520.0 923.3 L 532.5 936.2 M 613.8 965.0 L 595.0 946.2" fill="none" stroke="#1c1c1c" stroke-width="1.20" />
<circle cx="534.2" cy="958.3" r="1.4" fill="#222"/>
<path d="M 798.8 948.3 Q 800.8 944.6 804.6 945.2 L 815.8 951.0 L 818.3 956.7 L 836.7 1047.9 L 835.0 1059.2 L 830.0 1062.9 L 820.0 1059.8 L 797.5 1023.3 L 789.8 1003.5 Z" fill="#fff" stroke="#1c1c1c" stroke-width="1.38" />
<path d="M 815.8 952.5 L 834.2 1048.3 L 830.0 1062.9" fill="none" stroke="#1c1c1c" stroke-width="0.95" />
<path d="M 805.4 973.3 L 813.8 983.8 L 811.7 994.2 L 807.5 999.4 L 803.3 992.1 L 803.3 977.5 Z" fill="none" stroke="#1c1c1c" stroke-width="1.20" />
<path d="M 805.8 976.5 L 811.7 984.8 L 810.0 993.8" fill="none" stroke="#1c1c1c" stroke-width="0.77" />
<ellipse cx="802.7" cy="951.9" rx="1.7" ry="2.1" fill="none" stroke="#1c1c1c" stroke-width="0.95" transform="rotate(-15 802.7 951.9)"/>
<ellipse cx="811.9" cy="957.1" rx="1.7" ry="2.1" fill="none" stroke="#1c1c1c" stroke-width="0.95" transform="rotate(-15 811.9 957.1)"/>
<ellipse cx="798.5" cy="971.7" rx="1.7" ry="2.1" fill="none" stroke="#1c1c1c" stroke-width="0.95" transform="rotate(-15 798.5 971.7)"/>
<ellipse cx="815.8" cy="976.0" rx="1.7" ry="2.1" fill="none" stroke="#1c1c1c" stroke-width="0.95" transform="rotate(-15 815.8 976.0)"/>
<ellipse cx="820.6" cy="995.8" rx="1.7" ry="2.1" fill="none" stroke="#1c1c1c" stroke-width="0.95" transform="rotate(-15 820.6 995.8)"/>
<ellipse cx="828.8" cy="1050.4" rx="1.7" ry="2.1" fill="none" stroke="#1c1c1c" stroke-width="0.95" transform="rotate(-15 828.8 1050.4)"/>
<ellipse cx="795.0" cy="983.8" rx="2.3" ry="2.9" fill="#aaa" stroke="#1c1c1c" stroke-width="1.03" transform="rotate(-15 795.0 983.8)"/>
<ellipse cx="824.2" cy="1054.6" rx="2.1" ry="2.9" fill="none" stroke="#1c1c1c" stroke-width="0.95" transform="rotate(-25 824.2 1054.6)"/>
<path d="M 763.8 1015.0 L 790.8 1003.5 L 824.2 1012.9 L 827.5 1015.0 L 807.5 1023.3 L 767.9 1020.2 L 763.8 1017.5 Z" fill="#fff" stroke="#1c1c1c" stroke-width="1.29" />
<path d="M 778.3 1015.0 L 788.8 1009.8 L 803.3 1010.8 L 795.0 1017.1 Z M 790.8 1010.8 L 797.1 1016.7" fill="none" stroke="#1c1c1c" stroke-width="1.03" />
<path d="M 767.9 1020.2 L 768.3 1023.3 L 807.5 1026.5 L 827.5 1017.5 M 799.2 1026.5 L 820.0 1040.0 L 822.1 1039.0 L 811.7 1024.4 M 803.3 1026.5 L 818.3 1035.8" fill="none" stroke="#1c1c1c" stroke-width="0.95" />
<path d="M 820.0 1012.9 L 828.3 1012.5 L 836.7 1047.9" fill="none" stroke="#1c1c1c" stroke-width="0.86" />
<ellipse cx="782.5" cy="1006.2" rx="1.9" ry="1.2" fill="#aaa" stroke="#1c1c1c" stroke-width="0.86"/>
<ellipse cx="801.2" cy="1011.9" rx="1.9" ry="1.2" fill="#aaa" stroke="#1c1c1c" stroke-width="0.86"/>
<ellipse cx="807.5" cy="1020.2" rx="1.9" ry="1.2" fill="#aaa" stroke="#1c1c1c" stroke-width="0.86"/>
<ellipse cx="770.0" cy="1015.0" rx="1.9" ry="1.2" fill="#aaa" stroke="#1c1c1c" stroke-width="0.86"/>
<g><ellipse cx="765.8" cy="976.6" rx="3.8" ry="3.04" fill="#ddd" stroke="#222" stroke-width="1.3"/><ellipse cx="765.8" cy="974.4" rx="2.356" ry="1.9" fill="#777" stroke="#222" stroke-width="1"/></g>
<path d="M 765.8 979.2 L 766.7 983.8" fill="none" stroke="#1c1c1c" stroke-width="1.89" />
<path d="M 767.1 984.8 L 770.0 1015.0" fill="none" stroke="#1c1c1c" stroke-width="1.20" stroke-dasharray="8 5"/>
<g><ellipse cx="863.3" cy="972.0" rx="4.2" ry="3.36" fill="#ddd" stroke="#222" stroke-width="1.3"/><ellipse cx="863.3" cy="969.8" rx="2.604" ry="2.1" fill="#777" stroke="#222" stroke-width="1"/></g>
<path d="M 826.2 992.1 L 859.6 973.3" fill="none" stroke="#1c1c1c" stroke-width="1.20" stroke-dasharray="11 6"/>
<path d="M 770.0 930.6 L 766.2 972.3 M 804.4 919.2 L 861.7 968.1 M 889.8 1035.8 L 828.3 1014.0" fill="none" stroke="#1c1c1c" stroke-width="1.20" />
<path d="M 751.2 1036.9 L 755.4 1031.7 L 762.7 1025.4 L 794.0 1031.2 L 776.2 1040.0 L 761.7 1042.1 Z" fill="#fff" stroke="#1c1c1c" stroke-width="1.29" />
<path d="M 762.7 1025.4 L 761.7 1035.8 L 776.2 1040.0 M 761.7 1035.8 L 751.2 1036.9 M 767.9 1031.7 L 786.7 1033.8 M 765.8 1035.8 L 782.5 1030.6" fill="none" stroke="#1c1c1c" stroke-width="0.86" />
<ellipse cx="758.5" cy="1035.8" rx="1.5" ry="1.0" fill="none" stroke="#1c1c1c" stroke-width="0.86"/>
<ellipse cx="773.1" cy="1028.5" rx="1.5" ry="1.0" fill="none" stroke="#1c1c1c" stroke-width="0.86"/>
<path d="M 771.0 1023.3 L 771.0 1039.0" fill="none" stroke="#1c1c1c" stroke-width="1.38" />
<path d="M 737.7 1027.9 L 755.4 1033.3" fill="none" stroke="#1c1c1c" stroke-width="1.20" />
<g><ellipse cx="813.3" cy="1073.5" rx="3.8" ry="3.04" fill="#ddd" stroke="#222" stroke-width="1.3"/><ellipse cx="813.3" cy="1071.3" rx="2.356" ry="1.9" fill="#777" stroke="#222" stroke-width="1"/></g>
<path d="M 813.3 1076.5 L 813.3 1086.9 M 790.8 1066.0 L 810.6 1075.0" fill="none" stroke="#1c1c1c" stroke-width="1.20" />
<path d="M 638.8 1116.0 L 662.7 1074.4" fill="none" stroke="#1c1c1c" stroke-width="1.20" />
</g>
<g id="60_lowerright">
<path d="M 938.3 1097.5 Q 940.0 1083.3 953.3 1070.0 Q 970.0 1060.0 993.3 1056.3 L 998.3 1055.8 L 1020.0 1063.3 L 1078.3 1095.0 L 1080.0 1100.0 L 1095.0 1107.5 L 1096.7 1105.8 L 1225.0 1175.0 L 1243.3 1185.8 L 1280.0 1204.2 L 1280.8 1208.3 L 1267.5 1216.7 L 1253.3 1214.2 L 998.3 1078.3 Q 990.0 1074.2 976.7 1073.3 Q 961.7 1076.7 950.8 1090.0 L 946.7 1101.7 Z" fill="#fff" stroke="#1c1c1c" stroke-width="1.46" />
<path d="M 948.3 1100.0 L 958.3 1093.3 L 964.2 1081.7 L 960.8 1079.2 Q 953.3 1086.7 951.7 1090.0 Z" fill="#cdcdcd" stroke="#1c1c1c" stroke-width="0.86" />
<path d="M 1013.3 1067.5 L 1066.7 1095.8 M 1023.3 1070.0 L 1075.0 1097.5 M 1096.7 1110.0 L 1220.0 1176.7 M 1086.7 1113.3 L 1253.3 1200.8 M 1103.3 1110.0 L 1223.3 1175.0 M 1243.3 1185.8 L 1270.0 1200.8 M 1267.5 1216.7 L 1268.3 1211.7 L 1280.0 1205.0 M 1253.3 1200.8 L 1268.3 1211.7 M 970.0 1061.7 Q 976.7 1064.2 981.7 1060.8 L 993.3 1056.3 M 1061.7 1098.3 L 1061.7 1110.8 M 1078.3 1095.0 L 1066.7 1103.3 L 1080.0 1110.0 M 1080.0 1100.0 L 1086.7 1113.3" fill="none" stroke="#1c1c1c" stroke-width="0.95" />
<path d="M 1022.5 1079.2 L 1030.0 1072.5 L 1031.7 1082.5 Z" fill="#c4c4c4" stroke="#1c1c1c" stroke-width="0.86" />
<path d="M 1088.3 1115.0 L 1095.8 1108.3 L 1097.5 1118.3 Z" fill="#c4c4c4" stroke="#1c1c1c" stroke-width="0.86" />
<path d="M 1170.8 1159.2 L 1178.3 1152.5 L 1180.0 1162.5 Z" fill="#c4c4c4" stroke="#1c1c1c" stroke-width="0.86" />
<path d="M 1242.5 1199.2 L 1250.0 1192.5 L 1251.7 1202.5 Z" fill="#c4c4c4" stroke="#1c1c1c" stroke-width="0.86" />
<path d="M 1001.7 1066.3 L 1012.5 1065.5 L 1015.0 1075.5 L 1009.2 1077.2 Z" fill="#e0e0e0" stroke="#1c1c1c" stroke-width="0.86" />
<ellipse cx="1006.7" cy="1064.7" rx="5.3" ry="3.7" fill="#ddd" stroke="#1c1c1c" stroke-width="1.20" transform="rotate(15 1006.7 1064.7)"/>
<ellipse cx="1006.7" cy="1064.3" rx="3.0" ry="2.0" fill="#333" stroke="#1c1c1c" stroke-width="0.86" transform="rotate(15 1006.7 1064.3)"/>
<path d="M 1048.3 1091.7 L 1059.2 1090.8 L 1061.7 1100.8 L 1055.8 1102.5 Z" fill="#e0e0e0" stroke="#1c1c1c" stroke-width="0.86" />
<ellipse cx="1053.3" cy="1090.0" rx="5.3" ry="3.7" fill="#ddd" stroke="#1c1c1c" stroke-width="1.20" transform="rotate(15 1053.3 1090.0)"/>
<ellipse cx="1053.3" cy="1089.7" rx="3.0" ry="2.0" fill="#333" stroke="#1c1c1c" stroke-width="0.86" transform="rotate(15 1053.3 1089.7)"/>
<path d="M 1129.2 1133.7 L 1140.0 1132.8 L 1142.5 1142.8 L 1136.7 1144.5 Z" fill="#e0e0e0" stroke="#1c1c1c" stroke-width="0.86" />
<ellipse cx="1134.2" cy="1132.0" rx="5.3" ry="3.7" fill="#ddd" stroke="#1c1c1c" stroke-width="1.20" transform="rotate(15 1134.2 1132.0)"/>
<ellipse cx="1134.2" cy="1131.7" rx="3.0" ry="2.0" fill="#333" stroke="#1c1c1c" stroke-width="0.86" transform="rotate(15 1134.2 1131.7)"/>
<path d="M 1211.7 1178.7 L 1222.5 1177.8 L 1225.0 1187.8 L 1219.2 1189.5 Z" fill="#e0e0e0" stroke="#1c1c1c" stroke-width="0.86" />
<ellipse cx="1216.7" cy="1177.0" rx="5.3" ry="3.7" fill="#ddd" stroke="#1c1c1c" stroke-width="1.20" transform="rotate(15 1216.7 1177.0)"/>
<ellipse cx="1216.7" cy="1176.7" rx="3.0" ry="2.0" fill="#333" stroke="#1c1c1c" stroke-width="0.86" transform="rotate(15 1216.7 1176.7)"/>
<path d="M 1067.5 1100.0 L 1075.0 1095.8 L 1080.0 1101.7 L 1072.5 1106.7 Z M 1070.0 1100.8 L 1071.7 1106.7 M 1072.5 1099.2 L 1074.2 1105.0 M 1075.0 1098.0 L 1076.7 1103.3" fill="none" stroke="#1c1c1c" stroke-width="1.03" />
<path d="M 1040.0 1046.7 L 1030.8 1070.8" fill="none" stroke="#1c1c1c" stroke-width="1.20" />
<path d="M 1218.3 1196.7 L 1219.2 1270.0" fill="none" stroke="#1c1c1c" stroke-width="1.20" stroke-dasharray="11 6"/>
<ellipse cx="1220.0" cy="1273.0" rx="2.2" ry="2.2" fill="#111" stroke="#1c1c1c" stroke-width="0.86"/>
<ellipse cx="1220.3" cy="1278.0" rx="2.7" ry="1.5" fill="#ddd" stroke="#1c1c1c" stroke-width="0.95"/>
<path d="M 1218.3 1280.0 L 1205.8 1290.8" fill="none" stroke="#1c1c1c" stroke-width="1.20" />
<path d="M 1761.3 1061.7 L 1767.1 1057.8 L 2045.5 1173.0 Q 2053.3 1177.0 2061.1 1177.9 L 2096.2 1172.1 L 2104.1 1172.1 L 2115.8 1180.9 L 2119.7 1190.6 L 2118.7 1202.3 L 2100.2 1216.0 L 1992.7 1274.6 L 1943.9 1296.1 L 1897.0 1311.7 L 1865.8 1320.5 L 1838.4 1325.4 L 1830.6 1327.3 L 1818.9 1323.4 L 1826.7 1305.9 L 1836.5 1307.8 L 1861.9 1303.9 L 1893.1 1296.1 L 1932.2 1281.4 L 1983.0 1260.0 L 2088.4 1200.4 L 2098.2 1189.6 L 2090.4 1193.6 L 2072.8 1196.5 L 2055.2 1197.5 L 2041.6 1192.6 L 1768.1 1082.2 L 1760.3 1075.4 Z" fill="#fff" stroke="#1c1c1c" stroke-width="1.38" />
<path d="M 2118.7 1192.6 L 2100.2 1206.2 L 1992.7 1264.8 L 1943.9 1286.3 L 1897.0 1302.0 L 1865.8 1310.7 L 1838.4 1316.6 L 1824.8 1315.6 L 1818.9 1323.4 L 1830.6 1327.3 L 1838.4 1325.4 L 1865.8 1320.5 L 1897.0 1311.7 L 1943.9 1296.1 L 1992.7 1274.6 L 2100.2 1216.0 L 2118.7 1202.3 Z" fill="#d9d9d9" stroke="#1c1c1c" stroke-width="0.86" />
<path d="M 1767.1 1060.7 L 2047.4 1176.0 Q 2055.2 1180.5 2063.0 1180.5 L 2090.4 1175.0 M 1761.3 1064.1 L 2043.5 1178.9 Q 2053.3 1183.2 2061.1 1182.8 M 2090.4 1175.0 L 2102.1 1177.0 L 2109.9 1184.8 M 2088.4 1175.0 L 2098.2 1206.2 M 2098.2 1189.6 L 2104.1 1198.4" fill="none" stroke="#1c1c1c" stroke-width="0.95" />
<path d="M 2109.9 1184.8 L 2096.2 1197.5 L 1986.9 1257.0 L 1936.1 1278.9 L 1895.1 1293.2 L 1863.8 1301.0 L 1836.5 1304.9" fill="none" stroke="#1c1c1c" stroke-width="0.86" />
<path d="M 1983.4 1255.1 L 1992.7 1274.6" fill="none" stroke="#1c1c1c" stroke-width="0.86" />
<path d="M 1930.6 1276.6 L 1938.0 1299.0" fill="none" stroke="#1c1c1c" stroke-width="0.86" />
<path d="M 1891.6 1291.2 L 1898.0 1311.7" fill="none" stroke="#1c1c1c" stroke-width="0.86" />
<path d="M 1860.3 1299.0 L 1867.7 1320.5" fill="none" stroke="#1c1c1c" stroke-width="0.86" />
<path d="M 1833.0 1302.9 L 1838.4 1325.4" fill="none" stroke="#1c1c1c" stroke-width="0.86" />
<path d="M 1817.7 1302.9 L 1817.0 1321.9" fill="none" stroke="#1c1c1c" stroke-width="0.86" />
<ellipse cx="1765.8" cy="1075.4" rx="5.9" ry="6.6" fill="#ddd" stroke="#1c1c1c" stroke-width="1.20" transform="rotate(-25 1765.8 1075.4)"/>
<ellipse cx="1765.4" cy="1075.8" rx="2.7" ry="3.1" fill="#222" stroke="#1c1c1c" stroke-width="0.86" transform="rotate(-25 1765.4 1075.8)"/>
<ellipse cx="1829.6" cy="1099.4" rx="5.9" ry="6.6" fill="#ddd" stroke="#1c1c1c" stroke-width="1.20" transform="rotate(-25 1829.6 1099.4)"/>
<ellipse cx="1829.3" cy="1099.8" rx="2.7" ry="3.1" fill="#222" stroke="#1c1c1c" stroke-width="0.86" transform="rotate(-25 1829.3 1099.8)"/>
<ellipse cx="1895.1" cy="1126.2" rx="5.9" ry="6.6" fill="#ddd" stroke="#1c1c1c" stroke-width="1.20" transform="rotate(-25 1895.1 1126.2)"/>
<ellipse cx="1894.7" cy="1126.6" rx="2.7" ry="3.1" fill="#222" stroke="#1c1c1c" stroke-width="0.86" transform="rotate(-25 1894.7 1126.6)"/>
<ellipse cx="2036.7" cy="1184.8" rx="5.9" ry="6.6" fill="#ddd" stroke="#1c1c1c" stroke-width="1.20" transform="rotate(-25 2036.7 1184.8)"/>
<ellipse cx="2036.3" cy="1185.2" rx="2.7" ry="3.1" fill="#222" stroke="#1c1c1c" stroke-width="0.86" transform="rotate(-25 2036.3 1185.2)"/>
<ellipse cx="2064.0" cy="1189.6" rx="5.9" ry="6.6" fill="#ddd" stroke="#1c1c1c" stroke-width="1.20" transform="rotate(-25 2064.0 1189.6)"/>
<ellipse cx="2063.6" cy="1190.0" rx="2.7" ry="3.1" fill="#222" stroke="#1c1c1c" stroke-width="0.86" transform="rotate(-25 2063.6 1190.0)"/>
<path d="M 1531.0 1188.5 L 1540.0 1186.5 L 1543.3 1187.5 L 1826.7 1307.0 L 1811.2 1323.2 L 1536.0 1208.0 L 1532.5 1201.0 Z" fill="#fff" stroke="#1c1c1c" stroke-width="1.12" />
<path d="M 1536.7 1204.5 L 1812.3 1320.7" fill="none" stroke="#c9c9c9" stroke-width="3.78" stroke-linecap="butt"/>
<path d="M 1543.3 1187.5 L 1826.7 1307.0" fill="none" stroke="#1c1c1c" stroke-width="1.89" />
<path d="M 1542.0 1190.5 L 1825.4 1310.0 M 1541.0 1192.9 L 1824.4 1312.4 M 1537.2 1201.9 L 1815.1 1319.0 M 1535.1 1206.9 L 1811.2 1323.2" fill="none" stroke="#1c1c1c" stroke-width="0.86" />
<path d="M 1531.0 1188.5 L 1535.8 1191.0 L 1536.7 1207.5 M 1535.8 1191.0 L 1543.3 1187.5" fill="none" stroke="#1c1c1c" stroke-width="0.95" />
<ellipse cx="1575.0" cy="1185.8" rx="5.0" ry="7.7" fill="#fff" stroke="#1c1c1c" stroke-width="1.20" transform="rotate(-25 1575.0 1185.8)"/>
<ellipse cx="1574.7" cy="1186.3" rx="1.2" ry="1.7" fill="#333" stroke="#1c1c1c" stroke-width="0.86" transform="rotate(-25 1574.7 1186.3)"/>
<path d="M 1604.2 1170.0 L 1613.3 1164.7" fill="none" stroke="#444" stroke-width="3.96" />
<path d="M 1604.2 1170.0 L 1613.0 1165.0" fill="none" stroke="#eee" stroke-width="1.89" />
<ellipse cx="1614.2" cy="1164.2" rx="2.7" ry="4.3" fill="#fff" stroke="#1c1c1c" stroke-width="1.20" transform="rotate(-25 1614.2 1164.2)"/>
<path d="M 1600.0 1172.0 L 1583.3 1181.0" fill="none" stroke="#1c1c1c" stroke-width="1.20" stroke-dasharray="11 7"/>
<path d="M 1571.7 1188.3 L 1558.3 1195.3" fill="none" stroke="#1c1c1c" stroke-width="1.20" stroke-dasharray="11 7"/>
<path d="M 1598.3 1135.8 L 1610.8 1160.0 M 1558.7 1158.0 L 1571.3 1180.0 M 1735.8 1065.0 L 1731.7 1089.2 M 1702.5 1218.3 L 1687.5 1248.3" fill="none" stroke="#1c1c1c" stroke-width="1.20" />
<path d="M 1717.5 1047.0 L 1731.7 1042.5 L 1749.2 1051.7 L 1750.0 1063.3 L 1745.0 1066.7 L 1728.7 1063.3 L 1718.3 1055.3 Z" fill="#ddd" stroke="#1c1c1c" stroke-width="1.72" />
<path d="M 1724.2 1050.0 L 1733.3 1047.5 L 1745.0 1054.2 L 1745.8 1063.3 M 1724.2 1050.0 L 1725.0 1057.5 L 1728.7 1063.3 M 1725.0 1057.5 L 1732.5 1055.8 L 1733.3 1047.5 M 1736.7 1049.2 L 1737.5 1056.7 M 1740.0 1050.8 L 1740.8 1057.5 M 1742.5 1052.5 L 1743.3 1059.2" fill="none" stroke="#1c1c1c" stroke-width="1.03" />
<path d="M 1725.3 1050.8 L 1732.5 1049.2 L 1732.2 1055.8 L 1725.3 1057.2 Z" fill="#aaa" stroke="#1c1c1c" stroke-width="0.69" />
<path d="M 1750.0 1060.0 L 1755.8 1063.0" fill="none" stroke="#1c1c1c" stroke-width="1.20" stroke-dasharray="9 6"/>
<path d="M 1808.3 935.3 L 1818.3 924.2 L 1834.2 915.0 L 2005.8 821.7 L 2013.3 826.7 L 2013.3 831.3 L 1811.7 947.0 L 1808.3 949.2 Z" fill="#cdcdcd" stroke="#1c1c1c" stroke-width="1.29" />
<path d="M 1811.7 943.7 L 2013.3 828.3" fill="none" stroke="#1c1c1c" stroke-width="0.95" />
<path d="M 1808.3 935.0 L 1805.0 931.7 L 1800.3 922.5 L 1798.3 921.7 L 1803.3 917.7 L 1811.7 917.5 L 1815.0 921.7 L 1818.3 922.7 L 1830.0 915.0 L 1833.3 911.7 L 1825.0 905.0 L 1830.0 900.0 L 1885.0 870.0 L 1896.7 872.7 L 1900.0 871.7 L 1903.3 864.3 L 1900.0 861.7 L 1903.3 859.2 L 1960.0 825.8 L 1973.3 831.0 L 1976.7 827.5 L 1978.3 816.7 L 1985.0 811.7 L 1996.7 816.7 L 2003.3 815.8 L 2005.8 821.7 L 1834.2 915.0 L 1818.3 924.2 L 1808.3 935.3 Z" fill="#fff" stroke="#1c1c1c" stroke-width="1.29" />
<path d="M 1833.3 911.7 L 1896.7 872.7 M 1903.3 864.3 L 1973.3 831.0 M 1815.0 921.7 L 1813.3 931.7" fill="none" stroke="#1c1c1c" stroke-width="0.95" />
<path d="M 1832.5 886.7 L 1836.7 882.5 Q 1843.3 879.2 1850.0 881.7 L 1855.0 886.7 L 1850.0 890.0 L 1845.0 885.8 L 1840.0 888.3 L 1842.5 894.2" fill="#fff" stroke="#1c1c1c" stroke-width="1.20" />
<path d="M 1924.2 831.7 L 1928.3 827.5 Q 1935.0 824.2 1941.7 826.7 L 1946.7 831.7 L 1941.7 835.0 L 1936.7 830.8 L 1931.7 833.3 L 1934.2 839.2" fill="#fff" stroke="#1c1c1c" stroke-width="1.20" />
<path d="M 1763.3 945.0 L 1766.7 941.7 L 1786.7 932.5 L 1795.0 932.5 L 1800.0 935.8 L 1804.2 931.7 L 1808.3 935.0 L 1808.3 949.2 L 1796.7 950.8 L 1786.7 955.8 L 1770.8 957.5 L 1764.2 951.7 Z" fill="#fff" stroke="#1c1c1c" stroke-width="1.29" />
<path d="M 1770.8 939.7 L 1790.8 950.8 L 1786.7 955.8 M 1766.7 941.7 L 1770.8 939.7" fill="none" stroke="#1c1c1c" stroke-width="1.03" />
<ellipse cx="1775.3" cy="948.3" rx="1.7" ry="2.5" fill="none" stroke="#1c1c1c" stroke-width="0.95" transform="rotate(-25 1775.3 948.3)"/>
<circle cx="1768.3" cy="950.0" r="1.4" fill="#222"/>
<ellipse cx="1805.0" cy="939.7" rx="3.7" ry="4.3" fill="#bbb" stroke="#1c1c1c" stroke-width="1.12"/>
<ellipse cx="1805.0" cy="939.7" rx="1.8" ry="2.2" fill="#eee" stroke="#1c1c1c" stroke-width="0.86"/>
<ellipse cx="1853.3" cy="910.8" rx="6.0" ry="7.7" fill="#fff" stroke="#1c1c1c" stroke-width="1.20" transform="rotate(-28 1853.3 910.8)"/>
<ellipse cx="1961.7" cy="846.7" rx="6.0" ry="7.7" fill="#fff" stroke="#1c1c1c" stroke-width="1.20" transform="rotate(-28 1961.7 846.7)"/>
<ellipse cx="1820.5" cy="930.8" rx="1.3" ry="1.7" fill="none" stroke="#1c1c1c" stroke-width="0.86" transform="rotate(-20 1820.5 930.8)"/>
<ellipse cx="1812.8" cy="939.2" rx="1.3" ry="1.7" fill="none" stroke="#1c1c1c" stroke-width="0.86" transform="rotate(-20 1812.8 939.2)"/>
<ellipse cx="1861.7" cy="903.7" rx="1.3" ry="1.7" fill="none" stroke="#1c1c1c" stroke-width="0.86" transform="rotate(-20 1861.7 903.7)"/>
<ellipse cx="1887.0" cy="892.2" rx="1.3" ry="1.7" fill="none" stroke="#1c1c1c" stroke-width="0.86" transform="rotate(-20 1887.0 892.2)"/>
<ellipse cx="1905.8" cy="877.8" rx="1.3" ry="1.7" fill="none" stroke="#1c1c1c" stroke-width="0.86" transform="rotate(-20 1905.8 877.8)"/>
<ellipse cx="1927.2" cy="868.7" rx="1.3" ry="1.7" fill="none" stroke="#1c1c1c" stroke-width="0.86" transform="rotate(-20 1927.2 868.7)"/>
<ellipse cx="1950.0" cy="852.5" rx="1.3" ry="1.7" fill="none" stroke="#1c1c1c" stroke-width="0.86" transform="rotate(-20 1950.0 852.5)"/>
<ellipse cx="1993.7" cy="830.5" rx="1.3" ry="1.7" fill="none" stroke="#1c1c1c" stroke-width="0.86" transform="rotate(-20 1993.7 830.5)"/>
<ellipse cx="2004.2" cy="828.3" rx="1.5" ry="2.0" fill="#555" stroke="#1c1c1c" stroke-width="0.86"/>
<ellipse cx="1807.0" cy="920.3" rx="1.8" ry="1.2" fill="#ddd" stroke="#1c1c1c" stroke-width="0.86" transform="rotate(-20 1807.0 920.3)"/>
<ellipse cx="1840.8" cy="899.5" rx="1.8" ry="1.2" fill="#ddd" stroke="#1c1c1c" stroke-width="0.86" transform="rotate(-20 1840.8 899.5)"/>
<ellipse cx="1905.8" cy="862.5" rx="1.8" ry="1.2" fill="#ddd" stroke="#1c1c1c" stroke-width="0.86" transform="rotate(-20 1905.8 862.5)"/>
<ellipse cx="1962.2" cy="829.5" rx="1.8" ry="1.2" fill="#ddd" stroke="#1c1c1c" stroke-width="0.86" transform="rotate(-20 1962.2 829.5)"/>
<ellipse cx="1952.5" cy="834.2" rx="1.8" ry="1.2" fill="#ddd" stroke="#1c1c1c" stroke-width="0.86" transform="rotate(-20 1952.5 834.2)"/>
<path d="M 1980.0 818.3 L 1985.0 814.2 L 1988.3 816.7 L 1985.0 820.8 Z" fill="none" stroke="#1c1c1c" stroke-width="0.95" />
<g><ellipse cx="1831.7" cy="877.0" rx="3.8" ry="3.04" fill="#ddd" stroke="#222" stroke-width="1.3"/><ellipse cx="1831.7" cy="874.8" rx="2.356" ry="1.9" fill="#777" stroke="#222" stroke-width="1"/></g>
<path d="M 1832.0 883.3 L 1832.0 903.3" fill="none" stroke="#1c1c1c" stroke-width="1.38" />
<g><ellipse cx="1888.0" cy="843.7" rx="3.8" ry="3.04" fill="#ddd" stroke="#222" stroke-width="1.3"/><ellipse cx="1888.0" cy="841.5" rx="2.356" ry="1.9" fill="#777" stroke="#222" stroke-width="1"/></g>
<path d="M 1888.0 850.0 L 1888.0 870.0" fill="none" stroke="#1c1c1c" stroke-width="1.20" stroke-dasharray="9 6"/>
<circle cx="1888.0" cy="872.0" r="1.4" fill="#222"/>
<circle cx="1832.0" cy="904.7" r="1.4" fill="#222"/>
<g><ellipse cx="1747.0" cy="962.4" rx="3.8" ry="3.04" fill="#ddd" stroke="#222" stroke-width="1.3"/><ellipse cx="1747.0" cy="960.2" rx="2.356" ry="1.9" fill="#777" stroke="#222" stroke-width="1"/></g>
<path d="M 1753.3 958.3 L 1766.7 950.8" fill="none" stroke="#1c1c1c" stroke-width="1.20" stroke-dasharray="10 6"/>
<path d="M 1835.8 849.2 L 1832.0 872.5 M 1868.0 837.0 L 1885.3 841.7 M 1733.3 976.3 L 1745.8 963.3 M 1789.2 985.0 L 1788.0 956.7" fill="none" stroke="#1c1c1c" stroke-width="1.20" />
</g>
<g id="80_labels">
<text x="752.4" y="100.1" font-size="17.5">10</text>
<text x="306.0" y="315.1" font-size="17.5">425</text>
<text x="223.5" y="350.1" font-size="17.5">10ad</text>
<text x="175.5" y="509.2" font-size="17.5">10aj</text>
<text x="212.7" y="545.1" font-size="17.5">10ak</text>
<text x="1346.4" y="58.4" font-size="17.5">10ac</text>
<text x="1375.5" y="147.1" font-size="17.5">230</text>
<text x="1426.4" y="175.1" font-size="17.5">10n</text>
<text x="1491.7" y="176.7" font-size="17.5">10an</text>
<text x="1336.4" y="215.6" font-size="17.5">10aj</text>
<text x="1401.4" y="297.6" font-size="17.5">10an</text>
<text x="931.0" y="296.7" font-size="17.5">20</text>
<text x="881.4" y="376.7" font-size="17.5">10y</text>
<text x="1105.5" y="347.6" font-size="17.5">10b2</text>
<text x="533.0" y="451.6" font-size="17.5">430</text>
<text x="650.4" y="455.9" font-size="17.5">10an</text>
<text x="619.0" y="480.9" font-size="17.5">10aa</text>
<text x="748.0" y="485.9" font-size="17.5">10ak</text>
<text x="260.4" y="577.9" font-size="17.5">10p</text>
<text x="318.0" y="572.2" font-size="17.5">10an</text>
<text x="490.4" y="546.2" font-size="17.5">3040</text>
<text x="544.7" y="560.2" font-size="17.5">10aa</text>
<text x="968.0" y="618.4" font-size="17.5">10an</text>
<text x="621.4" y="760.1" font-size="17.5">10ak</text>
<text x="392.2" y="811.9" font-size="17.5">10ak</text>
<text x="537.2" y="886.7" font-size="17.5">10an</text>
<text x="662.2" y="902.6" font-size="17.5">10aj</text>
<text x="705.0" y="885.1" font-size="17.5">10an</text>
<text x="753.0" y="869.2" font-size="17.5">10h</text>
<text x="801.4" y="842.6" font-size="17.5">10q</text>
<text x="801.4" y="865.1" font-size="17.5">10r</text>
<text x="886.0" y="869.2" font-size="17.5">10ak</text>
<text x="1307.2" y="799.2" font-size="17.5">10an</text>
<text x="1459.4" y="880.9" font-size="17.5">10ap</text>
<text x="160.7" y="871.7" font-size="17.5">10an</text>
<text x="285.7" y="863.4" font-size="17.5">10an</text>
<text x="479.1" y="920.1" font-size="17.5">10ak</text>
<text x="619.3" y="972.2" font-size="17.5">10u</text>
<text x="619.3" y="994.0" font-size="17.5">10v</text>
<text x="761.4" y="923.2" font-size="17.5">10ap</text>
<text x="701.4" y="1024.2" font-size="17.5">10w</text>
<text x="701.4" y="1046.1" font-size="17.5">10x</text>
<text x="765.1" y="1060.7" font-size="17.5">10aq</text>
<text x="895.7" y="1043.0" font-size="17.5">10k</text>
<text x="895.7" y="1064.9" font-size="17.5">10m</text>
<text x="599.9" y="1113.8" font-size="17.5">10t</text>
<text x="599.9" y="1135.7" font-size="17.5">10s</text>
<text x="384.3" y="1042.6" font-size="17.5">10g</text>
<text x="384.3" y="1064.4" font-size="17.5">10c</text>
<text x="273.9" y="1145.7" font-size="17.5">10ak</text>
<text x="1025.0" y="1042.6" font-size="17.5">1700</text>
<text x="1167.7" y="1316.6" font-size="17.5">1710</text>
<text x="1818.4" y="841.7" font-size="17.5">10aj</text>
<text x="1690.5" y="990.1" font-size="17.5">10ak</text>
<text x="1773.9" y="1006.7" font-size="17.5">10ab</text>
<text x="1699.7" y="1110.9" font-size="17.5">1300b</text>
<text x="1565.0" y="1127.6" font-size="17.5">1510</text>
<text x="1525.5" y="1149.2" font-size="17.5">1520</text>
<text x="1682.7" y="1213.4" font-size="17.5">1300</text>
<text x="36" y="1494.5" font-size="20.8">42MC049</text>
</g>
<g id="90_wm">
<g transform="translate(257.8 267.6) rotate(-13.2)"><text class="wm1" x="0" y="-40" textLength="93" lengthAdjust="spacingAndGlyphs">vNext</text><text class="wm1" x="0" y="0" textLength="200" lengthAdjust="spacingAndGlyphs">Technologies</text></g>
<text class="wm2" transform="translate(184.5 236.8) rotate(9.8)" textLength="144" lengthAdjust="spacingAndGlyphs">vNext Technologies</text>
<g transform="translate(772.1 267.6) rotate(-13.2)"><text class="wm1" x="0" y="-40" textLength="93" lengthAdjust="spacingAndGlyphs">vNext</text><text class="wm1" x="0" y="0" textLength="200" lengthAdjust="spacingAndGlyphs">Technologies</text></g>
<text class="wm2" transform="translate(698.8 236.8) rotate(9.8)" textLength="144" lengthAdjust="spacingAndGlyphs">vNext Technologies</text>
<g transform="translate(1286.4 267.6) rotate(-13.2)"><text class="wm1" x="0" y="-40" textLength="93" lengthAdjust="spacingAndGlyphs">vNext</text><text class="wm1" x="0" y="0" textLength="200" lengthAdjust="spacingAndGlyphs">Technologies</text></g>
<text class="wm2" transform="translate(1213.1 236.8) rotate(9.8)" textLength="144" lengthAdjust="spacingAndGlyphs">vNext Technologies</text>
<g transform="translate(1800.7 267.6) rotate(-13.2)"><text class="wm1" x="0" y="-40" textLength="93" lengthAdjust="spacingAndGlyphs">vNext</text><text class="wm1" x="0" y="0" textLength="200" lengthAdjust="spacingAndGlyphs">Technologies</text></g>
<text class="wm2" transform="translate(1727.4 236.8) rotate(9.8)" textLength="144" lengthAdjust="spacingAndGlyphs">vNext Technologies</text>
<g transform="translate(2315.0 267.6) rotate(-13.2)"><text class="wm1" x="0" y="-40" textLength="93" lengthAdjust="spacingAndGlyphs">vNext</text><text class="wm1" x="0" y="0" textLength="200" lengthAdjust="spacingAndGlyphs">Technologies</text></g>
<text class="wm2" transform="translate(2241.7 236.8) rotate(9.8)" textLength="144" lengthAdjust="spacingAndGlyphs">vNext Technologies</text>
<g transform="translate(257.8 782.6) rotate(-13.2)"><text class="wm1" x="0" y="-40" textLength="93" lengthAdjust="spacingAndGlyphs">vNext</text><text class="wm1" x="0" y="0" textLength="200" lengthAdjust="spacingAndGlyphs">Technologies</text></g>
<text class="wm2" transform="translate(184.5 751.8) rotate(9.8)" textLength="144" lengthAdjust="spacingAndGlyphs">vNext Technologies</text>
<g transform="translate(772.1 782.6) rotate(-13.2)"><text class="wm1" x="0" y="-40" textLength="93" lengthAdjust="spacingAndGlyphs">vNext</text><text class="wm1" x="0" y="0" textLength="200" lengthAdjust="spacingAndGlyphs">Technologies</text></g>
<text class="wm2" transform="translate(698.8 751.8) rotate(9.8)" textLength="144" lengthAdjust="spacingAndGlyphs">vNext Technologies</text>
<g transform="translate(1286.4 782.6) rotate(-13.2)"><text class="wm1" x="0" y="-40" textLength="93" lengthAdjust="spacingAndGlyphs">vNext</text><text class="wm1" x="0" y="0" textLength="200" lengthAdjust="spacingAndGlyphs">Technologies</text></g>
<text class="wm2" transform="translate(1213.1 751.8) rotate(9.8)" textLength="144" lengthAdjust="spacingAndGlyphs">vNext Technologies</text>
<g transform="translate(1800.7 782.6) rotate(-13.2)"><text class="wm1" x="0" y="-40" textLength="93" lengthAdjust="spacingAndGlyphs">vNext</text><text class="wm1" x="0" y="0" textLength="200" lengthAdjust="spacingAndGlyphs">Technologies</text></g>
<text class="wm2" transform="translate(1727.4 751.8) rotate(9.8)" textLength="144" lengthAdjust="spacingAndGlyphs">vNext Technologies</text>
<g transform="translate(2315.0 782.6) rotate(-13.2)"><text class="wm1" x="0" y="-40" textLength="93" lengthAdjust="spacingAndGlyphs">vNext</text><text class="wm1" x="0" y="0" textLength="200" lengthAdjust="spacingAndGlyphs">Technologies</text></g>
<text class="wm2" transform="translate(2241.7 751.8) rotate(9.8)" textLength="144" lengthAdjust="spacingAndGlyphs">vNext Technologies</text>
<g transform="translate(257.8 1297.6) rotate(-13.2)"><text class="wm1" x="0" y="-40" textLength="93" lengthAdjust="spacingAndGlyphs">vNext</text><text class="wm1" x="0" y="0" textLength="200" lengthAdjust="spacingAndGlyphs">Technologies</text></g>
<text class="wm2" transform="translate(184.5 1266.8) rotate(9.8)" textLength="144" lengthAdjust="spacingAndGlyphs">vNext Technologies</text>
<g transform="translate(772.1 1297.6) rotate(-13.2)"><text class="wm1" x="0" y="-40" textLength="93" lengthAdjust="spacingAndGlyphs">vNext</text><text class="wm1" x="0" y="0" textLength="200" lengthAdjust="spacingAndGlyphs">Technologies</text></g>
<text class="wm2" transform="translate(698.8 1266.8) rotate(9.8)" textLength="144" lengthAdjust="spacingAndGlyphs">vNext Technologies</text>
<g transform="translate(1286.4 1297.6) rotate(-13.2)"><text class="wm1" x="0" y="-40" textLength="93" lengthAdjust="spacingAndGlyphs">vNext</text><text class="wm1" x="0" y="0" textLength="200" lengthAdjust="spacingAndGlyphs">Technologies</text></g>
<text class="wm2" transform="translate(1213.1 1266.8) rotate(9.8)" textLength="144" lengthAdjust="spacingAndGlyphs">vNext Technologies</text>
<g transform="translate(1800.7 1297.6) rotate(-13.2)"><text class="wm1" x="0" y="-40" textLength="93" lengthAdjust="spacingAndGlyphs">vNext</text><text class="wm1" x="0" y="0" textLength="200" lengthAdjust="spacingAndGlyphs">Technologies</text></g>
<text class="wm2" transform="translate(1727.4 1266.8) rotate(9.8)" textLength="144" lengthAdjust="spacingAndGlyphs">vNext Technologies</text>
<g transform="translate(2315.0 1297.6) rotate(-13.2)"><text class="wm1" x="0" y="-40" textLength="93" lengthAdjust="spacingAndGlyphs">vNext</text><text class="wm1" x="0" y="0" textLength="200" lengthAdjust="spacingAndGlyphs">Technologies</text></g>
<text class="wm2" transform="translate(2241.7 1266.8) rotate(9.8)" textLength="144" lengthAdjust="spacingAndGlyphs">vNext Technologies</text>
</g>
</svg>
</body></html>
